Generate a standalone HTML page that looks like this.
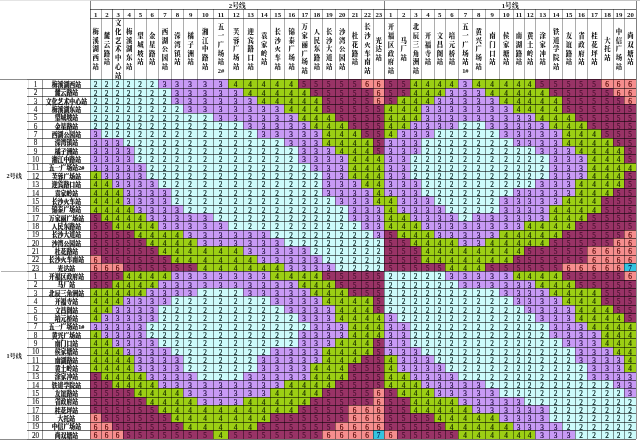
<!DOCTYPE html><html><head><meta charset="utf-8"><title>长沙地铁票价表</title><style>html,body{margin:0;padding:0;background:#fff;}#p{position:relative;width:640px;height:443px;overflow:hidden;background:#fff;font-family:"Liberation Serif","Noto Serif CJK SC",serif;}.c{position:absolute;box-sizing:border-box;padding-top:0.8px;text-align:center;font-size:7.3px;line-height:9px;font-family:"Liberation Serif",serif;-webkit-text-stroke:0.15px currentColor;}.h{position:absolute;}.v{position:absolute;width:1px;background:rgba(0,0,0,0.42);}.hl{position:absolute;height:1px;background:rgba(0,0,0,0.56);}.n{position:absolute;text-align:center;font-size:6.3px;line-height:8.4px;color:#222;}.s{position:absolute;text-align:center;font-size:5.9px;line-height:8.4px;font-weight:900;color:#111;-webkit-text-stroke:0.15px #111;transform:scaleY(1.12);white-space:nowrap;font-family:"Liberation Serif","Noto Serif CJK SC",serif;}.t{position:absolute;text-align:center;font-size:6.4px;line-height:8.75px;font-weight:900;color:#111;font-family:"Liberation Serif","Noto Serif CJK SC",serif;display:flex;flex-direction:column;justify-content:center;align-items:center;}.t span{display:block;height:8.75px;line-height:8.75px;white-space:nowrap;}</style></head><body><div id="p"><div class="c" style="left:90px;top:79px;width:11px;height:9px;background:#cdfbfb;color:#082020">2</div><div class="c" style="left:101px;top:79px;width:11px;height:9px;background:#cdfbfb;color:#082020">2</div><div class="c" style="left:112px;top:79px;width:11px;height:9px;background:#cdfbfb;color:#082020">2</div><div class="c" style="left:123px;top:79px;width:11px;height:9px;background:#cdfbfb;color:#082020">2</div><div class="c" style="left:134px;top:79px;width:12px;height:9px;background:#cdfbfb;color:#082020">2</div><div class="c" style="left:146px;top:79px;width:12px;height:9px;background:#cdfbfb;color:#082020">2</div><div class="c" style="left:158px;top:79px;width:13px;height:9px;background:#c89af5;color:#180634">3</div><div class="c" style="left:171px;top:79px;width:12px;height:9px;background:#c89af5;color:#180634">3</div><div class="c" style="left:183px;top:79px;width:14px;height:9px;background:#c89af5;color:#180634">3</div><div class="c" style="left:197px;top:79px;width:16px;height:9px;background:#c89af5;color:#180634">3</div><div class="c" style="left:213px;top:79px;width:15px;height:9px;background:#c89af5;color:#180634">3</div><div class="c" style="left:228px;top:79px;width:15px;height:9px;background:#9ccf14;color:#102000">4</div><div class="c" style="left:243px;top:79px;width:14px;height:9px;background:#9ccf14;color:#102000">4</div><div class="c" style="left:257px;top:79px;width:13px;height:9px;background:#9ccf14;color:#102000">4</div><div class="c" style="left:270px;top:79px;width:14px;height:9px;background:#9ccf14;color:#102000">4</div><div class="c" style="left:284px;top:79px;width:14px;height:9px;background:#9ccf14;color:#102000">4</div><div class="c" style="left:298px;top:79px;width:12px;height:9px;background:#993366;color:#4a1030">5</div><div class="c" style="left:310px;top:79px;width:12px;height:9px;background:#993366;color:#4a1030">5</div><div class="c" style="left:322px;top:79px;width:13px;height:9px;background:#993366;color:#4a1030">5</div><div class="c" style="left:335px;top:79px;width:13px;height:9px;background:#993366;color:#4a1030">5</div><div class="c" style="left:348px;top:79px;width:13px;height:9px;background:#993366;color:#4a1030">5</div><div class="c" style="left:361px;top:79px;width:12px;height:9px;background:#f68e8e;color:#500404">6</div><div class="c" style="left:373px;top:79px;width:11px;height:9px;background:#f68e8e;color:#500404">6</div><div class="c" style="left:384px;top:79px;width:13px;height:9px;background:#993366;color:#4a1030">5</div><div class="c" style="left:397px;top:79px;width:13px;height:9px;background:#993366;color:#4a1030">5</div><div class="c" style="left:410px;top:79px;width:11px;height:9px;background:#9ccf14;color:#102000">4</div><div class="c" style="left:421px;top:79px;width:13px;height:9px;background:#9ccf14;color:#102000">4</div><div class="c" style="left:434px;top:79px;width:11px;height:9px;background:#9ccf14;color:#102000">4</div><div class="c" style="left:445px;top:79px;width:13px;height:9px;background:#9ccf14;color:#102000">4</div><div class="c" style="left:458px;top:79px;width:14px;height:9px;background:#c89af5;color:#180634">3</div><div class="c" style="left:472px;top:79px;width:13px;height:9px;background:#9ccf14;color:#102000">4</div><div class="c" style="left:485px;top:79px;width:14px;height:9px;background:#9ccf14;color:#102000">4</div><div class="c" style="left:499px;top:79px;width:14px;height:9px;background:#9ccf14;color:#102000">4</div><div class="c" style="left:513px;top:79px;width:11px;height:9px;background:#9ccf14;color:#102000">4</div><div class="c" style="left:524px;top:79px;width:11px;height:9px;background:#9ccf14;color:#102000">4</div><div class="c" style="left:535px;top:79px;width:14px;height:9px;background:#993366;color:#4a1030">5</div><div class="c" style="left:549px;top:79px;width:13px;height:9px;background:#993366;color:#4a1030">5</div><div class="c" style="left:562px;top:79px;width:13px;height:9px;background:#993366;color:#4a1030">5</div><div class="c" style="left:575px;top:79px;width:12px;height:9px;background:#993366;color:#4a1030">5</div><div class="c" style="left:587px;top:79px;width:14px;height:9px;background:#993366;color:#4a1030">5</div><div class="c" style="left:601px;top:79px;width:12px;height:9px;background:#f68e8e;color:#500404">6</div><div class="c" style="left:613px;top:79px;width:11px;height:9px;background:#f68e8e;color:#500404">6</div><div class="c" style="left:624px;top:79px;width:12px;height:9px;background:#f68e8e;color:#500404">6</div><div class="c" style="left:90px;top:88px;width:11px;height:8px;background:#cdfbfb;color:#082020">2</div><div class="c" style="left:101px;top:88px;width:11px;height:8px;background:#cdfbfb;color:#082020">2</div><div class="c" style="left:112px;top:88px;width:11px;height:8px;background:#cdfbfb;color:#082020">2</div><div class="c" style="left:123px;top:88px;width:11px;height:8px;background:#cdfbfb;color:#082020">2</div><div class="c" style="left:134px;top:88px;width:12px;height:8px;background:#cdfbfb;color:#082020">2</div><div class="c" style="left:146px;top:88px;width:12px;height:8px;background:#cdfbfb;color:#082020">2</div><div class="c" style="left:158px;top:88px;width:13px;height:8px;background:#cdfbfb;color:#082020">2</div><div class="c" style="left:171px;top:88px;width:12px;height:8px;background:#c89af5;color:#180634">3</div><div class="c" style="left:183px;top:88px;width:14px;height:8px;background:#c89af5;color:#180634">3</div><div class="c" style="left:197px;top:88px;width:16px;height:8px;background:#c89af5;color:#180634">3</div><div class="c" style="left:213px;top:88px;width:15px;height:8px;background:#c89af5;color:#180634">3</div><div class="c" style="left:228px;top:88px;width:15px;height:8px;background:#c89af5;color:#180634">3</div><div class="c" style="left:243px;top:88px;width:14px;height:8px;background:#9ccf14;color:#102000">4</div><div class="c" style="left:257px;top:88px;width:13px;height:8px;background:#9ccf14;color:#102000">4</div><div class="c" style="left:270px;top:88px;width:14px;height:8px;background:#9ccf14;color:#102000">4</div><div class="c" style="left:284px;top:88px;width:14px;height:8px;background:#9ccf14;color:#102000">4</div><div class="c" style="left:298px;top:88px;width:12px;height:8px;background:#9ccf14;color:#102000">4</div><div class="c" style="left:310px;top:88px;width:12px;height:8px;background:#993366;color:#4a1030">5</div><div class="c" style="left:322px;top:88px;width:13px;height:8px;background:#993366;color:#4a1030">5</div><div class="c" style="left:335px;top:88px;width:13px;height:8px;background:#993366;color:#4a1030">5</div><div class="c" style="left:348px;top:88px;width:13px;height:8px;background:#993366;color:#4a1030">5</div><div class="c" style="left:361px;top:88px;width:12px;height:8px;background:#993366;color:#4a1030">5</div><div class="c" style="left:373px;top:88px;width:11px;height:8px;background:#f68e8e;color:#500404">6</div><div class="c" style="left:384px;top:88px;width:13px;height:8px;background:#993366;color:#4a1030">5</div><div class="c" style="left:397px;top:88px;width:13px;height:8px;background:#993366;color:#4a1030">5</div><div class="c" style="left:410px;top:88px;width:11px;height:8px;background:#9ccf14;color:#102000">4</div><div class="c" style="left:421px;top:88px;width:13px;height:8px;background:#9ccf14;color:#102000">4</div><div class="c" style="left:434px;top:88px;width:11px;height:8px;background:#9ccf14;color:#102000">4</div><div class="c" style="left:445px;top:88px;width:13px;height:8px;background:#c89af5;color:#180634">3</div><div class="c" style="left:458px;top:88px;width:14px;height:8px;background:#c89af5;color:#180634">3</div><div class="c" style="left:472px;top:88px;width:13px;height:8px;background:#c89af5;color:#180634">3</div><div class="c" style="left:485px;top:88px;width:14px;height:8px;background:#9ccf14;color:#102000">4</div><div class="c" style="left:499px;top:88px;width:14px;height:8px;background:#9ccf14;color:#102000">4</div><div class="c" style="left:513px;top:88px;width:11px;height:8px;background:#9ccf14;color:#102000">4</div><div class="c" style="left:524px;top:88px;width:11px;height:8px;background:#9ccf14;color:#102000">4</div><div class="c" style="left:535px;top:88px;width:14px;height:8px;background:#9ccf14;color:#102000">4</div><div class="c" style="left:549px;top:88px;width:13px;height:8px;background:#993366;color:#4a1030">5</div><div class="c" style="left:562px;top:88px;width:13px;height:8px;background:#993366;color:#4a1030">5</div><div class="c" style="left:575px;top:88px;width:12px;height:8px;background:#993366;color:#4a1030">5</div><div class="c" style="left:587px;top:88px;width:14px;height:8px;background:#993366;color:#4a1030">5</div><div class="c" style="left:601px;top:88px;width:12px;height:8px;background:#993366;color:#4a1030">5</div><div class="c" style="left:613px;top:88px;width:11px;height:8px;background:#f68e8e;color:#500404">6</div><div class="c" style="left:624px;top:88px;width:12px;height:8px;background:#f68e8e;color:#500404">6</div><div class="c" style="left:90px;top:96px;width:11px;height:8px;background:#cdfbfb;color:#082020">2</div><div class="c" style="left:101px;top:96px;width:11px;height:8px;background:#cdfbfb;color:#082020">2</div><div class="c" style="left:112px;top:96px;width:11px;height:8px;background:#cdfbfb;color:#082020">2</div><div class="c" style="left:123px;top:96px;width:11px;height:8px;background:#cdfbfb;color:#082020">2</div><div class="c" style="left:134px;top:96px;width:12px;height:8px;background:#cdfbfb;color:#082020">2</div><div class="c" style="left:146px;top:96px;width:12px;height:8px;background:#cdfbfb;color:#082020">2</div><div class="c" style="left:158px;top:96px;width:13px;height:8px;background:#cdfbfb;color:#082020">2</div><div class="c" style="left:171px;top:96px;width:12px;height:8px;background:#c89af5;color:#180634">3</div><div class="c" style="left:183px;top:96px;width:14px;height:8px;background:#c89af5;color:#180634">3</div><div class="c" style="left:197px;top:96px;width:16px;height:8px;background:#c89af5;color:#180634">3</div><div class="c" style="left:213px;top:96px;width:15px;height:8px;background:#c89af5;color:#180634">3</div><div class="c" style="left:228px;top:96px;width:15px;height:8px;background:#c89af5;color:#180634">3</div><div class="c" style="left:243px;top:96px;width:14px;height:8px;background:#c89af5;color:#180634">3</div><div class="c" style="left:257px;top:96px;width:13px;height:8px;background:#9ccf14;color:#102000">4</div><div class="c" style="left:270px;top:96px;width:14px;height:8px;background:#9ccf14;color:#102000">4</div><div class="c" style="left:284px;top:96px;width:14px;height:8px;background:#9ccf14;color:#102000">4</div><div class="c" style="left:298px;top:96px;width:12px;height:8px;background:#9ccf14;color:#102000">4</div><div class="c" style="left:310px;top:96px;width:12px;height:8px;background:#9ccf14;color:#102000">4</div><div class="c" style="left:322px;top:96px;width:13px;height:8px;background:#993366;color:#4a1030">5</div><div class="c" style="left:335px;top:96px;width:13px;height:8px;background:#993366;color:#4a1030">5</div><div class="c" style="left:348px;top:96px;width:13px;height:8px;background:#993366;color:#4a1030">5</div><div class="c" style="left:361px;top:96px;width:12px;height:8px;background:#993366;color:#4a1030">5</div><div class="c" style="left:373px;top:96px;width:11px;height:8px;background:#f68e8e;color:#500404">6</div><div class="c" style="left:384px;top:96px;width:13px;height:8px;background:#993366;color:#4a1030">5</div><div class="c" style="left:397px;top:96px;width:13px;height:8px;background:#9ccf14;color:#102000">4</div><div class="c" style="left:410px;top:96px;width:11px;height:8px;background:#9ccf14;color:#102000">4</div><div class="c" style="left:421px;top:96px;width:13px;height:8px;background:#9ccf14;color:#102000">4</div><div class="c" style="left:434px;top:96px;width:11px;height:8px;background:#c89af5;color:#180634">3</div><div class="c" style="left:445px;top:96px;width:13px;height:8px;background:#c89af5;color:#180634">3</div><div class="c" style="left:458px;top:96px;width:14px;height:8px;background:#c89af5;color:#180634">3</div><div class="c" style="left:472px;top:96px;width:13px;height:8px;background:#c89af5;color:#180634">3</div><div class="c" style="left:485px;top:96px;width:14px;height:8px;background:#c89af5;color:#180634">3</div><div class="c" style="left:499px;top:96px;width:14px;height:8px;background:#9ccf14;color:#102000">4</div><div class="c" style="left:513px;top:96px;width:11px;height:8px;background:#9ccf14;color:#102000">4</div><div class="c" style="left:524px;top:96px;width:11px;height:8px;background:#9ccf14;color:#102000">4</div><div class="c" style="left:535px;top:96px;width:14px;height:8px;background:#9ccf14;color:#102000">4</div><div class="c" style="left:549px;top:96px;width:13px;height:8px;background:#9ccf14;color:#102000">4</div><div class="c" style="left:562px;top:96px;width:13px;height:8px;background:#993366;color:#4a1030">5</div><div class="c" style="left:575px;top:96px;width:12px;height:8px;background:#993366;color:#4a1030">5</div><div class="c" style="left:587px;top:96px;width:14px;height:8px;background:#993366;color:#4a1030">5</div><div class="c" style="left:601px;top:96px;width:12px;height:8px;background:#993366;color:#4a1030">5</div><div class="c" style="left:613px;top:96px;width:11px;height:8px;background:#993366;color:#4a1030">5</div><div class="c" style="left:624px;top:96px;width:12px;height:8px;background:#f68e8e;color:#500404">6</div><div class="c" style="left:90px;top:104px;width:11px;height:9px;background:#cdfbfb;color:#082020">2</div><div class="c" style="left:101px;top:104px;width:11px;height:9px;background:#cdfbfb;color:#082020">2</div><div class="c" style="left:112px;top:104px;width:11px;height:9px;background:#cdfbfb;color:#082020">2</div><div class="c" style="left:123px;top:104px;width:11px;height:9px;background:#cdfbfb;color:#082020">2</div><div class="c" style="left:134px;top:104px;width:12px;height:9px;background:#cdfbfb;color:#082020">2</div><div class="c" style="left:146px;top:104px;width:12px;height:9px;background:#cdfbfb;color:#082020">2</div><div class="c" style="left:158px;top:104px;width:13px;height:9px;background:#cdfbfb;color:#082020">2</div><div class="c" style="left:171px;top:104px;width:12px;height:9px;background:#cdfbfb;color:#082020">2</div><div class="c" style="left:183px;top:104px;width:14px;height:9px;background:#c89af5;color:#180634">3</div><div class="c" style="left:197px;top:104px;width:16px;height:9px;background:#c89af5;color:#180634">3</div><div class="c" style="left:213px;top:104px;width:15px;height:9px;background:#c89af5;color:#180634">3</div><div class="c" style="left:228px;top:104px;width:15px;height:9px;background:#c89af5;color:#180634">3</div><div class="c" style="left:243px;top:104px;width:14px;height:9px;background:#c89af5;color:#180634">3</div><div class="c" style="left:257px;top:104px;width:13px;height:9px;background:#c89af5;color:#180634">3</div><div class="c" style="left:270px;top:104px;width:14px;height:9px;background:#c89af5;color:#180634">3</div><div class="c" style="left:284px;top:104px;width:14px;height:9px;background:#9ccf14;color:#102000">4</div><div class="c" style="left:298px;top:104px;width:12px;height:9px;background:#9ccf14;color:#102000">4</div><div class="c" style="left:310px;top:104px;width:12px;height:9px;background:#9ccf14;color:#102000">4</div><div class="c" style="left:322px;top:104px;width:13px;height:9px;background:#993366;color:#4a1030">5</div><div class="c" style="left:335px;top:104px;width:13px;height:9px;background:#993366;color:#4a1030">5</div><div class="c" style="left:348px;top:104px;width:13px;height:9px;background:#993366;color:#4a1030">5</div><div class="c" style="left:361px;top:104px;width:12px;height:9px;background:#993366;color:#4a1030">5</div><div class="c" style="left:373px;top:104px;width:11px;height:9px;background:#993366;color:#4a1030">5</div><div class="c" style="left:384px;top:104px;width:13px;height:9px;background:#9ccf14;color:#102000">4</div><div class="c" style="left:397px;top:104px;width:13px;height:9px;background:#9ccf14;color:#102000">4</div><div class="c" style="left:410px;top:104px;width:11px;height:9px;background:#9ccf14;color:#102000">4</div><div class="c" style="left:421px;top:104px;width:13px;height:9px;background:#c89af5;color:#180634">3</div><div class="c" style="left:434px;top:104px;width:11px;height:9px;background:#c89af5;color:#180634">3</div><div class="c" style="left:445px;top:104px;width:13px;height:9px;background:#c89af5;color:#180634">3</div><div class="c" style="left:458px;top:104px;width:14px;height:9px;background:#c89af5;color:#180634">3</div><div class="c" style="left:472px;top:104px;width:13px;height:9px;background:#c89af5;color:#180634">3</div><div class="c" style="left:485px;top:104px;width:14px;height:9px;background:#c89af5;color:#180634">3</div><div class="c" style="left:499px;top:104px;width:14px;height:9px;background:#c89af5;color:#180634">3</div><div class="c" style="left:513px;top:104px;width:11px;height:9px;background:#9ccf14;color:#102000">4</div><div class="c" style="left:524px;top:104px;width:11px;height:9px;background:#9ccf14;color:#102000">4</div><div class="c" style="left:535px;top:104px;width:14px;height:9px;background:#9ccf14;color:#102000">4</div><div class="c" style="left:549px;top:104px;width:13px;height:9px;background:#9ccf14;color:#102000">4</div><div class="c" style="left:562px;top:104px;width:13px;height:9px;background:#993366;color:#4a1030">5</div><div class="c" style="left:575px;top:104px;width:12px;height:9px;background:#993366;color:#4a1030">5</div><div class="c" style="left:587px;top:104px;width:14px;height:9px;background:#993366;color:#4a1030">5</div><div class="c" style="left:601px;top:104px;width:12px;height:9px;background:#993366;color:#4a1030">5</div><div class="c" style="left:613px;top:104px;width:11px;height:9px;background:#993366;color:#4a1030">5</div><div class="c" style="left:624px;top:104px;width:12px;height:9px;background:#993366;color:#4a1030">5</div><div class="c" style="left:90px;top:113px;width:11px;height:8px;background:#cdfbfb;color:#082020">2</div><div class="c" style="left:101px;top:113px;width:11px;height:8px;background:#cdfbfb;color:#082020">2</div><div class="c" style="left:112px;top:113px;width:11px;height:8px;background:#cdfbfb;color:#082020">2</div><div class="c" style="left:123px;top:113px;width:11px;height:8px;background:#cdfbfb;color:#082020">2</div><div class="c" style="left:134px;top:113px;width:12px;height:8px;background:#cdfbfb;color:#082020">2</div><div class="c" style="left:146px;top:113px;width:12px;height:8px;background:#cdfbfb;color:#082020">2</div><div class="c" style="left:158px;top:113px;width:13px;height:8px;background:#cdfbfb;color:#082020">2</div><div class="c" style="left:171px;top:113px;width:12px;height:8px;background:#cdfbfb;color:#082020">2</div><div class="c" style="left:183px;top:113px;width:14px;height:8px;background:#cdfbfb;color:#082020">2</div><div class="c" style="left:197px;top:113px;width:16px;height:8px;background:#cdfbfb;color:#082020">2</div><div class="c" style="left:213px;top:113px;width:15px;height:8px;background:#c89af5;color:#180634">3</div><div class="c" style="left:228px;top:113px;width:15px;height:8px;background:#c89af5;color:#180634">3</div><div class="c" style="left:243px;top:113px;width:14px;height:8px;background:#c89af5;color:#180634">3</div><div class="c" style="left:257px;top:113px;width:13px;height:8px;background:#c89af5;color:#180634">3</div><div class="c" style="left:270px;top:113px;width:14px;height:8px;background:#c89af5;color:#180634">3</div><div class="c" style="left:284px;top:113px;width:14px;height:8px;background:#c89af5;color:#180634">3</div><div class="c" style="left:298px;top:113px;width:12px;height:8px;background:#9ccf14;color:#102000">4</div><div class="c" style="left:310px;top:113px;width:12px;height:8px;background:#9ccf14;color:#102000">4</div><div class="c" style="left:322px;top:113px;width:13px;height:8px;background:#9ccf14;color:#102000">4</div><div class="c" style="left:335px;top:113px;width:13px;height:8px;background:#993366;color:#4a1030">5</div><div class="c" style="left:348px;top:113px;width:13px;height:8px;background:#993366;color:#4a1030">5</div><div class="c" style="left:361px;top:113px;width:12px;height:8px;background:#993366;color:#4a1030">5</div><div class="c" style="left:373px;top:113px;width:11px;height:8px;background:#993366;color:#4a1030">5</div><div class="c" style="left:384px;top:113px;width:13px;height:8px;background:#9ccf14;color:#102000">4</div><div class="c" style="left:397px;top:113px;width:13px;height:8px;background:#9ccf14;color:#102000">4</div><div class="c" style="left:410px;top:113px;width:11px;height:8px;background:#9ccf14;color:#102000">4</div><div class="c" style="left:421px;top:113px;width:13px;height:8px;background:#c89af5;color:#180634">3</div><div class="c" style="left:434px;top:113px;width:11px;height:8px;background:#c89af5;color:#180634">3</div><div class="c" style="left:445px;top:113px;width:13px;height:8px;background:#c89af5;color:#180634">3</div><div class="c" style="left:458px;top:113px;width:14px;height:8px;background:#c89af5;color:#180634">3</div><div class="c" style="left:472px;top:113px;width:13px;height:8px;background:#c89af5;color:#180634">3</div><div class="c" style="left:485px;top:113px;width:14px;height:8px;background:#c89af5;color:#180634">3</div><div class="c" style="left:499px;top:113px;width:14px;height:8px;background:#c89af5;color:#180634">3</div><div class="c" style="left:513px;top:113px;width:11px;height:8px;background:#c89af5;color:#180634">3</div><div class="c" style="left:524px;top:113px;width:11px;height:8px;background:#c89af5;color:#180634">3</div><div class="c" style="left:535px;top:113px;width:14px;height:8px;background:#9ccf14;color:#102000">4</div><div class="c" style="left:549px;top:113px;width:13px;height:8px;background:#9ccf14;color:#102000">4</div><div class="c" style="left:562px;top:113px;width:13px;height:8px;background:#9ccf14;color:#102000">4</div><div class="c" style="left:575px;top:113px;width:12px;height:8px;background:#993366;color:#4a1030">5</div><div class="c" style="left:587px;top:113px;width:14px;height:8px;background:#993366;color:#4a1030">5</div><div class="c" style="left:601px;top:113px;width:12px;height:8px;background:#993366;color:#4a1030">5</div><div class="c" style="left:613px;top:113px;width:11px;height:8px;background:#993366;color:#4a1030">5</div><div class="c" style="left:624px;top:113px;width:12px;height:8px;background:#993366;color:#4a1030">5</div><div class="c" style="left:90px;top:121px;width:11px;height:8px;background:#cdfbfb;color:#082020">2</div><div class="c" style="left:101px;top:121px;width:11px;height:8px;background:#cdfbfb;color:#082020">2</div><div class="c" style="left:112px;top:121px;width:11px;height:8px;background:#cdfbfb;color:#082020">2</div><div class="c" style="left:123px;top:121px;width:11px;height:8px;background:#cdfbfb;color:#082020">2</div><div class="c" style="left:134px;top:121px;width:12px;height:8px;background:#cdfbfb;color:#082020">2</div><div class="c" style="left:146px;top:121px;width:12px;height:8px;background:#cdfbfb;color:#082020">2</div><div class="c" style="left:158px;top:121px;width:13px;height:8px;background:#cdfbfb;color:#082020">2</div><div class="c" style="left:171px;top:121px;width:12px;height:8px;background:#cdfbfb;color:#082020">2</div><div class="c" style="left:183px;top:121px;width:14px;height:8px;background:#cdfbfb;color:#082020">2</div><div class="c" style="left:197px;top:121px;width:16px;height:8px;background:#cdfbfb;color:#082020">2</div><div class="c" style="left:213px;top:121px;width:15px;height:8px;background:#cdfbfb;color:#082020">2</div><div class="c" style="left:228px;top:121px;width:15px;height:8px;background:#cdfbfb;color:#082020">2</div><div class="c" style="left:243px;top:121px;width:14px;height:8px;background:#c89af5;color:#180634">3</div><div class="c" style="left:257px;top:121px;width:13px;height:8px;background:#c89af5;color:#180634">3</div><div class="c" style="left:270px;top:121px;width:14px;height:8px;background:#c89af5;color:#180634">3</div><div class="c" style="left:284px;top:121px;width:14px;height:8px;background:#c89af5;color:#180634">3</div><div class="c" style="left:298px;top:121px;width:12px;height:8px;background:#c89af5;color:#180634">3</div><div class="c" style="left:310px;top:121px;width:12px;height:8px;background:#9ccf14;color:#102000">4</div><div class="c" style="left:322px;top:121px;width:13px;height:8px;background:#9ccf14;color:#102000">4</div><div class="c" style="left:335px;top:121px;width:13px;height:8px;background:#9ccf14;color:#102000">4</div><div class="c" style="left:348px;top:121px;width:13px;height:8px;background:#993366;color:#4a1030">5</div><div class="c" style="left:361px;top:121px;width:12px;height:8px;background:#993366;color:#4a1030">5</div><div class="c" style="left:373px;top:121px;width:11px;height:8px;background:#993366;color:#4a1030">5</div><div class="c" style="left:384px;top:121px;width:13px;height:8px;background:#9ccf14;color:#102000">4</div><div class="c" style="left:397px;top:121px;width:13px;height:8px;background:#9ccf14;color:#102000">4</div><div class="c" style="left:410px;top:121px;width:11px;height:8px;background:#c89af5;color:#180634">3</div><div class="c" style="left:421px;top:121px;width:13px;height:8px;background:#c89af5;color:#180634">3</div><div class="c" style="left:434px;top:121px;width:11px;height:8px;background:#c89af5;color:#180634">3</div><div class="c" style="left:445px;top:121px;width:13px;height:8px;background:#c89af5;color:#180634">3</div><div class="c" style="left:458px;top:121px;width:14px;height:8px;background:#cdfbfb;color:#082020">2</div><div class="c" style="left:472px;top:121px;width:13px;height:8px;background:#cdfbfb;color:#082020">2</div><div class="c" style="left:485px;top:121px;width:14px;height:8px;background:#c89af5;color:#180634">3</div><div class="c" style="left:499px;top:121px;width:14px;height:8px;background:#c89af5;color:#180634">3</div><div class="c" style="left:513px;top:121px;width:11px;height:8px;background:#c89af5;color:#180634">3</div><div class="c" style="left:524px;top:121px;width:11px;height:8px;background:#c89af5;color:#180634">3</div><div class="c" style="left:535px;top:121px;width:14px;height:8px;background:#c89af5;color:#180634">3</div><div class="c" style="left:549px;top:121px;width:13px;height:8px;background:#9ccf14;color:#102000">4</div><div class="c" style="left:562px;top:121px;width:13px;height:8px;background:#9ccf14;color:#102000">4</div><div class="c" style="left:575px;top:121px;width:12px;height:8px;background:#9ccf14;color:#102000">4</div><div class="c" style="left:587px;top:121px;width:14px;height:8px;background:#993366;color:#4a1030">5</div><div class="c" style="left:601px;top:121px;width:12px;height:8px;background:#993366;color:#4a1030">5</div><div class="c" style="left:613px;top:121px;width:11px;height:8px;background:#993366;color:#4a1030">5</div><div class="c" style="left:624px;top:121px;width:12px;height:8px;background:#993366;color:#4a1030">5</div><div class="c" style="left:90px;top:129px;width:11px;height:9px;background:#c89af5;color:#180634">3</div><div class="c" style="left:101px;top:129px;width:11px;height:9px;background:#cdfbfb;color:#082020">2</div><div class="c" style="left:112px;top:129px;width:11px;height:9px;background:#cdfbfb;color:#082020">2</div><div class="c" style="left:123px;top:129px;width:11px;height:9px;background:#cdfbfb;color:#082020">2</div><div class="c" style="left:134px;top:129px;width:12px;height:9px;background:#cdfbfb;color:#082020">2</div><div class="c" style="left:146px;top:129px;width:12px;height:9px;background:#cdfbfb;color:#082020">2</div><div class="c" style="left:158px;top:129px;width:13px;height:9px;background:#cdfbfb;color:#082020">2</div><div class="c" style="left:171px;top:129px;width:12px;height:9px;background:#cdfbfb;color:#082020">2</div><div class="c" style="left:183px;top:129px;width:14px;height:9px;background:#cdfbfb;color:#082020">2</div><div class="c" style="left:197px;top:129px;width:16px;height:9px;background:#cdfbfb;color:#082020">2</div><div class="c" style="left:213px;top:129px;width:15px;height:9px;background:#cdfbfb;color:#082020">2</div><div class="c" style="left:228px;top:129px;width:15px;height:9px;background:#cdfbfb;color:#082020">2</div><div class="c" style="left:243px;top:129px;width:14px;height:9px;background:#cdfbfb;color:#082020">2</div><div class="c" style="left:257px;top:129px;width:13px;height:9px;background:#c89af5;color:#180634">3</div><div class="c" style="left:270px;top:129px;width:14px;height:9px;background:#c89af5;color:#180634">3</div><div class="c" style="left:284px;top:129px;width:14px;height:9px;background:#c89af5;color:#180634">3</div><div class="c" style="left:298px;top:129px;width:12px;height:9px;background:#c89af5;color:#180634">3</div><div class="c" style="left:310px;top:129px;width:12px;height:9px;background:#c89af5;color:#180634">3</div><div class="c" style="left:322px;top:129px;width:13px;height:9px;background:#9ccf14;color:#102000">4</div><div class="c" style="left:335px;top:129px;width:13px;height:9px;background:#9ccf14;color:#102000">4</div><div class="c" style="left:348px;top:129px;width:13px;height:9px;background:#9ccf14;color:#102000">4</div><div class="c" style="left:361px;top:129px;width:12px;height:9px;background:#993366;color:#4a1030">5</div><div class="c" style="left:373px;top:129px;width:11px;height:9px;background:#993366;color:#4a1030">5</div><div class="c" style="left:384px;top:129px;width:13px;height:9px;background:#9ccf14;color:#102000">4</div><div class="c" style="left:397px;top:129px;width:13px;height:9px;background:#c89af5;color:#180634">3</div><div class="c" style="left:410px;top:129px;width:11px;height:9px;background:#c89af5;color:#180634">3</div><div class="c" style="left:421px;top:129px;width:13px;height:9px;background:#c89af5;color:#180634">3</div><div class="c" style="left:434px;top:129px;width:11px;height:9px;background:#cdfbfb;color:#082020">2</div><div class="c" style="left:445px;top:129px;width:13px;height:9px;background:#cdfbfb;color:#082020">2</div><div class="c" style="left:458px;top:129px;width:14px;height:9px;background:#cdfbfb;color:#082020">2</div><div class="c" style="left:472px;top:129px;width:13px;height:9px;background:#cdfbfb;color:#082020">2</div><div class="c" style="left:485px;top:129px;width:14px;height:9px;background:#cdfbfb;color:#082020">2</div><div class="c" style="left:499px;top:129px;width:14px;height:9px;background:#c89af5;color:#180634">3</div><div class="c" style="left:513px;top:129px;width:11px;height:9px;background:#c89af5;color:#180634">3</div><div class="c" style="left:524px;top:129px;width:11px;height:9px;background:#c89af5;color:#180634">3</div><div class="c" style="left:535px;top:129px;width:14px;height:9px;background:#c89af5;color:#180634">3</div><div class="c" style="left:549px;top:129px;width:13px;height:9px;background:#c89af5;color:#180634">3</div><div class="c" style="left:562px;top:129px;width:13px;height:9px;background:#9ccf14;color:#102000">4</div><div class="c" style="left:575px;top:129px;width:12px;height:9px;background:#9ccf14;color:#102000">4</div><div class="c" style="left:587px;top:129px;width:14px;height:9px;background:#9ccf14;color:#102000">4</div><div class="c" style="left:601px;top:129px;width:12px;height:9px;background:#993366;color:#4a1030">5</div><div class="c" style="left:613px;top:129px;width:11px;height:9px;background:#993366;color:#4a1030">5</div><div class="c" style="left:624px;top:129px;width:12px;height:9px;background:#993366;color:#4a1030">5</div><div class="c" style="left:90px;top:138px;width:11px;height:8px;background:#c89af5;color:#180634">3</div><div class="c" style="left:101px;top:138px;width:11px;height:8px;background:#c89af5;color:#180634">3</div><div class="c" style="left:112px;top:138px;width:11px;height:8px;background:#c89af5;color:#180634">3</div><div class="c" style="left:123px;top:138px;width:11px;height:8px;background:#cdfbfb;color:#082020">2</div><div class="c" style="left:134px;top:138px;width:12px;height:8px;background:#cdfbfb;color:#082020">2</div><div class="c" style="left:146px;top:138px;width:12px;height:8px;background:#cdfbfb;color:#082020">2</div><div class="c" style="left:158px;top:138px;width:13px;height:8px;background:#cdfbfb;color:#082020">2</div><div class="c" style="left:171px;top:138px;width:12px;height:8px;background:#cdfbfb;color:#082020">2</div><div class="c" style="left:183px;top:138px;width:14px;height:8px;background:#cdfbfb;color:#082020">2</div><div class="c" style="left:197px;top:138px;width:16px;height:8px;background:#cdfbfb;color:#082020">2</div><div class="c" style="left:213px;top:138px;width:15px;height:8px;background:#cdfbfb;color:#082020">2</div><div class="c" style="left:228px;top:138px;width:15px;height:8px;background:#cdfbfb;color:#082020">2</div><div class="c" style="left:243px;top:138px;width:14px;height:8px;background:#cdfbfb;color:#082020">2</div><div class="c" style="left:257px;top:138px;width:13px;height:8px;background:#cdfbfb;color:#082020">2</div><div class="c" style="left:270px;top:138px;width:14px;height:8px;background:#cdfbfb;color:#082020">2</div><div class="c" style="left:284px;top:138px;width:14px;height:8px;background:#c89af5;color:#180634">3</div><div class="c" style="left:298px;top:138px;width:12px;height:8px;background:#c89af5;color:#180634">3</div><div class="c" style="left:310px;top:138px;width:12px;height:8px;background:#c89af5;color:#180634">3</div><div class="c" style="left:322px;top:138px;width:13px;height:8px;background:#9ccf14;color:#102000">4</div><div class="c" style="left:335px;top:138px;width:13px;height:8px;background:#9ccf14;color:#102000">4</div><div class="c" style="left:348px;top:138px;width:13px;height:8px;background:#9ccf14;color:#102000">4</div><div class="c" style="left:361px;top:138px;width:12px;height:8px;background:#9ccf14;color:#102000">4</div><div class="c" style="left:373px;top:138px;width:11px;height:8px;background:#993366;color:#4a1030">5</div><div class="c" style="left:384px;top:138px;width:13px;height:8px;background:#c89af5;color:#180634">3</div><div class="c" style="left:397px;top:138px;width:13px;height:8px;background:#c89af5;color:#180634">3</div><div class="c" style="left:410px;top:138px;width:11px;height:8px;background:#c89af5;color:#180634">3</div><div class="c" style="left:421px;top:138px;width:13px;height:8px;background:#cdfbfb;color:#082020">2</div><div class="c" style="left:434px;top:138px;width:11px;height:8px;background:#cdfbfb;color:#082020">2</div><div class="c" style="left:445px;top:138px;width:13px;height:8px;background:#cdfbfb;color:#082020">2</div><div class="c" style="left:458px;top:138px;width:14px;height:8px;background:#cdfbfb;color:#082020">2</div><div class="c" style="left:472px;top:138px;width:13px;height:8px;background:#cdfbfb;color:#082020">2</div><div class="c" style="left:485px;top:138px;width:14px;height:8px;background:#cdfbfb;color:#082020">2</div><div class="c" style="left:499px;top:138px;width:14px;height:8px;background:#cdfbfb;color:#082020">2</div><div class="c" style="left:513px;top:138px;width:11px;height:8px;background:#c89af5;color:#180634">3</div><div class="c" style="left:524px;top:138px;width:11px;height:8px;background:#c89af5;color:#180634">3</div><div class="c" style="left:535px;top:138px;width:14px;height:8px;background:#c89af5;color:#180634">3</div><div class="c" style="left:549px;top:138px;width:13px;height:8px;background:#c89af5;color:#180634">3</div><div class="c" style="left:562px;top:138px;width:13px;height:8px;background:#9ccf14;color:#102000">4</div><div class="c" style="left:575px;top:138px;width:12px;height:8px;background:#9ccf14;color:#102000">4</div><div class="c" style="left:587px;top:138px;width:14px;height:8px;background:#9ccf14;color:#102000">4</div><div class="c" style="left:601px;top:138px;width:12px;height:8px;background:#9ccf14;color:#102000">4</div><div class="c" style="left:613px;top:138px;width:11px;height:8px;background:#993366;color:#4a1030">5</div><div class="c" style="left:624px;top:138px;width:12px;height:8px;background:#993366;color:#4a1030">5</div><div class="c" style="left:90px;top:146px;width:11px;height:8px;background:#c89af5;color:#180634">3</div><div class="c" style="left:101px;top:146px;width:11px;height:8px;background:#c89af5;color:#180634">3</div><div class="c" style="left:112px;top:146px;width:11px;height:8px;background:#c89af5;color:#180634">3</div><div class="c" style="left:123px;top:146px;width:11px;height:8px;background:#c89af5;color:#180634">3</div><div class="c" style="left:134px;top:146px;width:12px;height:8px;background:#cdfbfb;color:#082020">2</div><div class="c" style="left:146px;top:146px;width:12px;height:8px;background:#cdfbfb;color:#082020">2</div><div class="c" style="left:158px;top:146px;width:13px;height:8px;background:#cdfbfb;color:#082020">2</div><div class="c" style="left:171px;top:146px;width:12px;height:8px;background:#cdfbfb;color:#082020">2</div><div class="c" style="left:183px;top:146px;width:14px;height:8px;background:#cdfbfb;color:#082020">2</div><div class="c" style="left:197px;top:146px;width:16px;height:8px;background:#cdfbfb;color:#082020">2</div><div class="c" style="left:213px;top:146px;width:15px;height:8px;background:#cdfbfb;color:#082020">2</div><div class="c" style="left:228px;top:146px;width:15px;height:8px;background:#cdfbfb;color:#082020">2</div><div class="c" style="left:243px;top:146px;width:14px;height:8px;background:#cdfbfb;color:#082020">2</div><div class="c" style="left:257px;top:146px;width:13px;height:8px;background:#cdfbfb;color:#082020">2</div><div class="c" style="left:270px;top:146px;width:14px;height:8px;background:#cdfbfb;color:#082020">2</div><div class="c" style="left:284px;top:146px;width:14px;height:8px;background:#cdfbfb;color:#082020">2</div><div class="c" style="left:298px;top:146px;width:12px;height:8px;background:#c89af5;color:#180634">3</div><div class="c" style="left:310px;top:146px;width:12px;height:8px;background:#c89af5;color:#180634">3</div><div class="c" style="left:322px;top:146px;width:13px;height:8px;background:#c89af5;color:#180634">3</div><div class="c" style="left:335px;top:146px;width:13px;height:8px;background:#9ccf14;color:#102000">4</div><div class="c" style="left:348px;top:146px;width:13px;height:8px;background:#9ccf14;color:#102000">4</div><div class="c" style="left:361px;top:146px;width:12px;height:8px;background:#9ccf14;color:#102000">4</div><div class="c" style="left:373px;top:146px;width:11px;height:8px;background:#993366;color:#4a1030">5</div><div class="c" style="left:384px;top:146px;width:13px;height:8px;background:#c89af5;color:#180634">3</div><div class="c" style="left:397px;top:146px;width:13px;height:8px;background:#c89af5;color:#180634">3</div><div class="c" style="left:410px;top:146px;width:11px;height:8px;background:#c89af5;color:#180634">3</div><div class="c" style="left:421px;top:146px;width:13px;height:8px;background:#cdfbfb;color:#082020">2</div><div class="c" style="left:434px;top:146px;width:11px;height:8px;background:#cdfbfb;color:#082020">2</div><div class="c" style="left:445px;top:146px;width:13px;height:8px;background:#cdfbfb;color:#082020">2</div><div class="c" style="left:458px;top:146px;width:14px;height:8px;background:#cdfbfb;color:#082020">2</div><div class="c" style="left:472px;top:146px;width:13px;height:8px;background:#cdfbfb;color:#082020">2</div><div class="c" style="left:485px;top:146px;width:14px;height:8px;background:#cdfbfb;color:#082020">2</div><div class="c" style="left:499px;top:146px;width:14px;height:8px;background:#cdfbfb;color:#082020">2</div><div class="c" style="left:513px;top:146px;width:11px;height:8px;background:#cdfbfb;color:#082020">2</div><div class="c" style="left:524px;top:146px;width:11px;height:8px;background:#cdfbfb;color:#082020">2</div><div class="c" style="left:535px;top:146px;width:14px;height:8px;background:#c89af5;color:#180634">3</div><div class="c" style="left:549px;top:146px;width:13px;height:8px;background:#c89af5;color:#180634">3</div><div class="c" style="left:562px;top:146px;width:13px;height:8px;background:#c89af5;color:#180634">3</div><div class="c" style="left:575px;top:146px;width:12px;height:8px;background:#9ccf14;color:#102000">4</div><div class="c" style="left:587px;top:146px;width:14px;height:8px;background:#9ccf14;color:#102000">4</div><div class="c" style="left:601px;top:146px;width:12px;height:8px;background:#9ccf14;color:#102000">4</div><div class="c" style="left:613px;top:146px;width:11px;height:8px;background:#9ccf14;color:#102000">4</div><div class="c" style="left:624px;top:146px;width:12px;height:8px;background:#993366;color:#4a1030">5</div><div class="c" style="left:90px;top:154px;width:11px;height:9px;background:#c89af5;color:#180634">3</div><div class="c" style="left:101px;top:154px;width:11px;height:9px;background:#c89af5;color:#180634">3</div><div class="c" style="left:112px;top:154px;width:11px;height:9px;background:#c89af5;color:#180634">3</div><div class="c" style="left:123px;top:154px;width:11px;height:9px;background:#c89af5;color:#180634">3</div><div class="c" style="left:134px;top:154px;width:12px;height:9px;background:#cdfbfb;color:#082020">2</div><div class="c" style="left:146px;top:154px;width:12px;height:9px;background:#cdfbfb;color:#082020">2</div><div class="c" style="left:158px;top:154px;width:13px;height:9px;background:#cdfbfb;color:#082020">2</div><div class="c" style="left:171px;top:154px;width:12px;height:9px;background:#cdfbfb;color:#082020">2</div><div class="c" style="left:183px;top:154px;width:14px;height:9px;background:#cdfbfb;color:#082020">2</div><div class="c" style="left:197px;top:154px;width:16px;height:9px;background:#cdfbfb;color:#082020">2</div><div class="c" style="left:213px;top:154px;width:15px;height:9px;background:#cdfbfb;color:#082020">2</div><div class="c" style="left:228px;top:154px;width:15px;height:9px;background:#cdfbfb;color:#082020">2</div><div class="c" style="left:243px;top:154px;width:14px;height:9px;background:#cdfbfb;color:#082020">2</div><div class="c" style="left:257px;top:154px;width:13px;height:9px;background:#cdfbfb;color:#082020">2</div><div class="c" style="left:270px;top:154px;width:14px;height:9px;background:#cdfbfb;color:#082020">2</div><div class="c" style="left:284px;top:154px;width:14px;height:9px;background:#cdfbfb;color:#082020">2</div><div class="c" style="left:298px;top:154px;width:12px;height:9px;background:#c89af5;color:#180634">3</div><div class="c" style="left:310px;top:154px;width:12px;height:9px;background:#c89af5;color:#180634">3</div><div class="c" style="left:322px;top:154px;width:13px;height:9px;background:#c89af5;color:#180634">3</div><div class="c" style="left:335px;top:154px;width:13px;height:9px;background:#c89af5;color:#180634">3</div><div class="c" style="left:348px;top:154px;width:13px;height:9px;background:#9ccf14;color:#102000">4</div><div class="c" style="left:361px;top:154px;width:12px;height:9px;background:#9ccf14;color:#102000">4</div><div class="c" style="left:373px;top:154px;width:11px;height:9px;background:#9ccf14;color:#102000">4</div><div class="c" style="left:384px;top:154px;width:13px;height:9px;background:#c89af5;color:#180634">3</div><div class="c" style="left:397px;top:154px;width:13px;height:9px;background:#c89af5;color:#180634">3</div><div class="c" style="left:410px;top:154px;width:11px;height:9px;background:#cdfbfb;color:#082020">2</div><div class="c" style="left:421px;top:154px;width:13px;height:9px;background:#cdfbfb;color:#082020">2</div><div class="c" style="left:434px;top:154px;width:11px;height:9px;background:#cdfbfb;color:#082020">2</div><div class="c" style="left:445px;top:154px;width:13px;height:9px;background:#cdfbfb;color:#082020">2</div><div class="c" style="left:458px;top:154px;width:14px;height:9px;background:#cdfbfb;color:#082020">2</div><div class="c" style="left:472px;top:154px;width:13px;height:9px;background:#cdfbfb;color:#082020">2</div><div class="c" style="left:485px;top:154px;width:14px;height:9px;background:#cdfbfb;color:#082020">2</div><div class="c" style="left:499px;top:154px;width:14px;height:9px;background:#cdfbfb;color:#082020">2</div><div class="c" style="left:513px;top:154px;width:11px;height:9px;background:#cdfbfb;color:#082020">2</div><div class="c" style="left:524px;top:154px;width:11px;height:9px;background:#cdfbfb;color:#082020">2</div><div class="c" style="left:535px;top:154px;width:14px;height:9px;background:#cdfbfb;color:#082020">2</div><div class="c" style="left:549px;top:154px;width:13px;height:9px;background:#c89af5;color:#180634">3</div><div class="c" style="left:562px;top:154px;width:13px;height:9px;background:#c89af5;color:#180634">3</div><div class="c" style="left:575px;top:154px;width:12px;height:9px;background:#c89af5;color:#180634">3</div><div class="c" style="left:587px;top:154px;width:14px;height:9px;background:#9ccf14;color:#102000">4</div><div class="c" style="left:601px;top:154px;width:12px;height:9px;background:#9ccf14;color:#102000">4</div><div class="c" style="left:613px;top:154px;width:11px;height:9px;background:#9ccf14;color:#102000">4</div><div class="c" style="left:624px;top:154px;width:12px;height:9px;background:#993366;color:#4a1030">5</div><div class="c" style="left:90px;top:163px;width:11px;height:8px;background:#c89af5;color:#180634">3</div><div class="c" style="left:101px;top:163px;width:11px;height:8px;background:#c89af5;color:#180634">3</div><div class="c" style="left:112px;top:163px;width:11px;height:8px;background:#c89af5;color:#180634">3</div><div class="c" style="left:123px;top:163px;width:11px;height:8px;background:#c89af5;color:#180634">3</div><div class="c" style="left:134px;top:163px;width:12px;height:8px;background:#c89af5;color:#180634">3</div><div class="c" style="left:146px;top:163px;width:12px;height:8px;background:#cdfbfb;color:#082020">2</div><div class="c" style="left:158px;top:163px;width:13px;height:8px;background:#cdfbfb;color:#082020">2</div><div class="c" style="left:171px;top:163px;width:12px;height:8px;background:#cdfbfb;color:#082020">2</div><div class="c" style="left:183px;top:163px;width:14px;height:8px;background:#cdfbfb;color:#082020">2</div><div class="c" style="left:197px;top:163px;width:16px;height:8px;background:#cdfbfb;color:#082020">2</div><div class="c" style="left:213px;top:163px;width:15px;height:8px;background:#cdfbfb;color:#082020">2</div><div class="c" style="left:228px;top:163px;width:15px;height:8px;background:#cdfbfb;color:#082020">2</div><div class="c" style="left:243px;top:163px;width:14px;height:8px;background:#cdfbfb;color:#082020">2</div><div class="c" style="left:257px;top:163px;width:13px;height:8px;background:#cdfbfb;color:#082020">2</div><div class="c" style="left:270px;top:163px;width:14px;height:8px;background:#cdfbfb;color:#082020">2</div><div class="c" style="left:284px;top:163px;width:14px;height:8px;background:#cdfbfb;color:#082020">2</div><div class="c" style="left:298px;top:163px;width:12px;height:8px;background:#cdfbfb;color:#082020">2</div><div class="c" style="left:310px;top:163px;width:12px;height:8px;background:#c89af5;color:#180634">3</div><div class="c" style="left:322px;top:163px;width:13px;height:8px;background:#c89af5;color:#180634">3</div><div class="c" style="left:335px;top:163px;width:13px;height:8px;background:#c89af5;color:#180634">3</div><div class="c" style="left:348px;top:163px;width:13px;height:8px;background:#9ccf14;color:#102000">4</div><div class="c" style="left:361px;top:163px;width:12px;height:8px;background:#9ccf14;color:#102000">4</div><div class="c" style="left:373px;top:163px;width:11px;height:8px;background:#9ccf14;color:#102000">4</div><div class="c" style="left:384px;top:163px;width:13px;height:8px;background:#c89af5;color:#180634">3</div><div class="c" style="left:397px;top:163px;width:13px;height:8px;background:#c89af5;color:#180634">3</div><div class="c" style="left:410px;top:163px;width:11px;height:8px;background:#cdfbfb;color:#082020">2</div><div class="c" style="left:421px;top:163px;width:13px;height:8px;background:#cdfbfb;color:#082020">2</div><div class="c" style="left:434px;top:163px;width:11px;height:8px;background:#cdfbfb;color:#082020">2</div><div class="c" style="left:445px;top:163px;width:13px;height:8px;background:#cdfbfb;color:#082020">2</div><div class="c" style="left:458px;top:163px;width:14px;height:8px;background:#cdfbfb;color:#082020">2</div><div class="c" style="left:472px;top:163px;width:13px;height:8px;background:#cdfbfb;color:#082020">2</div><div class="c" style="left:485px;top:163px;width:14px;height:8px;background:#cdfbfb;color:#082020">2</div><div class="c" style="left:499px;top:163px;width:14px;height:8px;background:#cdfbfb;color:#082020">2</div><div class="c" style="left:513px;top:163px;width:11px;height:8px;background:#cdfbfb;color:#082020">2</div><div class="c" style="left:524px;top:163px;width:11px;height:8px;background:#cdfbfb;color:#082020">2</div><div class="c" style="left:535px;top:163px;width:14px;height:8px;background:#cdfbfb;color:#082020">2</div><div class="c" style="left:549px;top:163px;width:13px;height:8px;background:#c89af5;color:#180634">3</div><div class="c" style="left:562px;top:163px;width:13px;height:8px;background:#c89af5;color:#180634">3</div><div class="c" style="left:575px;top:163px;width:12px;height:8px;background:#c89af5;color:#180634">3</div><div class="c" style="left:587px;top:163px;width:14px;height:8px;background:#9ccf14;color:#102000">4</div><div class="c" style="left:601px;top:163px;width:12px;height:8px;background:#9ccf14;color:#102000">4</div><div class="c" style="left:613px;top:163px;width:11px;height:8px;background:#9ccf14;color:#102000">4</div><div class="c" style="left:624px;top:163px;width:12px;height:8px;background:#9ccf14;color:#102000">4</div><div class="c" style="left:90px;top:171px;width:11px;height:8px;background:#9ccf14;color:#102000">4</div><div class="c" style="left:101px;top:171px;width:11px;height:8px;background:#c89af5;color:#180634">3</div><div class="c" style="left:112px;top:171px;width:11px;height:8px;background:#c89af5;color:#180634">3</div><div class="c" style="left:123px;top:171px;width:11px;height:8px;background:#c89af5;color:#180634">3</div><div class="c" style="left:134px;top:171px;width:12px;height:8px;background:#c89af5;color:#180634">3</div><div class="c" style="left:146px;top:171px;width:12px;height:8px;background:#cdfbfb;color:#082020">2</div><div class="c" style="left:158px;top:171px;width:13px;height:8px;background:#cdfbfb;color:#082020">2</div><div class="c" style="left:171px;top:171px;width:12px;height:8px;background:#cdfbfb;color:#082020">2</div><div class="c" style="left:183px;top:171px;width:14px;height:8px;background:#cdfbfb;color:#082020">2</div><div class="c" style="left:197px;top:171px;width:16px;height:8px;background:#cdfbfb;color:#082020">2</div><div class="c" style="left:213px;top:171px;width:15px;height:8px;background:#cdfbfb;color:#082020">2</div><div class="c" style="left:228px;top:171px;width:15px;height:8px;background:#cdfbfb;color:#082020">2</div><div class="c" style="left:243px;top:171px;width:14px;height:8px;background:#cdfbfb;color:#082020">2</div><div class="c" style="left:257px;top:171px;width:13px;height:8px;background:#cdfbfb;color:#082020">2</div><div class="c" style="left:270px;top:171px;width:14px;height:8px;background:#cdfbfb;color:#082020">2</div><div class="c" style="left:284px;top:171px;width:14px;height:8px;background:#cdfbfb;color:#082020">2</div><div class="c" style="left:298px;top:171px;width:12px;height:8px;background:#cdfbfb;color:#082020">2</div><div class="c" style="left:310px;top:171px;width:12px;height:8px;background:#cdfbfb;color:#082020">2</div><div class="c" style="left:322px;top:171px;width:13px;height:8px;background:#c89af5;color:#180634">3</div><div class="c" style="left:335px;top:171px;width:13px;height:8px;background:#c89af5;color:#180634">3</div><div class="c" style="left:348px;top:171px;width:13px;height:8px;background:#9ccf14;color:#102000">4</div><div class="c" style="left:361px;top:171px;width:12px;height:8px;background:#9ccf14;color:#102000">4</div><div class="c" style="left:373px;top:171px;width:11px;height:8px;background:#9ccf14;color:#102000">4</div><div class="c" style="left:384px;top:171px;width:13px;height:8px;background:#c89af5;color:#180634">3</div><div class="c" style="left:397px;top:171px;width:13px;height:8px;background:#c89af5;color:#180634">3</div><div class="c" style="left:410px;top:171px;width:11px;height:8px;background:#cdfbfb;color:#082020">2</div><div class="c" style="left:421px;top:171px;width:13px;height:8px;background:#cdfbfb;color:#082020">2</div><div class="c" style="left:434px;top:171px;width:11px;height:8px;background:#cdfbfb;color:#082020">2</div><div class="c" style="left:445px;top:171px;width:13px;height:8px;background:#cdfbfb;color:#082020">2</div><div class="c" style="left:458px;top:171px;width:14px;height:8px;background:#cdfbfb;color:#082020">2</div><div class="c" style="left:472px;top:171px;width:13px;height:8px;background:#cdfbfb;color:#082020">2</div><div class="c" style="left:485px;top:171px;width:14px;height:8px;background:#cdfbfb;color:#082020">2</div><div class="c" style="left:499px;top:171px;width:14px;height:8px;background:#cdfbfb;color:#082020">2</div><div class="c" style="left:513px;top:171px;width:11px;height:8px;background:#cdfbfb;color:#082020">2</div><div class="c" style="left:524px;top:171px;width:11px;height:8px;background:#cdfbfb;color:#082020">2</div><div class="c" style="left:535px;top:171px;width:14px;height:8px;background:#cdfbfb;color:#082020">2</div><div class="c" style="left:549px;top:171px;width:13px;height:8px;background:#c89af5;color:#180634">3</div><div class="c" style="left:562px;top:171px;width:13px;height:8px;background:#c89af5;color:#180634">3</div><div class="c" style="left:575px;top:171px;width:12px;height:8px;background:#c89af5;color:#180634">3</div><div class="c" style="left:587px;top:171px;width:14px;height:8px;background:#9ccf14;color:#102000">4</div><div class="c" style="left:601px;top:171px;width:12px;height:8px;background:#9ccf14;color:#102000">4</div><div class="c" style="left:613px;top:171px;width:11px;height:8px;background:#9ccf14;color:#102000">4</div><div class="c" style="left:624px;top:171px;width:12px;height:8px;background:#993366;color:#4a1030">5</div><div class="c" style="left:90px;top:179px;width:11px;height:9px;background:#9ccf14;color:#102000">4</div><div class="c" style="left:101px;top:179px;width:11px;height:9px;background:#9ccf14;color:#102000">4</div><div class="c" style="left:112px;top:179px;width:11px;height:9px;background:#c89af5;color:#180634">3</div><div class="c" style="left:123px;top:179px;width:11px;height:9px;background:#c89af5;color:#180634">3</div><div class="c" style="left:134px;top:179px;width:12px;height:9px;background:#c89af5;color:#180634">3</div><div class="c" style="left:146px;top:179px;width:12px;height:9px;background:#c89af5;color:#180634">3</div><div class="c" style="left:158px;top:179px;width:13px;height:9px;background:#cdfbfb;color:#082020">2</div><div class="c" style="left:171px;top:179px;width:12px;height:9px;background:#cdfbfb;color:#082020">2</div><div class="c" style="left:183px;top:179px;width:14px;height:9px;background:#cdfbfb;color:#082020">2</div><div class="c" style="left:197px;top:179px;width:16px;height:9px;background:#cdfbfb;color:#082020">2</div><div class="c" style="left:213px;top:179px;width:15px;height:9px;background:#cdfbfb;color:#082020">2</div><div class="c" style="left:228px;top:179px;width:15px;height:9px;background:#cdfbfb;color:#082020">2</div><div class="c" style="left:243px;top:179px;width:14px;height:9px;background:#cdfbfb;color:#082020">2</div><div class="c" style="left:257px;top:179px;width:13px;height:9px;background:#cdfbfb;color:#082020">2</div><div class="c" style="left:270px;top:179px;width:14px;height:9px;background:#cdfbfb;color:#082020">2</div><div class="c" style="left:284px;top:179px;width:14px;height:9px;background:#cdfbfb;color:#082020">2</div><div class="c" style="left:298px;top:179px;width:12px;height:9px;background:#cdfbfb;color:#082020">2</div><div class="c" style="left:310px;top:179px;width:12px;height:9px;background:#cdfbfb;color:#082020">2</div><div class="c" style="left:322px;top:179px;width:13px;height:9px;background:#c89af5;color:#180634">3</div><div class="c" style="left:335px;top:179px;width:13px;height:9px;background:#c89af5;color:#180634">3</div><div class="c" style="left:348px;top:179px;width:13px;height:9px;background:#c89af5;color:#180634">3</div><div class="c" style="left:361px;top:179px;width:12px;height:9px;background:#9ccf14;color:#102000">4</div><div class="c" style="left:373px;top:179px;width:11px;height:9px;background:#9ccf14;color:#102000">4</div><div class="c" style="left:384px;top:179px;width:13px;height:9px;background:#c89af5;color:#180634">3</div><div class="c" style="left:397px;top:179px;width:13px;height:9px;background:#c89af5;color:#180634">3</div><div class="c" style="left:410px;top:179px;width:11px;height:9px;background:#c89af5;color:#180634">3</div><div class="c" style="left:421px;top:179px;width:13px;height:9px;background:#cdfbfb;color:#082020">2</div><div class="c" style="left:434px;top:179px;width:11px;height:9px;background:#cdfbfb;color:#082020">2</div><div class="c" style="left:445px;top:179px;width:13px;height:9px;background:#cdfbfb;color:#082020">2</div><div class="c" style="left:458px;top:179px;width:14px;height:9px;background:#cdfbfb;color:#082020">2</div><div class="c" style="left:472px;top:179px;width:13px;height:9px;background:#cdfbfb;color:#082020">2</div><div class="c" style="left:485px;top:179px;width:14px;height:9px;background:#cdfbfb;color:#082020">2</div><div class="c" style="left:499px;top:179px;width:14px;height:9px;background:#cdfbfb;color:#082020">2</div><div class="c" style="left:513px;top:179px;width:11px;height:9px;background:#cdfbfb;color:#082020">2</div><div class="c" style="left:524px;top:179px;width:11px;height:9px;background:#cdfbfb;color:#082020">2</div><div class="c" style="left:535px;top:179px;width:14px;height:9px;background:#c89af5;color:#180634">3</div><div class="c" style="left:549px;top:179px;width:13px;height:9px;background:#c89af5;color:#180634">3</div><div class="c" style="left:562px;top:179px;width:13px;height:9px;background:#c89af5;color:#180634">3</div><div class="c" style="left:575px;top:179px;width:12px;height:9px;background:#9ccf14;color:#102000">4</div><div class="c" style="left:587px;top:179px;width:14px;height:9px;background:#9ccf14;color:#102000">4</div><div class="c" style="left:601px;top:179px;width:12px;height:9px;background:#9ccf14;color:#102000">4</div><div class="c" style="left:613px;top:179px;width:11px;height:9px;background:#9ccf14;color:#102000">4</div><div class="c" style="left:624px;top:179px;width:12px;height:9px;background:#993366;color:#4a1030">5</div><div class="c" style="left:90px;top:188px;width:11px;height:8px;background:#9ccf14;color:#102000">4</div><div class="c" style="left:101px;top:188px;width:11px;height:8px;background:#9ccf14;color:#102000">4</div><div class="c" style="left:112px;top:188px;width:11px;height:8px;background:#9ccf14;color:#102000">4</div><div class="c" style="left:123px;top:188px;width:11px;height:8px;background:#c89af5;color:#180634">3</div><div class="c" style="left:134px;top:188px;width:12px;height:8px;background:#c89af5;color:#180634">3</div><div class="c" style="left:146px;top:188px;width:12px;height:8px;background:#c89af5;color:#180634">3</div><div class="c" style="left:158px;top:188px;width:13px;height:8px;background:#c89af5;color:#180634">3</div><div class="c" style="left:171px;top:188px;width:12px;height:8px;background:#cdfbfb;color:#082020">2</div><div class="c" style="left:183px;top:188px;width:14px;height:8px;background:#cdfbfb;color:#082020">2</div><div class="c" style="left:197px;top:188px;width:16px;height:8px;background:#cdfbfb;color:#082020">2</div><div class="c" style="left:213px;top:188px;width:15px;height:8px;background:#cdfbfb;color:#082020">2</div><div class="c" style="left:228px;top:188px;width:15px;height:8px;background:#cdfbfb;color:#082020">2</div><div class="c" style="left:243px;top:188px;width:14px;height:8px;background:#cdfbfb;color:#082020">2</div><div class="c" style="left:257px;top:188px;width:13px;height:8px;background:#cdfbfb;color:#082020">2</div><div class="c" style="left:270px;top:188px;width:14px;height:8px;background:#cdfbfb;color:#082020">2</div><div class="c" style="left:284px;top:188px;width:14px;height:8px;background:#cdfbfb;color:#082020">2</div><div class="c" style="left:298px;top:188px;width:12px;height:8px;background:#cdfbfb;color:#082020">2</div><div class="c" style="left:310px;top:188px;width:12px;height:8px;background:#cdfbfb;color:#082020">2</div><div class="c" style="left:322px;top:188px;width:13px;height:8px;background:#c89af5;color:#180634">3</div><div class="c" style="left:335px;top:188px;width:13px;height:8px;background:#c89af5;color:#180634">3</div><div class="c" style="left:348px;top:188px;width:13px;height:8px;background:#c89af5;color:#180634">3</div><div class="c" style="left:361px;top:188px;width:12px;height:8px;background:#c89af5;color:#180634">3</div><div class="c" style="left:373px;top:188px;width:11px;height:8px;background:#9ccf14;color:#102000">4</div><div class="c" style="left:384px;top:188px;width:13px;height:8px;background:#c89af5;color:#180634">3</div><div class="c" style="left:397px;top:188px;width:13px;height:8px;background:#c89af5;color:#180634">3</div><div class="c" style="left:410px;top:188px;width:11px;height:8px;background:#c89af5;color:#180634">3</div><div class="c" style="left:421px;top:188px;width:13px;height:8px;background:#cdfbfb;color:#082020">2</div><div class="c" style="left:434px;top:188px;width:11px;height:8px;background:#cdfbfb;color:#082020">2</div><div class="c" style="left:445px;top:188px;width:13px;height:8px;background:#cdfbfb;color:#082020">2</div><div class="c" style="left:458px;top:188px;width:14px;height:8px;background:#cdfbfb;color:#082020">2</div><div class="c" style="left:472px;top:188px;width:13px;height:8px;background:#cdfbfb;color:#082020">2</div><div class="c" style="left:485px;top:188px;width:14px;height:8px;background:#cdfbfb;color:#082020">2</div><div class="c" style="left:499px;top:188px;width:14px;height:8px;background:#cdfbfb;color:#082020">2</div><div class="c" style="left:513px;top:188px;width:11px;height:8px;background:#c89af5;color:#180634">3</div><div class="c" style="left:524px;top:188px;width:11px;height:8px;background:#c89af5;color:#180634">3</div><div class="c" style="left:535px;top:188px;width:14px;height:8px;background:#c89af5;color:#180634">3</div><div class="c" style="left:549px;top:188px;width:13px;height:8px;background:#c89af5;color:#180634">3</div><div class="c" style="left:562px;top:188px;width:13px;height:8px;background:#c89af5;color:#180634">3</div><div class="c" style="left:575px;top:188px;width:12px;height:8px;background:#9ccf14;color:#102000">4</div><div class="c" style="left:587px;top:188px;width:14px;height:8px;background:#9ccf14;color:#102000">4</div><div class="c" style="left:601px;top:188px;width:12px;height:8px;background:#9ccf14;color:#102000">4</div><div class="c" style="left:613px;top:188px;width:11px;height:8px;background:#993366;color:#4a1030">5</div><div class="c" style="left:624px;top:188px;width:12px;height:8px;background:#993366;color:#4a1030">5</div><div class="c" style="left:90px;top:196px;width:11px;height:9px;background:#9ccf14;color:#102000">4</div><div class="c" style="left:101px;top:196px;width:11px;height:9px;background:#9ccf14;color:#102000">4</div><div class="c" style="left:112px;top:196px;width:11px;height:9px;background:#9ccf14;color:#102000">4</div><div class="c" style="left:123px;top:196px;width:11px;height:9px;background:#c89af5;color:#180634">3</div><div class="c" style="left:134px;top:196px;width:12px;height:9px;background:#c89af5;color:#180634">3</div><div class="c" style="left:146px;top:196px;width:12px;height:9px;background:#c89af5;color:#180634">3</div><div class="c" style="left:158px;top:196px;width:13px;height:9px;background:#c89af5;color:#180634">3</div><div class="c" style="left:171px;top:196px;width:12px;height:9px;background:#cdfbfb;color:#082020">2</div><div class="c" style="left:183px;top:196px;width:14px;height:9px;background:#cdfbfb;color:#082020">2</div><div class="c" style="left:197px;top:196px;width:16px;height:9px;background:#cdfbfb;color:#082020">2</div><div class="c" style="left:213px;top:196px;width:15px;height:9px;background:#cdfbfb;color:#082020">2</div><div class="c" style="left:228px;top:196px;width:15px;height:9px;background:#cdfbfb;color:#082020">2</div><div class="c" style="left:243px;top:196px;width:14px;height:9px;background:#cdfbfb;color:#082020">2</div><div class="c" style="left:257px;top:196px;width:13px;height:9px;background:#cdfbfb;color:#082020">2</div><div class="c" style="left:270px;top:196px;width:14px;height:9px;background:#cdfbfb;color:#082020">2</div><div class="c" style="left:284px;top:196px;width:14px;height:9px;background:#cdfbfb;color:#082020">2</div><div class="c" style="left:298px;top:196px;width:12px;height:9px;background:#cdfbfb;color:#082020">2</div><div class="c" style="left:310px;top:196px;width:12px;height:9px;background:#cdfbfb;color:#082020">2</div><div class="c" style="left:322px;top:196px;width:13px;height:9px;background:#cdfbfb;color:#082020">2</div><div class="c" style="left:335px;top:196px;width:13px;height:9px;background:#c89af5;color:#180634">3</div><div class="c" style="left:348px;top:196px;width:13px;height:9px;background:#c89af5;color:#180634">3</div><div class="c" style="left:361px;top:196px;width:12px;height:9px;background:#c89af5;color:#180634">3</div><div class="c" style="left:373px;top:196px;width:11px;height:9px;background:#9ccf14;color:#102000">4</div><div class="c" style="left:384px;top:196px;width:13px;height:9px;background:#9ccf14;color:#102000">4</div><div class="c" style="left:397px;top:196px;width:13px;height:9px;background:#c89af5;color:#180634">3</div><div class="c" style="left:410px;top:196px;width:11px;height:9px;background:#c89af5;color:#180634">3</div><div class="c" style="left:421px;top:196px;width:13px;height:9px;background:#c89af5;color:#180634">3</div><div class="c" style="left:434px;top:196px;width:11px;height:9px;background:#cdfbfb;color:#082020">2</div><div class="c" style="left:445px;top:196px;width:13px;height:9px;background:#cdfbfb;color:#082020">2</div><div class="c" style="left:458px;top:196px;width:14px;height:9px;background:#cdfbfb;color:#082020">2</div><div class="c" style="left:472px;top:196px;width:13px;height:9px;background:#cdfbfb;color:#082020">2</div><div class="c" style="left:485px;top:196px;width:14px;height:9px;background:#cdfbfb;color:#082020">2</div><div class="c" style="left:499px;top:196px;width:14px;height:9px;background:#c89af5;color:#180634">3</div><div class="c" style="left:513px;top:196px;width:11px;height:9px;background:#c89af5;color:#180634">3</div><div class="c" style="left:524px;top:196px;width:11px;height:9px;background:#c89af5;color:#180634">3</div><div class="c" style="left:535px;top:196px;width:14px;height:9px;background:#c89af5;color:#180634">3</div><div class="c" style="left:549px;top:196px;width:13px;height:9px;background:#c89af5;color:#180634">3</div><div class="c" style="left:562px;top:196px;width:13px;height:9px;background:#9ccf14;color:#102000">4</div><div class="c" style="left:575px;top:196px;width:12px;height:9px;background:#9ccf14;color:#102000">4</div><div class="c" style="left:587px;top:196px;width:14px;height:9px;background:#9ccf14;color:#102000">4</div><div class="c" style="left:601px;top:196px;width:12px;height:9px;background:#993366;color:#4a1030">5</div><div class="c" style="left:613px;top:196px;width:11px;height:9px;background:#993366;color:#4a1030">5</div><div class="c" style="left:624px;top:196px;width:12px;height:9px;background:#993366;color:#4a1030">5</div><div class="c" style="left:90px;top:205px;width:11px;height:8px;background:#9ccf14;color:#102000">4</div><div class="c" style="left:101px;top:205px;width:11px;height:8px;background:#9ccf14;color:#102000">4</div><div class="c" style="left:112px;top:205px;width:11px;height:8px;background:#9ccf14;color:#102000">4</div><div class="c" style="left:123px;top:205px;width:11px;height:8px;background:#9ccf14;color:#102000">4</div><div class="c" style="left:134px;top:205px;width:12px;height:8px;background:#c89af5;color:#180634">3</div><div class="c" style="left:146px;top:205px;width:12px;height:8px;background:#c89af5;color:#180634">3</div><div class="c" style="left:158px;top:205px;width:13px;height:8px;background:#c89af5;color:#180634">3</div><div class="c" style="left:171px;top:205px;width:12px;height:8px;background:#c89af5;color:#180634">3</div><div class="c" style="left:183px;top:205px;width:14px;height:8px;background:#cdfbfb;color:#082020">2</div><div class="c" style="left:197px;top:205px;width:16px;height:8px;background:#cdfbfb;color:#082020">2</div><div class="c" style="left:213px;top:205px;width:15px;height:8px;background:#cdfbfb;color:#082020">2</div><div class="c" style="left:228px;top:205px;width:15px;height:8px;background:#cdfbfb;color:#082020">2</div><div class="c" style="left:243px;top:205px;width:14px;height:8px;background:#cdfbfb;color:#082020">2</div><div class="c" style="left:257px;top:205px;width:13px;height:8px;background:#cdfbfb;color:#082020">2</div><div class="c" style="left:270px;top:205px;width:14px;height:8px;background:#cdfbfb;color:#082020">2</div><div class="c" style="left:284px;top:205px;width:14px;height:8px;background:#cdfbfb;color:#082020">2</div><div class="c" style="left:298px;top:205px;width:12px;height:8px;background:#cdfbfb;color:#082020">2</div><div class="c" style="left:310px;top:205px;width:12px;height:8px;background:#cdfbfb;color:#082020">2</div><div class="c" style="left:322px;top:205px;width:13px;height:8px;background:#cdfbfb;color:#082020">2</div><div class="c" style="left:335px;top:205px;width:13px;height:8px;background:#cdfbfb;color:#082020">2</div><div class="c" style="left:348px;top:205px;width:13px;height:8px;background:#c89af5;color:#180634">3</div><div class="c" style="left:361px;top:205px;width:12px;height:8px;background:#c89af5;color:#180634">3</div><div class="c" style="left:373px;top:205px;width:11px;height:8px;background:#c89af5;color:#180634">3</div><div class="c" style="left:384px;top:205px;width:13px;height:8px;background:#9ccf14;color:#102000">4</div><div class="c" style="left:397px;top:205px;width:13px;height:8px;background:#c89af5;color:#180634">3</div><div class="c" style="left:410px;top:205px;width:11px;height:8px;background:#c89af5;color:#180634">3</div><div class="c" style="left:421px;top:205px;width:13px;height:8px;background:#c89af5;color:#180634">3</div><div class="c" style="left:434px;top:205px;width:11px;height:8px;background:#c89af5;color:#180634">3</div><div class="c" style="left:445px;top:205px;width:13px;height:8px;background:#cdfbfb;color:#082020">2</div><div class="c" style="left:458px;top:205px;width:14px;height:8px;background:#cdfbfb;color:#082020">2</div><div class="c" style="left:472px;top:205px;width:13px;height:8px;background:#cdfbfb;color:#082020">2</div><div class="c" style="left:485px;top:205px;width:14px;height:8px;background:#cdfbfb;color:#082020">2</div><div class="c" style="left:499px;top:205px;width:14px;height:8px;background:#c89af5;color:#180634">3</div><div class="c" style="left:513px;top:205px;width:11px;height:8px;background:#c89af5;color:#180634">3</div><div class="c" style="left:524px;top:205px;width:11px;height:8px;background:#c89af5;color:#180634">3</div><div class="c" style="left:535px;top:205px;width:14px;height:8px;background:#c89af5;color:#180634">3</div><div class="c" style="left:549px;top:205px;width:13px;height:8px;background:#9ccf14;color:#102000">4</div><div class="c" style="left:562px;top:205px;width:13px;height:8px;background:#9ccf14;color:#102000">4</div><div class="c" style="left:575px;top:205px;width:12px;height:8px;background:#9ccf14;color:#102000">4</div><div class="c" style="left:587px;top:205px;width:14px;height:8px;background:#9ccf14;color:#102000">4</div><div class="c" style="left:601px;top:205px;width:12px;height:8px;background:#993366;color:#4a1030">5</div><div class="c" style="left:613px;top:205px;width:11px;height:8px;background:#993366;color:#4a1030">5</div><div class="c" style="left:624px;top:205px;width:12px;height:8px;background:#993366;color:#4a1030">5</div><div class="c" style="left:90px;top:213px;width:11px;height:8px;background:#993366;color:#4a1030">5</div><div class="c" style="left:101px;top:213px;width:11px;height:8px;background:#9ccf14;color:#102000">4</div><div class="c" style="left:112px;top:213px;width:11px;height:8px;background:#9ccf14;color:#102000">4</div><div class="c" style="left:123px;top:213px;width:11px;height:8px;background:#9ccf14;color:#102000">4</div><div class="c" style="left:134px;top:213px;width:12px;height:8px;background:#9ccf14;color:#102000">4</div><div class="c" style="left:146px;top:213px;width:12px;height:8px;background:#c89af5;color:#180634">3</div><div class="c" style="left:158px;top:213px;width:13px;height:8px;background:#c89af5;color:#180634">3</div><div class="c" style="left:171px;top:213px;width:12px;height:8px;background:#c89af5;color:#180634">3</div><div class="c" style="left:183px;top:213px;width:14px;height:8px;background:#c89af5;color:#180634">3</div><div class="c" style="left:197px;top:213px;width:16px;height:8px;background:#c89af5;color:#180634">3</div><div class="c" style="left:213px;top:213px;width:15px;height:8px;background:#cdfbfb;color:#082020">2</div><div class="c" style="left:228px;top:213px;width:15px;height:8px;background:#cdfbfb;color:#082020">2</div><div class="c" style="left:243px;top:213px;width:14px;height:8px;background:#cdfbfb;color:#082020">2</div><div class="c" style="left:257px;top:213px;width:13px;height:8px;background:#cdfbfb;color:#082020">2</div><div class="c" style="left:270px;top:213px;width:14px;height:8px;background:#cdfbfb;color:#082020">2</div><div class="c" style="left:284px;top:213px;width:14px;height:8px;background:#cdfbfb;color:#082020">2</div><div class="c" style="left:298px;top:213px;width:12px;height:8px;background:#cdfbfb;color:#082020">2</div><div class="c" style="left:310px;top:213px;width:12px;height:8px;background:#cdfbfb;color:#082020">2</div><div class="c" style="left:322px;top:213px;width:13px;height:8px;background:#cdfbfb;color:#082020">2</div><div class="c" style="left:335px;top:213px;width:13px;height:8px;background:#cdfbfb;color:#082020">2</div><div class="c" style="left:348px;top:213px;width:13px;height:8px;background:#c89af5;color:#180634">3</div><div class="c" style="left:361px;top:213px;width:12px;height:8px;background:#c89af5;color:#180634">3</div><div class="c" style="left:373px;top:213px;width:11px;height:8px;background:#c89af5;color:#180634">3</div><div class="c" style="left:384px;top:213px;width:13px;height:8px;background:#9ccf14;color:#102000">4</div><div class="c" style="left:397px;top:213px;width:13px;height:8px;background:#9ccf14;color:#102000">4</div><div class="c" style="left:410px;top:213px;width:11px;height:8px;background:#c89af5;color:#180634">3</div><div class="c" style="left:421px;top:213px;width:13px;height:8px;background:#c89af5;color:#180634">3</div><div class="c" style="left:434px;top:213px;width:11px;height:8px;background:#c89af5;color:#180634">3</div><div class="c" style="left:445px;top:213px;width:13px;height:8px;background:#c89af5;color:#180634">3</div><div class="c" style="left:458px;top:213px;width:14px;height:8px;background:#cdfbfb;color:#082020">2</div><div class="c" style="left:472px;top:213px;width:13px;height:8px;background:#c89af5;color:#180634">3</div><div class="c" style="left:485px;top:213px;width:14px;height:8px;background:#c89af5;color:#180634">3</div><div class="c" style="left:499px;top:213px;width:14px;height:8px;background:#c89af5;color:#180634">3</div><div class="c" style="left:513px;top:213px;width:11px;height:8px;background:#c89af5;color:#180634">3</div><div class="c" style="left:524px;top:213px;width:11px;height:8px;background:#c89af5;color:#180634">3</div><div class="c" style="left:535px;top:213px;width:14px;height:8px;background:#c89af5;color:#180634">3</div><div class="c" style="left:549px;top:213px;width:13px;height:8px;background:#9ccf14;color:#102000">4</div><div class="c" style="left:562px;top:213px;width:13px;height:8px;background:#9ccf14;color:#102000">4</div><div class="c" style="left:575px;top:213px;width:12px;height:8px;background:#9ccf14;color:#102000">4</div><div class="c" style="left:587px;top:213px;width:14px;height:8px;background:#993366;color:#4a1030">5</div><div class="c" style="left:601px;top:213px;width:12px;height:8px;background:#993366;color:#4a1030">5</div><div class="c" style="left:613px;top:213px;width:11px;height:8px;background:#993366;color:#4a1030">5</div><div class="c" style="left:624px;top:213px;width:12px;height:8px;background:#993366;color:#4a1030">5</div><div class="c" style="left:90px;top:221px;width:11px;height:9px;background:#993366;color:#4a1030">5</div><div class="c" style="left:101px;top:221px;width:11px;height:9px;background:#993366;color:#4a1030">5</div><div class="c" style="left:112px;top:221px;width:11px;height:9px;background:#9ccf14;color:#102000">4</div><div class="c" style="left:123px;top:221px;width:11px;height:9px;background:#9ccf14;color:#102000">4</div><div class="c" style="left:134px;top:221px;width:12px;height:9px;background:#9ccf14;color:#102000">4</div><div class="c" style="left:146px;top:221px;width:12px;height:9px;background:#9ccf14;color:#102000">4</div><div class="c" style="left:158px;top:221px;width:13px;height:9px;background:#c89af5;color:#180634">3</div><div class="c" style="left:171px;top:221px;width:12px;height:9px;background:#c89af5;color:#180634">3</div><div class="c" style="left:183px;top:221px;width:14px;height:9px;background:#c89af5;color:#180634">3</div><div class="c" style="left:197px;top:221px;width:16px;height:9px;background:#c89af5;color:#180634">3</div><div class="c" style="left:213px;top:221px;width:15px;height:9px;background:#c89af5;color:#180634">3</div><div class="c" style="left:228px;top:221px;width:15px;height:9px;background:#cdfbfb;color:#082020">2</div><div class="c" style="left:243px;top:221px;width:14px;height:9px;background:#cdfbfb;color:#082020">2</div><div class="c" style="left:257px;top:221px;width:13px;height:9px;background:#cdfbfb;color:#082020">2</div><div class="c" style="left:270px;top:221px;width:14px;height:9px;background:#cdfbfb;color:#082020">2</div><div class="c" style="left:284px;top:221px;width:14px;height:9px;background:#cdfbfb;color:#082020">2</div><div class="c" style="left:298px;top:221px;width:12px;height:9px;background:#cdfbfb;color:#082020">2</div><div class="c" style="left:310px;top:221px;width:12px;height:9px;background:#cdfbfb;color:#082020">2</div><div class="c" style="left:322px;top:221px;width:13px;height:9px;background:#cdfbfb;color:#082020">2</div><div class="c" style="left:335px;top:221px;width:13px;height:9px;background:#cdfbfb;color:#082020">2</div><div class="c" style="left:348px;top:221px;width:13px;height:9px;background:#cdfbfb;color:#082020">2</div><div class="c" style="left:361px;top:221px;width:12px;height:9px;background:#c89af5;color:#180634">3</div><div class="c" style="left:373px;top:221px;width:11px;height:9px;background:#c89af5;color:#180634">3</div><div class="c" style="left:384px;top:221px;width:13px;height:9px;background:#9ccf14;color:#102000">4</div><div class="c" style="left:397px;top:221px;width:13px;height:9px;background:#9ccf14;color:#102000">4</div><div class="c" style="left:410px;top:221px;width:11px;height:9px;background:#9ccf14;color:#102000">4</div><div class="c" style="left:421px;top:221px;width:13px;height:9px;background:#c89af5;color:#180634">3</div><div class="c" style="left:434px;top:221px;width:11px;height:9px;background:#c89af5;color:#180634">3</div><div class="c" style="left:445px;top:221px;width:13px;height:9px;background:#c89af5;color:#180634">3</div><div class="c" style="left:458px;top:221px;width:14px;height:9px;background:#c89af5;color:#180634">3</div><div class="c" style="left:472px;top:221px;width:13px;height:9px;background:#c89af5;color:#180634">3</div><div class="c" style="left:485px;top:221px;width:14px;height:9px;background:#c89af5;color:#180634">3</div><div class="c" style="left:499px;top:221px;width:14px;height:9px;background:#c89af5;color:#180634">3</div><div class="c" style="left:513px;top:221px;width:11px;height:9px;background:#c89af5;color:#180634">3</div><div class="c" style="left:524px;top:221px;width:11px;height:9px;background:#9ccf14;color:#102000">4</div><div class="c" style="left:535px;top:221px;width:14px;height:9px;background:#9ccf14;color:#102000">4</div><div class="c" style="left:549px;top:221px;width:13px;height:9px;background:#9ccf14;color:#102000">4</div><div class="c" style="left:562px;top:221px;width:13px;height:9px;background:#9ccf14;color:#102000">4</div><div class="c" style="left:575px;top:221px;width:12px;height:9px;background:#993366;color:#4a1030">5</div><div class="c" style="left:587px;top:221px;width:14px;height:9px;background:#993366;color:#4a1030">5</div><div class="c" style="left:601px;top:221px;width:12px;height:9px;background:#993366;color:#4a1030">5</div><div class="c" style="left:613px;top:221px;width:11px;height:9px;background:#993366;color:#4a1030">5</div><div class="c" style="left:624px;top:221px;width:12px;height:9px;background:#993366;color:#4a1030">5</div><div class="c" style="left:90px;top:230px;width:11px;height:8px;background:#993366;color:#4a1030">5</div><div class="c" style="left:101px;top:230px;width:11px;height:8px;background:#993366;color:#4a1030">5</div><div class="c" style="left:112px;top:230px;width:11px;height:8px;background:#993366;color:#4a1030">5</div><div class="c" style="left:123px;top:230px;width:11px;height:8px;background:#993366;color:#4a1030">5</div><div class="c" style="left:134px;top:230px;width:12px;height:8px;background:#9ccf14;color:#102000">4</div><div class="c" style="left:146px;top:230px;width:12px;height:8px;background:#9ccf14;color:#102000">4</div><div class="c" style="left:158px;top:230px;width:13px;height:8px;background:#9ccf14;color:#102000">4</div><div class="c" style="left:171px;top:230px;width:12px;height:8px;background:#9ccf14;color:#102000">4</div><div class="c" style="left:183px;top:230px;width:14px;height:8px;background:#c89af5;color:#180634">3</div><div class="c" style="left:197px;top:230px;width:16px;height:8px;background:#c89af5;color:#180634">3</div><div class="c" style="left:213px;top:230px;width:15px;height:8px;background:#c89af5;color:#180634">3</div><div class="c" style="left:228px;top:230px;width:15px;height:8px;background:#c89af5;color:#180634">3</div><div class="c" style="left:243px;top:230px;width:14px;height:8px;background:#c89af5;color:#180634">3</div><div class="c" style="left:257px;top:230px;width:13px;height:8px;background:#c89af5;color:#180634">3</div><div class="c" style="left:270px;top:230px;width:14px;height:8px;background:#cdfbfb;color:#082020">2</div><div class="c" style="left:284px;top:230px;width:14px;height:8px;background:#cdfbfb;color:#082020">2</div><div class="c" style="left:298px;top:230px;width:12px;height:8px;background:#cdfbfb;color:#082020">2</div><div class="c" style="left:310px;top:230px;width:12px;height:8px;background:#cdfbfb;color:#082020">2</div><div class="c" style="left:322px;top:230px;width:13px;height:8px;background:#cdfbfb;color:#082020">2</div><div class="c" style="left:335px;top:230px;width:13px;height:8px;background:#cdfbfb;color:#082020">2</div><div class="c" style="left:348px;top:230px;width:13px;height:8px;background:#cdfbfb;color:#082020">2</div><div class="c" style="left:361px;top:230px;width:12px;height:8px;background:#cdfbfb;color:#082020">2</div><div class="c" style="left:373px;top:230px;width:11px;height:8px;background:#c89af5;color:#180634">3</div><div class="c" style="left:384px;top:230px;width:13px;height:8px;background:#993366;color:#4a1030">5</div><div class="c" style="left:397px;top:230px;width:13px;height:8px;background:#9ccf14;color:#102000">4</div><div class="c" style="left:410px;top:230px;width:11px;height:8px;background:#9ccf14;color:#102000">4</div><div class="c" style="left:421px;top:230px;width:13px;height:8px;background:#9ccf14;color:#102000">4</div><div class="c" style="left:434px;top:230px;width:11px;height:8px;background:#c89af5;color:#180634">3</div><div class="c" style="left:445px;top:230px;width:13px;height:8px;background:#c89af5;color:#180634">3</div><div class="c" style="left:458px;top:230px;width:14px;height:8px;background:#c89af5;color:#180634">3</div><div class="c" style="left:472px;top:230px;width:13px;height:8px;background:#c89af5;color:#180634">3</div><div class="c" style="left:485px;top:230px;width:14px;height:8px;background:#c89af5;color:#180634">3</div><div class="c" style="left:499px;top:230px;width:14px;height:8px;background:#9ccf14;color:#102000">4</div><div class="c" style="left:513px;top:230px;width:11px;height:8px;background:#9ccf14;color:#102000">4</div><div class="c" style="left:524px;top:230px;width:11px;height:8px;background:#9ccf14;color:#102000">4</div><div class="c" style="left:535px;top:230px;width:14px;height:8px;background:#9ccf14;color:#102000">4</div><div class="c" style="left:549px;top:230px;width:13px;height:8px;background:#9ccf14;color:#102000">4</div><div class="c" style="left:562px;top:230px;width:13px;height:8px;background:#993366;color:#4a1030">5</div><div class="c" style="left:575px;top:230px;width:12px;height:8px;background:#993366;color:#4a1030">5</div><div class="c" style="left:587px;top:230px;width:14px;height:8px;background:#993366;color:#4a1030">5</div><div class="c" style="left:601px;top:230px;width:12px;height:8px;background:#993366;color:#4a1030">5</div><div class="c" style="left:613px;top:230px;width:11px;height:8px;background:#993366;color:#4a1030">5</div><div class="c" style="left:624px;top:230px;width:12px;height:8px;background:#f68e8e;color:#500404">6</div><div class="c" style="left:90px;top:238px;width:11px;height:8px;background:#993366;color:#4a1030">5</div><div class="c" style="left:101px;top:238px;width:11px;height:8px;background:#993366;color:#4a1030">5</div><div class="c" style="left:112px;top:238px;width:11px;height:8px;background:#993366;color:#4a1030">5</div><div class="c" style="left:123px;top:238px;width:11px;height:8px;background:#993366;color:#4a1030">5</div><div class="c" style="left:134px;top:238px;width:12px;height:8px;background:#993366;color:#4a1030">5</div><div class="c" style="left:146px;top:238px;width:12px;height:8px;background:#9ccf14;color:#102000">4</div><div class="c" style="left:158px;top:238px;width:13px;height:8px;background:#9ccf14;color:#102000">4</div><div class="c" style="left:171px;top:238px;width:12px;height:8px;background:#9ccf14;color:#102000">4</div><div class="c" style="left:183px;top:238px;width:14px;height:8px;background:#9ccf14;color:#102000">4</div><div class="c" style="left:197px;top:238px;width:16px;height:8px;background:#c89af5;color:#180634">3</div><div class="c" style="left:213px;top:238px;width:15px;height:8px;background:#c89af5;color:#180634">3</div><div class="c" style="left:228px;top:238px;width:15px;height:8px;background:#c89af5;color:#180634">3</div><div class="c" style="left:243px;top:238px;width:14px;height:8px;background:#c89af5;color:#180634">3</div><div class="c" style="left:257px;top:238px;width:13px;height:8px;background:#c89af5;color:#180634">3</div><div class="c" style="left:270px;top:238px;width:14px;height:8px;background:#c89af5;color:#180634">3</div><div class="c" style="left:284px;top:238px;width:14px;height:8px;background:#cdfbfb;color:#082020">2</div><div class="c" style="left:298px;top:238px;width:12px;height:8px;background:#cdfbfb;color:#082020">2</div><div class="c" style="left:310px;top:238px;width:12px;height:8px;background:#cdfbfb;color:#082020">2</div><div class="c" style="left:322px;top:238px;width:13px;height:8px;background:#cdfbfb;color:#082020">2</div><div class="c" style="left:335px;top:238px;width:13px;height:8px;background:#cdfbfb;color:#082020">2</div><div class="c" style="left:348px;top:238px;width:13px;height:8px;background:#cdfbfb;color:#082020">2</div><div class="c" style="left:361px;top:238px;width:12px;height:8px;background:#cdfbfb;color:#082020">2</div><div class="c" style="left:373px;top:238px;width:11px;height:8px;background:#cdfbfb;color:#082020">2</div><div class="c" style="left:384px;top:238px;width:13px;height:8px;background:#993366;color:#4a1030">5</div><div class="c" style="left:397px;top:238px;width:13px;height:8px;background:#993366;color:#4a1030">5</div><div class="c" style="left:410px;top:238px;width:11px;height:8px;background:#9ccf14;color:#102000">4</div><div class="c" style="left:421px;top:238px;width:13px;height:8px;background:#9ccf14;color:#102000">4</div><div class="c" style="left:434px;top:238px;width:11px;height:8px;background:#9ccf14;color:#102000">4</div><div class="c" style="left:445px;top:238px;width:13px;height:8px;background:#9ccf14;color:#102000">4</div><div class="c" style="left:458px;top:238px;width:14px;height:8px;background:#c89af5;color:#180634">3</div><div class="c" style="left:472px;top:238px;width:13px;height:8px;background:#c89af5;color:#180634">3</div><div class="c" style="left:485px;top:238px;width:14px;height:8px;background:#9ccf14;color:#102000">4</div><div class="c" style="left:499px;top:238px;width:14px;height:8px;background:#9ccf14;color:#102000">4</div><div class="c" style="left:513px;top:238px;width:11px;height:8px;background:#9ccf14;color:#102000">4</div><div class="c" style="left:524px;top:238px;width:11px;height:8px;background:#9ccf14;color:#102000">4</div><div class="c" style="left:535px;top:238px;width:14px;height:8px;background:#9ccf14;color:#102000">4</div><div class="c" style="left:549px;top:238px;width:13px;height:8px;background:#993366;color:#4a1030">5</div><div class="c" style="left:562px;top:238px;width:13px;height:8px;background:#993366;color:#4a1030">5</div><div class="c" style="left:575px;top:238px;width:12px;height:8px;background:#993366;color:#4a1030">5</div><div class="c" style="left:587px;top:238px;width:14px;height:8px;background:#993366;color:#4a1030">5</div><div class="c" style="left:601px;top:238px;width:12px;height:8px;background:#993366;color:#4a1030">5</div><div class="c" style="left:613px;top:238px;width:11px;height:8px;background:#f68e8e;color:#500404">6</div><div class="c" style="left:624px;top:238px;width:12px;height:8px;background:#f68e8e;color:#500404">6</div><div class="c" style="left:90px;top:246px;width:11px;height:9px;background:#993366;color:#4a1030">5</div><div class="c" style="left:101px;top:246px;width:11px;height:9px;background:#993366;color:#4a1030">5</div><div class="c" style="left:112px;top:246px;width:11px;height:9px;background:#993366;color:#4a1030">5</div><div class="c" style="left:123px;top:246px;width:11px;height:9px;background:#993366;color:#4a1030">5</div><div class="c" style="left:134px;top:246px;width:12px;height:9px;background:#993366;color:#4a1030">5</div><div class="c" style="left:146px;top:246px;width:12px;height:9px;background:#993366;color:#4a1030">5</div><div class="c" style="left:158px;top:246px;width:13px;height:9px;background:#9ccf14;color:#102000">4</div><div class="c" style="left:171px;top:246px;width:12px;height:9px;background:#9ccf14;color:#102000">4</div><div class="c" style="left:183px;top:246px;width:14px;height:9px;background:#9ccf14;color:#102000">4</div><div class="c" style="left:197px;top:246px;width:16px;height:9px;background:#9ccf14;color:#102000">4</div><div class="c" style="left:213px;top:246px;width:15px;height:9px;background:#9ccf14;color:#102000">4</div><div class="c" style="left:228px;top:246px;width:15px;height:9px;background:#9ccf14;color:#102000">4</div><div class="c" style="left:243px;top:246px;width:14px;height:9px;background:#c89af5;color:#180634">3</div><div class="c" style="left:257px;top:246px;width:13px;height:9px;background:#c89af5;color:#180634">3</div><div class="c" style="left:270px;top:246px;width:14px;height:9px;background:#c89af5;color:#180634">3</div><div class="c" style="left:284px;top:246px;width:14px;height:9px;background:#c89af5;color:#180634">3</div><div class="c" style="left:298px;top:246px;width:12px;height:9px;background:#c89af5;color:#180634">3</div><div class="c" style="left:310px;top:246px;width:12px;height:9px;background:#cdfbfb;color:#082020">2</div><div class="c" style="left:322px;top:246px;width:13px;height:9px;background:#cdfbfb;color:#082020">2</div><div class="c" style="left:335px;top:246px;width:13px;height:9px;background:#cdfbfb;color:#082020">2</div><div class="c" style="left:348px;top:246px;width:13px;height:9px;background:#cdfbfb;color:#082020">2</div><div class="c" style="left:361px;top:246px;width:12px;height:9px;background:#cdfbfb;color:#082020">2</div><div class="c" style="left:373px;top:246px;width:11px;height:9px;background:#cdfbfb;color:#082020">2</div><div class="c" style="left:384px;top:246px;width:13px;height:9px;background:#993366;color:#4a1030">5</div><div class="c" style="left:397px;top:246px;width:13px;height:9px;background:#993366;color:#4a1030">5</div><div class="c" style="left:410px;top:246px;width:11px;height:9px;background:#993366;color:#4a1030">5</div><div class="c" style="left:421px;top:246px;width:13px;height:9px;background:#9ccf14;color:#102000">4</div><div class="c" style="left:434px;top:246px;width:11px;height:9px;background:#9ccf14;color:#102000">4</div><div class="c" style="left:445px;top:246px;width:13px;height:9px;background:#9ccf14;color:#102000">4</div><div class="c" style="left:458px;top:246px;width:14px;height:9px;background:#9ccf14;color:#102000">4</div><div class="c" style="left:472px;top:246px;width:13px;height:9px;background:#9ccf14;color:#102000">4</div><div class="c" style="left:485px;top:246px;width:14px;height:9px;background:#9ccf14;color:#102000">4</div><div class="c" style="left:499px;top:246px;width:14px;height:9px;background:#9ccf14;color:#102000">4</div><div class="c" style="left:513px;top:246px;width:11px;height:9px;background:#9ccf14;color:#102000">4</div><div class="c" style="left:524px;top:246px;width:11px;height:9px;background:#993366;color:#4a1030">5</div><div class="c" style="left:535px;top:246px;width:14px;height:9px;background:#993366;color:#4a1030">5</div><div class="c" style="left:549px;top:246px;width:13px;height:9px;background:#993366;color:#4a1030">5</div><div class="c" style="left:562px;top:246px;width:13px;height:9px;background:#993366;color:#4a1030">5</div><div class="c" style="left:575px;top:246px;width:12px;height:9px;background:#993366;color:#4a1030">5</div><div class="c" style="left:587px;top:246px;width:14px;height:9px;background:#f68e8e;color:#500404">6</div><div class="c" style="left:601px;top:246px;width:12px;height:9px;background:#f68e8e;color:#500404">6</div><div class="c" style="left:613px;top:246px;width:11px;height:9px;background:#f68e8e;color:#500404">6</div><div class="c" style="left:624px;top:246px;width:12px;height:9px;background:#f68e8e;color:#500404">6</div><div class="c" style="left:90px;top:255px;width:11px;height:8px;background:#f68e8e;color:#500404">6</div><div class="c" style="left:101px;top:255px;width:11px;height:8px;background:#993366;color:#4a1030">5</div><div class="c" style="left:112px;top:255px;width:11px;height:8px;background:#993366;color:#4a1030">5</div><div class="c" style="left:123px;top:255px;width:11px;height:8px;background:#993366;color:#4a1030">5</div><div class="c" style="left:134px;top:255px;width:12px;height:8px;background:#993366;color:#4a1030">5</div><div class="c" style="left:146px;top:255px;width:12px;height:8px;background:#993366;color:#4a1030">5</div><div class="c" style="left:158px;top:255px;width:13px;height:8px;background:#993366;color:#4a1030">5</div><div class="c" style="left:171px;top:255px;width:12px;height:8px;background:#9ccf14;color:#102000">4</div><div class="c" style="left:183px;top:255px;width:14px;height:8px;background:#9ccf14;color:#102000">4</div><div class="c" style="left:197px;top:255px;width:16px;height:8px;background:#9ccf14;color:#102000">4</div><div class="c" style="left:213px;top:255px;width:15px;height:8px;background:#9ccf14;color:#102000">4</div><div class="c" style="left:228px;top:255px;width:15px;height:8px;background:#9ccf14;color:#102000">4</div><div class="c" style="left:243px;top:255px;width:14px;height:8px;background:#9ccf14;color:#102000">4</div><div class="c" style="left:257px;top:255px;width:13px;height:8px;background:#c89af5;color:#180634">3</div><div class="c" style="left:270px;top:255px;width:14px;height:8px;background:#c89af5;color:#180634">3</div><div class="c" style="left:284px;top:255px;width:14px;height:8px;background:#c89af5;color:#180634">3</div><div class="c" style="left:298px;top:255px;width:12px;height:8px;background:#c89af5;color:#180634">3</div><div class="c" style="left:310px;top:255px;width:12px;height:8px;background:#c89af5;color:#180634">3</div><div class="c" style="left:322px;top:255px;width:13px;height:8px;background:#cdfbfb;color:#082020">2</div><div class="c" style="left:335px;top:255px;width:13px;height:8px;background:#cdfbfb;color:#082020">2</div><div class="c" style="left:348px;top:255px;width:13px;height:8px;background:#cdfbfb;color:#082020">2</div><div class="c" style="left:361px;top:255px;width:12px;height:8px;background:#cdfbfb;color:#082020">2</div><div class="c" style="left:373px;top:255px;width:11px;height:8px;background:#cdfbfb;color:#082020">2</div><div class="c" style="left:384px;top:255px;width:13px;height:8px;background:#993366;color:#4a1030">5</div><div class="c" style="left:397px;top:255px;width:13px;height:8px;background:#993366;color:#4a1030">5</div><div class="c" style="left:410px;top:255px;width:11px;height:8px;background:#993366;color:#4a1030">5</div><div class="c" style="left:421px;top:255px;width:13px;height:8px;background:#9ccf14;color:#102000">4</div><div class="c" style="left:434px;top:255px;width:11px;height:8px;background:#9ccf14;color:#102000">4</div><div class="c" style="left:445px;top:255px;width:13px;height:8px;background:#9ccf14;color:#102000">4</div><div class="c" style="left:458px;top:255px;width:14px;height:8px;background:#9ccf14;color:#102000">4</div><div class="c" style="left:472px;top:255px;width:13px;height:8px;background:#9ccf14;color:#102000">4</div><div class="c" style="left:485px;top:255px;width:14px;height:8px;background:#9ccf14;color:#102000">4</div><div class="c" style="left:499px;top:255px;width:14px;height:8px;background:#9ccf14;color:#102000">4</div><div class="c" style="left:513px;top:255px;width:11px;height:8px;background:#993366;color:#4a1030">5</div><div class="c" style="left:524px;top:255px;width:11px;height:8px;background:#993366;color:#4a1030">5</div><div class="c" style="left:535px;top:255px;width:14px;height:8px;background:#993366;color:#4a1030">5</div><div class="c" style="left:549px;top:255px;width:13px;height:8px;background:#993366;color:#4a1030">5</div><div class="c" style="left:562px;top:255px;width:13px;height:8px;background:#993366;color:#4a1030">5</div><div class="c" style="left:575px;top:255px;width:12px;height:8px;background:#993366;color:#4a1030">5</div><div class="c" style="left:587px;top:255px;width:14px;height:8px;background:#f68e8e;color:#500404">6</div><div class="c" style="left:601px;top:255px;width:12px;height:8px;background:#f68e8e;color:#500404">6</div><div class="c" style="left:613px;top:255px;width:11px;height:8px;background:#f68e8e;color:#500404">6</div><div class="c" style="left:624px;top:255px;width:12px;height:8px;background:#f68e8e;color:#500404">6</div><div class="c" style="left:90px;top:263px;width:11px;height:8px;background:#f68e8e;color:#500404">6</div><div class="c" style="left:101px;top:263px;width:11px;height:8px;background:#f68e8e;color:#500404">6</div><div class="c" style="left:112px;top:263px;width:11px;height:8px;background:#f68e8e;color:#500404">6</div><div class="c" style="left:123px;top:263px;width:11px;height:8px;background:#993366;color:#4a1030">5</div><div class="c" style="left:134px;top:263px;width:12px;height:8px;background:#993366;color:#4a1030">5</div><div class="c" style="left:146px;top:263px;width:12px;height:8px;background:#993366;color:#4a1030">5</div><div class="c" style="left:158px;top:263px;width:13px;height:8px;background:#993366;color:#4a1030">5</div><div class="c" style="left:171px;top:263px;width:12px;height:8px;background:#993366;color:#4a1030">5</div><div class="c" style="left:183px;top:263px;width:14px;height:8px;background:#993366;color:#4a1030">5</div><div class="c" style="left:197px;top:263px;width:16px;height:8px;background:#9ccf14;color:#102000">4</div><div class="c" style="left:213px;top:263px;width:15px;height:8px;background:#9ccf14;color:#102000">4</div><div class="c" style="left:228px;top:263px;width:15px;height:8px;background:#9ccf14;color:#102000">4</div><div class="c" style="left:243px;top:263px;width:14px;height:8px;background:#9ccf14;color:#102000">4</div><div class="c" style="left:257px;top:263px;width:13px;height:8px;background:#9ccf14;color:#102000">4</div><div class="c" style="left:270px;top:263px;width:14px;height:8px;background:#9ccf14;color:#102000">4</div><div class="c" style="left:284px;top:263px;width:14px;height:8px;background:#c89af5;color:#180634">3</div><div class="c" style="left:298px;top:263px;width:12px;height:8px;background:#c89af5;color:#180634">3</div><div class="c" style="left:310px;top:263px;width:12px;height:8px;background:#c89af5;color:#180634">3</div><div class="c" style="left:322px;top:263px;width:13px;height:8px;background:#c89af5;color:#180634">3</div><div class="c" style="left:335px;top:263px;width:13px;height:8px;background:#cdfbfb;color:#082020">2</div><div class="c" style="left:348px;top:263px;width:13px;height:8px;background:#cdfbfb;color:#082020">2</div><div class="c" style="left:361px;top:263px;width:12px;height:8px;background:#cdfbfb;color:#082020">2</div><div class="c" style="left:373px;top:263px;width:11px;height:8px;background:#cdfbfb;color:#082020">2</div><div class="c" style="left:384px;top:263px;width:13px;height:8px;background:#993366;color:#4a1030">5</div><div class="c" style="left:397px;top:263px;width:13px;height:8px;background:#993366;color:#4a1030">5</div><div class="c" style="left:410px;top:263px;width:11px;height:8px;background:#993366;color:#4a1030">5</div><div class="c" style="left:421px;top:263px;width:13px;height:8px;background:#993366;color:#4a1030">5</div><div class="c" style="left:434px;top:263px;width:11px;height:8px;background:#993366;color:#4a1030">5</div><div class="c" style="left:445px;top:263px;width:13px;height:8px;background:#9ccf14;color:#102000">4</div><div class="c" style="left:458px;top:263px;width:14px;height:8px;background:#9ccf14;color:#102000">4</div><div class="c" style="left:472px;top:263px;width:13px;height:8px;background:#9ccf14;color:#102000">4</div><div class="c" style="left:485px;top:263px;width:14px;height:8px;background:#993366;color:#4a1030">5</div><div class="c" style="left:499px;top:263px;width:14px;height:8px;background:#993366;color:#4a1030">5</div><div class="c" style="left:513px;top:263px;width:11px;height:8px;background:#993366;color:#4a1030">5</div><div class="c" style="left:524px;top:263px;width:11px;height:8px;background:#993366;color:#4a1030">5</div><div class="c" style="left:535px;top:263px;width:14px;height:8px;background:#993366;color:#4a1030">5</div><div class="c" style="left:549px;top:263px;width:13px;height:8px;background:#993366;color:#4a1030">5</div><div class="c" style="left:562px;top:263px;width:13px;height:8px;background:#f68e8e;color:#500404">6</div><div class="c" style="left:575px;top:263px;width:12px;height:8px;background:#f68e8e;color:#500404">6</div><div class="c" style="left:587px;top:263px;width:14px;height:8px;background:#f68e8e;color:#500404">6</div><div class="c" style="left:601px;top:263px;width:12px;height:8px;background:#f68e8e;color:#500404">6</div><div class="c" style="left:613px;top:263px;width:11px;height:8px;background:#f68e8e;color:#500404">6</div><div class="c" style="left:624px;top:263px;width:12px;height:8px;background:#33c4e0;color:#001850">7</div><div class="c" style="left:90px;top:271px;width:11px;height:9px;background:#993366;color:#4a1030">5</div><div class="c" style="left:101px;top:271px;width:11px;height:9px;background:#993366;color:#4a1030">5</div><div class="c" style="left:112px;top:271px;width:11px;height:9px;background:#993366;color:#4a1030">5</div><div class="c" style="left:123px;top:271px;width:11px;height:9px;background:#9ccf14;color:#102000">4</div><div class="c" style="left:134px;top:271px;width:12px;height:9px;background:#9ccf14;color:#102000">4</div><div class="c" style="left:146px;top:271px;width:12px;height:9px;background:#9ccf14;color:#102000">4</div><div class="c" style="left:158px;top:271px;width:13px;height:9px;background:#9ccf14;color:#102000">4</div><div class="c" style="left:171px;top:271px;width:12px;height:9px;background:#c89af5;color:#180634">3</div><div class="c" style="left:183px;top:271px;width:14px;height:9px;background:#c89af5;color:#180634">3</div><div class="c" style="left:197px;top:271px;width:16px;height:9px;background:#c89af5;color:#180634">3</div><div class="c" style="left:213px;top:271px;width:15px;height:9px;background:#c89af5;color:#180634">3</div><div class="c" style="left:228px;top:271px;width:15px;height:9px;background:#c89af5;color:#180634">3</div><div class="c" style="left:243px;top:271px;width:14px;height:9px;background:#c89af5;color:#180634">3</div><div class="c" style="left:257px;top:271px;width:13px;height:9px;background:#c89af5;color:#180634">3</div><div class="c" style="left:270px;top:271px;width:14px;height:9px;background:#9ccf14;color:#102000">4</div><div class="c" style="left:284px;top:271px;width:14px;height:9px;background:#9ccf14;color:#102000">4</div><div class="c" style="left:298px;top:271px;width:12px;height:9px;background:#9ccf14;color:#102000">4</div><div class="c" style="left:310px;top:271px;width:12px;height:9px;background:#9ccf14;color:#102000">4</div><div class="c" style="left:322px;top:271px;width:13px;height:9px;background:#993366;color:#4a1030">5</div><div class="c" style="left:335px;top:271px;width:13px;height:9px;background:#993366;color:#4a1030">5</div><div class="c" style="left:348px;top:271px;width:13px;height:9px;background:#993366;color:#4a1030">5</div><div class="c" style="left:361px;top:271px;width:12px;height:9px;background:#993366;color:#4a1030">5</div><div class="c" style="left:373px;top:271px;width:11px;height:9px;background:#993366;color:#4a1030">5</div><div class="c" style="left:384px;top:271px;width:13px;height:9px;background:#cdfbfb;color:#082020">2</div><div class="c" style="left:397px;top:271px;width:13px;height:9px;background:#cdfbfb;color:#082020">2</div><div class="c" style="left:410px;top:271px;width:11px;height:9px;background:#cdfbfb;color:#082020">2</div><div class="c" style="left:421px;top:271px;width:13px;height:9px;background:#cdfbfb;color:#082020">2</div><div class="c" style="left:434px;top:271px;width:11px;height:9px;background:#cdfbfb;color:#082020">2</div><div class="c" style="left:445px;top:271px;width:13px;height:9px;background:#c89af5;color:#180634">3</div><div class="c" style="left:458px;top:271px;width:14px;height:9px;background:#c89af5;color:#180634">3</div><div class="c" style="left:472px;top:271px;width:13px;height:9px;background:#c89af5;color:#180634">3</div><div class="c" style="left:485px;top:271px;width:14px;height:9px;background:#c89af5;color:#180634">3</div><div class="c" style="left:499px;top:271px;width:14px;height:9px;background:#c89af5;color:#180634">3</div><div class="c" style="left:513px;top:271px;width:11px;height:9px;background:#9ccf14;color:#102000">4</div><div class="c" style="left:524px;top:271px;width:11px;height:9px;background:#9ccf14;color:#102000">4</div><div class="c" style="left:535px;top:271px;width:14px;height:9px;background:#9ccf14;color:#102000">4</div><div class="c" style="left:549px;top:271px;width:13px;height:9px;background:#9ccf14;color:#102000">4</div><div class="c" style="left:562px;top:271px;width:13px;height:9px;background:#993366;color:#4a1030">5</div><div class="c" style="left:575px;top:271px;width:12px;height:9px;background:#993366;color:#4a1030">5</div><div class="c" style="left:587px;top:271px;width:14px;height:9px;background:#993366;color:#4a1030">5</div><div class="c" style="left:601px;top:271px;width:12px;height:9px;background:#993366;color:#4a1030">5</div><div class="c" style="left:613px;top:271px;width:11px;height:9px;background:#993366;color:#4a1030">5</div><div class="c" style="left:624px;top:271px;width:12px;height:9px;background:#f68e8e;color:#500404">6</div><div class="c" style="left:90px;top:280px;width:11px;height:8px;background:#993366;color:#4a1030">5</div><div class="c" style="left:101px;top:280px;width:11px;height:8px;background:#993366;color:#4a1030">5</div><div class="c" style="left:112px;top:280px;width:11px;height:8px;background:#9ccf14;color:#102000">4</div><div class="c" style="left:123px;top:280px;width:11px;height:8px;background:#9ccf14;color:#102000">4</div><div class="c" style="left:134px;top:280px;width:12px;height:8px;background:#9ccf14;color:#102000">4</div><div class="c" style="left:146px;top:280px;width:12px;height:8px;background:#9ccf14;color:#102000">4</div><div class="c" style="left:158px;top:280px;width:13px;height:8px;background:#c89af5;color:#180634">3</div><div class="c" style="left:171px;top:280px;width:12px;height:8px;background:#c89af5;color:#180634">3</div><div class="c" style="left:183px;top:280px;width:14px;height:8px;background:#c89af5;color:#180634">3</div><div class="c" style="left:197px;top:280px;width:16px;height:8px;background:#c89af5;color:#180634">3</div><div class="c" style="left:213px;top:280px;width:15px;height:8px;background:#c89af5;color:#180634">3</div><div class="c" style="left:228px;top:280px;width:15px;height:8px;background:#c89af5;color:#180634">3</div><div class="c" style="left:243px;top:280px;width:14px;height:8px;background:#c89af5;color:#180634">3</div><div class="c" style="left:257px;top:280px;width:13px;height:8px;background:#c89af5;color:#180634">3</div><div class="c" style="left:270px;top:280px;width:14px;height:8px;background:#c89af5;color:#180634">3</div><div class="c" style="left:284px;top:280px;width:14px;height:8px;background:#c89af5;color:#180634">3</div><div class="c" style="left:298px;top:280px;width:12px;height:8px;background:#9ccf14;color:#102000">4</div><div class="c" style="left:310px;top:280px;width:12px;height:8px;background:#9ccf14;color:#102000">4</div><div class="c" style="left:322px;top:280px;width:13px;height:8px;background:#9ccf14;color:#102000">4</div><div class="c" style="left:335px;top:280px;width:13px;height:8px;background:#993366;color:#4a1030">5</div><div class="c" style="left:348px;top:280px;width:13px;height:8px;background:#993366;color:#4a1030">5</div><div class="c" style="left:361px;top:280px;width:12px;height:8px;background:#993366;color:#4a1030">5</div><div class="c" style="left:373px;top:280px;width:11px;height:8px;background:#993366;color:#4a1030">5</div><div class="c" style="left:384px;top:280px;width:13px;height:8px;background:#cdfbfb;color:#082020">2</div><div class="c" style="left:397px;top:280px;width:13px;height:8px;background:#cdfbfb;color:#082020">2</div><div class="c" style="left:410px;top:280px;width:11px;height:8px;background:#cdfbfb;color:#082020">2</div><div class="c" style="left:421px;top:280px;width:13px;height:8px;background:#cdfbfb;color:#082020">2</div><div class="c" style="left:434px;top:280px;width:11px;height:8px;background:#cdfbfb;color:#082020">2</div><div class="c" style="left:445px;top:280px;width:13px;height:8px;background:#cdfbfb;color:#082020">2</div><div class="c" style="left:458px;top:280px;width:14px;height:8px;background:#c89af5;color:#180634">3</div><div class="c" style="left:472px;top:280px;width:13px;height:8px;background:#c89af5;color:#180634">3</div><div class="c" style="left:485px;top:280px;width:14px;height:8px;background:#c89af5;color:#180634">3</div><div class="c" style="left:499px;top:280px;width:14px;height:8px;background:#c89af5;color:#180634">3</div><div class="c" style="left:513px;top:280px;width:11px;height:8px;background:#c89af5;color:#180634">3</div><div class="c" style="left:524px;top:280px;width:11px;height:8px;background:#c89af5;color:#180634">3</div><div class="c" style="left:535px;top:280px;width:14px;height:8px;background:#9ccf14;color:#102000">4</div><div class="c" style="left:549px;top:280px;width:13px;height:8px;background:#9ccf14;color:#102000">4</div><div class="c" style="left:562px;top:280px;width:13px;height:8px;background:#9ccf14;color:#102000">4</div><div class="c" style="left:575px;top:280px;width:12px;height:8px;background:#993366;color:#4a1030">5</div><div class="c" style="left:587px;top:280px;width:14px;height:8px;background:#993366;color:#4a1030">5</div><div class="c" style="left:601px;top:280px;width:12px;height:8px;background:#993366;color:#4a1030">5</div><div class="c" style="left:613px;top:280px;width:11px;height:8px;background:#993366;color:#4a1030">5</div><div class="c" style="left:624px;top:280px;width:12px;height:8px;background:#993366;color:#4a1030">5</div><div class="c" style="left:90px;top:288px;width:11px;height:8px;background:#9ccf14;color:#102000">4</div><div class="c" style="left:101px;top:288px;width:11px;height:8px;background:#9ccf14;color:#102000">4</div><div class="c" style="left:112px;top:288px;width:11px;height:8px;background:#9ccf14;color:#102000">4</div><div class="c" style="left:123px;top:288px;width:11px;height:8px;background:#9ccf14;color:#102000">4</div><div class="c" style="left:134px;top:288px;width:12px;height:8px;background:#9ccf14;color:#102000">4</div><div class="c" style="left:146px;top:288px;width:12px;height:8px;background:#c89af5;color:#180634">3</div><div class="c" style="left:158px;top:288px;width:13px;height:8px;background:#c89af5;color:#180634">3</div><div class="c" style="left:171px;top:288px;width:12px;height:8px;background:#c89af5;color:#180634">3</div><div class="c" style="left:183px;top:288px;width:14px;height:8px;background:#c89af5;color:#180634">3</div><div class="c" style="left:197px;top:288px;width:16px;height:8px;background:#cdfbfb;color:#082020">2</div><div class="c" style="left:213px;top:288px;width:15px;height:8px;background:#cdfbfb;color:#082020">2</div><div class="c" style="left:228px;top:288px;width:15px;height:8px;background:#cdfbfb;color:#082020">2</div><div class="c" style="left:243px;top:288px;width:14px;height:8px;background:#c89af5;color:#180634">3</div><div class="c" style="left:257px;top:288px;width:13px;height:8px;background:#c89af5;color:#180634">3</div><div class="c" style="left:270px;top:288px;width:14px;height:8px;background:#c89af5;color:#180634">3</div><div class="c" style="left:284px;top:288px;width:14px;height:8px;background:#c89af5;color:#180634">3</div><div class="c" style="left:298px;top:288px;width:12px;height:8px;background:#c89af5;color:#180634">3</div><div class="c" style="left:310px;top:288px;width:12px;height:8px;background:#9ccf14;color:#102000">4</div><div class="c" style="left:322px;top:288px;width:13px;height:8px;background:#9ccf14;color:#102000">4</div><div class="c" style="left:335px;top:288px;width:13px;height:8px;background:#9ccf14;color:#102000">4</div><div class="c" style="left:348px;top:288px;width:13px;height:8px;background:#993366;color:#4a1030">5</div><div class="c" style="left:361px;top:288px;width:12px;height:8px;background:#993366;color:#4a1030">5</div><div class="c" style="left:373px;top:288px;width:11px;height:8px;background:#993366;color:#4a1030">5</div><div class="c" style="left:384px;top:288px;width:13px;height:8px;background:#cdfbfb;color:#082020">2</div><div class="c" style="left:397px;top:288px;width:13px;height:8px;background:#cdfbfb;color:#082020">2</div><div class="c" style="left:410px;top:288px;width:11px;height:8px;background:#cdfbfb;color:#082020">2</div><div class="c" style="left:421px;top:288px;width:13px;height:8px;background:#cdfbfb;color:#082020">2</div><div class="c" style="left:434px;top:288px;width:11px;height:8px;background:#cdfbfb;color:#082020">2</div><div class="c" style="left:445px;top:288px;width:13px;height:8px;background:#cdfbfb;color:#082020">2</div><div class="c" style="left:458px;top:288px;width:14px;height:8px;background:#cdfbfb;color:#082020">2</div><div class="c" style="left:472px;top:288px;width:13px;height:8px;background:#cdfbfb;color:#082020">2</div><div class="c" style="left:485px;top:288px;width:14px;height:8px;background:#cdfbfb;color:#082020">2</div><div class="c" style="left:499px;top:288px;width:14px;height:8px;background:#c89af5;color:#180634">3</div><div class="c" style="left:513px;top:288px;width:11px;height:8px;background:#c89af5;color:#180634">3</div><div class="c" style="left:524px;top:288px;width:11px;height:8px;background:#c89af5;color:#180634">3</div><div class="c" style="left:535px;top:288px;width:14px;height:8px;background:#c89af5;color:#180634">3</div><div class="c" style="left:549px;top:288px;width:13px;height:8px;background:#9ccf14;color:#102000">4</div><div class="c" style="left:562px;top:288px;width:13px;height:8px;background:#9ccf14;color:#102000">4</div><div class="c" style="left:575px;top:288px;width:12px;height:8px;background:#9ccf14;color:#102000">4</div><div class="c" style="left:587px;top:288px;width:14px;height:8px;background:#9ccf14;color:#102000">4</div><div class="c" style="left:601px;top:288px;width:12px;height:8px;background:#993366;color:#4a1030">5</div><div class="c" style="left:613px;top:288px;width:11px;height:8px;background:#993366;color:#4a1030">5</div><div class="c" style="left:624px;top:288px;width:12px;height:8px;background:#993366;color:#4a1030">5</div><div class="c" style="left:90px;top:296px;width:11px;height:9px;background:#9ccf14;color:#102000">4</div><div class="c" style="left:101px;top:296px;width:11px;height:9px;background:#9ccf14;color:#102000">4</div><div class="c" style="left:112px;top:296px;width:11px;height:9px;background:#9ccf14;color:#102000">4</div><div class="c" style="left:123px;top:296px;width:11px;height:9px;background:#c89af5;color:#180634">3</div><div class="c" style="left:134px;top:296px;width:12px;height:9px;background:#c89af5;color:#180634">3</div><div class="c" style="left:146px;top:296px;width:12px;height:9px;background:#c89af5;color:#180634">3</div><div class="c" style="left:158px;top:296px;width:13px;height:9px;background:#c89af5;color:#180634">3</div><div class="c" style="left:171px;top:296px;width:12px;height:9px;background:#cdfbfb;color:#082020">2</div><div class="c" style="left:183px;top:296px;width:14px;height:9px;background:#cdfbfb;color:#082020">2</div><div class="c" style="left:197px;top:296px;width:16px;height:9px;background:#cdfbfb;color:#082020">2</div><div class="c" style="left:213px;top:296px;width:15px;height:9px;background:#cdfbfb;color:#082020">2</div><div class="c" style="left:228px;top:296px;width:15px;height:9px;background:#cdfbfb;color:#082020">2</div><div class="c" style="left:243px;top:296px;width:14px;height:9px;background:#cdfbfb;color:#082020">2</div><div class="c" style="left:257px;top:296px;width:13px;height:9px;background:#cdfbfb;color:#082020">2</div><div class="c" style="left:270px;top:296px;width:14px;height:9px;background:#c89af5;color:#180634">3</div><div class="c" style="left:284px;top:296px;width:14px;height:9px;background:#c89af5;color:#180634">3</div><div class="c" style="left:298px;top:296px;width:12px;height:9px;background:#c89af5;color:#180634">3</div><div class="c" style="left:310px;top:296px;width:12px;height:9px;background:#c89af5;color:#180634">3</div><div class="c" style="left:322px;top:296px;width:13px;height:9px;background:#9ccf14;color:#102000">4</div><div class="c" style="left:335px;top:296px;width:13px;height:9px;background:#9ccf14;color:#102000">4</div><div class="c" style="left:348px;top:296px;width:13px;height:9px;background:#9ccf14;color:#102000">4</div><div class="c" style="left:361px;top:296px;width:12px;height:9px;background:#9ccf14;color:#102000">4</div><div class="c" style="left:373px;top:296px;width:11px;height:9px;background:#993366;color:#4a1030">5</div><div class="c" style="left:384px;top:296px;width:13px;height:9px;background:#cdfbfb;color:#082020">2</div><div class="c" style="left:397px;top:296px;width:13px;height:9px;background:#cdfbfb;color:#082020">2</div><div class="c" style="left:410px;top:296px;width:11px;height:9px;background:#cdfbfb;color:#082020">2</div><div class="c" style="left:421px;top:296px;width:13px;height:9px;background:#cdfbfb;color:#082020">2</div><div class="c" style="left:434px;top:296px;width:11px;height:9px;background:#cdfbfb;color:#082020">2</div><div class="c" style="left:445px;top:296px;width:13px;height:9px;background:#cdfbfb;color:#082020">2</div><div class="c" style="left:458px;top:296px;width:14px;height:9px;background:#cdfbfb;color:#082020">2</div><div class="c" style="left:472px;top:296px;width:13px;height:9px;background:#cdfbfb;color:#082020">2</div><div class="c" style="left:485px;top:296px;width:14px;height:9px;background:#cdfbfb;color:#082020">2</div><div class="c" style="left:499px;top:296px;width:14px;height:9px;background:#cdfbfb;color:#082020">2</div><div class="c" style="left:513px;top:296px;width:11px;height:9px;background:#c89af5;color:#180634">3</div><div class="c" style="left:524px;top:296px;width:11px;height:9px;background:#c89af5;color:#180634">3</div><div class="c" style="left:535px;top:296px;width:14px;height:9px;background:#c89af5;color:#180634">3</div><div class="c" style="left:549px;top:296px;width:13px;height:9px;background:#c89af5;color:#180634">3</div><div class="c" style="left:562px;top:296px;width:13px;height:9px;background:#9ccf14;color:#102000">4</div><div class="c" style="left:575px;top:296px;width:12px;height:9px;background:#9ccf14;color:#102000">4</div><div class="c" style="left:587px;top:296px;width:14px;height:9px;background:#9ccf14;color:#102000">4</div><div class="c" style="left:601px;top:296px;width:12px;height:9px;background:#993366;color:#4a1030">5</div><div class="c" style="left:613px;top:296px;width:11px;height:9px;background:#993366;color:#4a1030">5</div><div class="c" style="left:624px;top:296px;width:12px;height:9px;background:#993366;color:#4a1030">5</div><div class="c" style="left:90px;top:305px;width:11px;height:8px;background:#9ccf14;color:#102000">4</div><div class="c" style="left:101px;top:305px;width:11px;height:8px;background:#9ccf14;color:#102000">4</div><div class="c" style="left:112px;top:305px;width:11px;height:8px;background:#c89af5;color:#180634">3</div><div class="c" style="left:123px;top:305px;width:11px;height:8px;background:#c89af5;color:#180634">3</div><div class="c" style="left:134px;top:305px;width:12px;height:8px;background:#c89af5;color:#180634">3</div><div class="c" style="left:146px;top:305px;width:12px;height:8px;background:#c89af5;color:#180634">3</div><div class="c" style="left:158px;top:305px;width:13px;height:8px;background:#cdfbfb;color:#082020">2</div><div class="c" style="left:171px;top:305px;width:12px;height:8px;background:#cdfbfb;color:#082020">2</div><div class="c" style="left:183px;top:305px;width:14px;height:8px;background:#cdfbfb;color:#082020">2</div><div class="c" style="left:197px;top:305px;width:16px;height:8px;background:#cdfbfb;color:#082020">2</div><div class="c" style="left:213px;top:305px;width:15px;height:8px;background:#cdfbfb;color:#082020">2</div><div class="c" style="left:228px;top:305px;width:15px;height:8px;background:#cdfbfb;color:#082020">2</div><div class="c" style="left:243px;top:305px;width:14px;height:8px;background:#cdfbfb;color:#082020">2</div><div class="c" style="left:257px;top:305px;width:13px;height:8px;background:#cdfbfb;color:#082020">2</div><div class="c" style="left:270px;top:305px;width:14px;height:8px;background:#cdfbfb;color:#082020">2</div><div class="c" style="left:284px;top:305px;width:14px;height:8px;background:#c89af5;color:#180634">3</div><div class="c" style="left:298px;top:305px;width:12px;height:8px;background:#c89af5;color:#180634">3</div><div class="c" style="left:310px;top:305px;width:12px;height:8px;background:#c89af5;color:#180634">3</div><div class="c" style="left:322px;top:305px;width:13px;height:8px;background:#c89af5;color:#180634">3</div><div class="c" style="left:335px;top:305px;width:13px;height:8px;background:#9ccf14;color:#102000">4</div><div class="c" style="left:348px;top:305px;width:13px;height:8px;background:#9ccf14;color:#102000">4</div><div class="c" style="left:361px;top:305px;width:12px;height:8px;background:#9ccf14;color:#102000">4</div><div class="c" style="left:373px;top:305px;width:11px;height:8px;background:#993366;color:#4a1030">5</div><div class="c" style="left:384px;top:305px;width:13px;height:8px;background:#cdfbfb;color:#082020">2</div><div class="c" style="left:397px;top:305px;width:13px;height:8px;background:#cdfbfb;color:#082020">2</div><div class="c" style="left:410px;top:305px;width:11px;height:8px;background:#cdfbfb;color:#082020">2</div><div class="c" style="left:421px;top:305px;width:13px;height:8px;background:#cdfbfb;color:#082020">2</div><div class="c" style="left:434px;top:305px;width:11px;height:8px;background:#cdfbfb;color:#082020">2</div><div class="c" style="left:445px;top:305px;width:13px;height:8px;background:#cdfbfb;color:#082020">2</div><div class="c" style="left:458px;top:305px;width:14px;height:8px;background:#cdfbfb;color:#082020">2</div><div class="c" style="left:472px;top:305px;width:13px;height:8px;background:#cdfbfb;color:#082020">2</div><div class="c" style="left:485px;top:305px;width:14px;height:8px;background:#cdfbfb;color:#082020">2</div><div class="c" style="left:499px;top:305px;width:14px;height:8px;background:#cdfbfb;color:#082020">2</div><div class="c" style="left:513px;top:305px;width:11px;height:8px;background:#cdfbfb;color:#082020">2</div><div class="c" style="left:524px;top:305px;width:11px;height:8px;background:#c89af5;color:#180634">3</div><div class="c" style="left:535px;top:305px;width:14px;height:8px;background:#c89af5;color:#180634">3</div><div class="c" style="left:549px;top:305px;width:13px;height:8px;background:#c89af5;color:#180634">3</div><div class="c" style="left:562px;top:305px;width:13px;height:8px;background:#c89af5;color:#180634">3</div><div class="c" style="left:575px;top:305px;width:12px;height:8px;background:#9ccf14;color:#102000">4</div><div class="c" style="left:587px;top:305px;width:14px;height:8px;background:#9ccf14;color:#102000">4</div><div class="c" style="left:601px;top:305px;width:12px;height:8px;background:#9ccf14;color:#102000">4</div><div class="c" style="left:613px;top:305px;width:11px;height:8px;background:#993366;color:#4a1030">5</div><div class="c" style="left:624px;top:305px;width:12px;height:8px;background:#993366;color:#4a1030">5</div><div class="c" style="left:90px;top:313px;width:11px;height:9px;background:#9ccf14;color:#102000">4</div><div class="c" style="left:101px;top:313px;width:11px;height:9px;background:#c89af5;color:#180634">3</div><div class="c" style="left:112px;top:313px;width:11px;height:9px;background:#c89af5;color:#180634">3</div><div class="c" style="left:123px;top:313px;width:11px;height:9px;background:#c89af5;color:#180634">3</div><div class="c" style="left:134px;top:313px;width:12px;height:9px;background:#c89af5;color:#180634">3</div><div class="c" style="left:146px;top:313px;width:12px;height:9px;background:#c89af5;color:#180634">3</div><div class="c" style="left:158px;top:313px;width:13px;height:9px;background:#cdfbfb;color:#082020">2</div><div class="c" style="left:171px;top:313px;width:12px;height:9px;background:#cdfbfb;color:#082020">2</div><div class="c" style="left:183px;top:313px;width:14px;height:9px;background:#cdfbfb;color:#082020">2</div><div class="c" style="left:197px;top:313px;width:16px;height:9px;background:#cdfbfb;color:#082020">2</div><div class="c" style="left:213px;top:313px;width:15px;height:9px;background:#cdfbfb;color:#082020">2</div><div class="c" style="left:228px;top:313px;width:15px;height:9px;background:#cdfbfb;color:#082020">2</div><div class="c" style="left:243px;top:313px;width:14px;height:9px;background:#cdfbfb;color:#082020">2</div><div class="c" style="left:257px;top:313px;width:13px;height:9px;background:#cdfbfb;color:#082020">2</div><div class="c" style="left:270px;top:313px;width:14px;height:9px;background:#cdfbfb;color:#082020">2</div><div class="c" style="left:284px;top:313px;width:14px;height:9px;background:#cdfbfb;color:#082020">2</div><div class="c" style="left:298px;top:313px;width:12px;height:9px;background:#c89af5;color:#180634">3</div><div class="c" style="left:310px;top:313px;width:12px;height:9px;background:#c89af5;color:#180634">3</div><div class="c" style="left:322px;top:313px;width:13px;height:9px;background:#c89af5;color:#180634">3</div><div class="c" style="left:335px;top:313px;width:13px;height:9px;background:#9ccf14;color:#102000">4</div><div class="c" style="left:348px;top:313px;width:13px;height:9px;background:#9ccf14;color:#102000">4</div><div class="c" style="left:361px;top:313px;width:12px;height:9px;background:#9ccf14;color:#102000">4</div><div class="c" style="left:373px;top:313px;width:11px;height:9px;background:#9ccf14;color:#102000">4</div><div class="c" style="left:384px;top:313px;width:13px;height:9px;background:#c89af5;color:#180634">3</div><div class="c" style="left:397px;top:313px;width:13px;height:9px;background:#cdfbfb;color:#082020">2</div><div class="c" style="left:410px;top:313px;width:11px;height:9px;background:#cdfbfb;color:#082020">2</div><div class="c" style="left:421px;top:313px;width:13px;height:9px;background:#cdfbfb;color:#082020">2</div><div class="c" style="left:434px;top:313px;width:11px;height:9px;background:#cdfbfb;color:#082020">2</div><div class="c" style="left:445px;top:313px;width:13px;height:9px;background:#cdfbfb;color:#082020">2</div><div class="c" style="left:458px;top:313px;width:14px;height:9px;background:#cdfbfb;color:#082020">2</div><div class="c" style="left:472px;top:313px;width:13px;height:9px;background:#cdfbfb;color:#082020">2</div><div class="c" style="left:485px;top:313px;width:14px;height:9px;background:#cdfbfb;color:#082020">2</div><div class="c" style="left:499px;top:313px;width:14px;height:9px;background:#cdfbfb;color:#082020">2</div><div class="c" style="left:513px;top:313px;width:11px;height:9px;background:#cdfbfb;color:#082020">2</div><div class="c" style="left:524px;top:313px;width:11px;height:9px;background:#cdfbfb;color:#082020">2</div><div class="c" style="left:535px;top:313px;width:14px;height:9px;background:#c89af5;color:#180634">3</div><div class="c" style="left:549px;top:313px;width:13px;height:9px;background:#c89af5;color:#180634">3</div><div class="c" style="left:562px;top:313px;width:13px;height:9px;background:#c89af5;color:#180634">3</div><div class="c" style="left:575px;top:313px;width:12px;height:9px;background:#9ccf14;color:#102000">4</div><div class="c" style="left:587px;top:313px;width:14px;height:9px;background:#9ccf14;color:#102000">4</div><div class="c" style="left:601px;top:313px;width:12px;height:9px;background:#9ccf14;color:#102000">4</div><div class="c" style="left:613px;top:313px;width:11px;height:9px;background:#9ccf14;color:#102000">4</div><div class="c" style="left:624px;top:313px;width:12px;height:9px;background:#993366;color:#4a1030">5</div><div class="c" style="left:90px;top:322px;width:11px;height:8px;background:#c89af5;color:#180634">3</div><div class="c" style="left:101px;top:322px;width:11px;height:8px;background:#c89af5;color:#180634">3</div><div class="c" style="left:112px;top:322px;width:11px;height:8px;background:#c89af5;color:#180634">3</div><div class="c" style="left:123px;top:322px;width:11px;height:8px;background:#c89af5;color:#180634">3</div><div class="c" style="left:134px;top:322px;width:12px;height:8px;background:#c89af5;color:#180634">3</div><div class="c" style="left:146px;top:322px;width:12px;height:8px;background:#cdfbfb;color:#082020">2</div><div class="c" style="left:158px;top:322px;width:13px;height:8px;background:#cdfbfb;color:#082020">2</div><div class="c" style="left:171px;top:322px;width:12px;height:8px;background:#cdfbfb;color:#082020">2</div><div class="c" style="left:183px;top:322px;width:14px;height:8px;background:#cdfbfb;color:#082020">2</div><div class="c" style="left:197px;top:322px;width:16px;height:8px;background:#cdfbfb;color:#082020">2</div><div class="c" style="left:213px;top:322px;width:15px;height:8px;background:#cdfbfb;color:#082020">2</div><div class="c" style="left:228px;top:322px;width:15px;height:8px;background:#cdfbfb;color:#082020">2</div><div class="c" style="left:243px;top:322px;width:14px;height:8px;background:#cdfbfb;color:#082020">2</div><div class="c" style="left:257px;top:322px;width:13px;height:8px;background:#cdfbfb;color:#082020">2</div><div class="c" style="left:270px;top:322px;width:14px;height:8px;background:#cdfbfb;color:#082020">2</div><div class="c" style="left:284px;top:322px;width:14px;height:8px;background:#cdfbfb;color:#082020">2</div><div class="c" style="left:298px;top:322px;width:12px;height:8px;background:#cdfbfb;color:#082020">2</div><div class="c" style="left:310px;top:322px;width:12px;height:8px;background:#c89af5;color:#180634">3</div><div class="c" style="left:322px;top:322px;width:13px;height:8px;background:#c89af5;color:#180634">3</div><div class="c" style="left:335px;top:322px;width:13px;height:8px;background:#c89af5;color:#180634">3</div><div class="c" style="left:348px;top:322px;width:13px;height:8px;background:#9ccf14;color:#102000">4</div><div class="c" style="left:361px;top:322px;width:12px;height:8px;background:#9ccf14;color:#102000">4</div><div class="c" style="left:373px;top:322px;width:11px;height:8px;background:#9ccf14;color:#102000">4</div><div class="c" style="left:384px;top:322px;width:13px;height:8px;background:#c89af5;color:#180634">3</div><div class="c" style="left:397px;top:322px;width:13px;height:8px;background:#c89af5;color:#180634">3</div><div class="c" style="left:410px;top:322px;width:11px;height:8px;background:#cdfbfb;color:#082020">2</div><div class="c" style="left:421px;top:322px;width:13px;height:8px;background:#cdfbfb;color:#082020">2</div><div class="c" style="left:434px;top:322px;width:11px;height:8px;background:#cdfbfb;color:#082020">2</div><div class="c" style="left:445px;top:322px;width:13px;height:8px;background:#cdfbfb;color:#082020">2</div><div class="c" style="left:458px;top:322px;width:14px;height:8px;background:#cdfbfb;color:#082020">2</div><div class="c" style="left:472px;top:322px;width:13px;height:8px;background:#cdfbfb;color:#082020">2</div><div class="c" style="left:485px;top:322px;width:14px;height:8px;background:#cdfbfb;color:#082020">2</div><div class="c" style="left:499px;top:322px;width:14px;height:8px;background:#cdfbfb;color:#082020">2</div><div class="c" style="left:513px;top:322px;width:11px;height:8px;background:#cdfbfb;color:#082020">2</div><div class="c" style="left:524px;top:322px;width:11px;height:8px;background:#cdfbfb;color:#082020">2</div><div class="c" style="left:535px;top:322px;width:14px;height:8px;background:#cdfbfb;color:#082020">2</div><div class="c" style="left:549px;top:322px;width:13px;height:8px;background:#c89af5;color:#180634">3</div><div class="c" style="left:562px;top:322px;width:13px;height:8px;background:#c89af5;color:#180634">3</div><div class="c" style="left:575px;top:322px;width:12px;height:8px;background:#c89af5;color:#180634">3</div><div class="c" style="left:587px;top:322px;width:14px;height:8px;background:#9ccf14;color:#102000">4</div><div class="c" style="left:601px;top:322px;width:12px;height:8px;background:#9ccf14;color:#102000">4</div><div class="c" style="left:613px;top:322px;width:11px;height:8px;background:#9ccf14;color:#102000">4</div><div class="c" style="left:624px;top:322px;width:12px;height:8px;background:#9ccf14;color:#102000">4</div><div class="c" style="left:90px;top:330px;width:11px;height:8px;background:#9ccf14;color:#102000">4</div><div class="c" style="left:101px;top:330px;width:11px;height:8px;background:#c89af5;color:#180634">3</div><div class="c" style="left:112px;top:330px;width:11px;height:8px;background:#c89af5;color:#180634">3</div><div class="c" style="left:123px;top:330px;width:11px;height:8px;background:#c89af5;color:#180634">3</div><div class="c" style="left:134px;top:330px;width:12px;height:8px;background:#c89af5;color:#180634">3</div><div class="c" style="left:146px;top:330px;width:12px;height:8px;background:#cdfbfb;color:#082020">2</div><div class="c" style="left:158px;top:330px;width:13px;height:8px;background:#cdfbfb;color:#082020">2</div><div class="c" style="left:171px;top:330px;width:12px;height:8px;background:#cdfbfb;color:#082020">2</div><div class="c" style="left:183px;top:330px;width:14px;height:8px;background:#cdfbfb;color:#082020">2</div><div class="c" style="left:197px;top:330px;width:16px;height:8px;background:#cdfbfb;color:#082020">2</div><div class="c" style="left:213px;top:330px;width:15px;height:8px;background:#cdfbfb;color:#082020">2</div><div class="c" style="left:228px;top:330px;width:15px;height:8px;background:#cdfbfb;color:#082020">2</div><div class="c" style="left:243px;top:330px;width:14px;height:8px;background:#cdfbfb;color:#082020">2</div><div class="c" style="left:257px;top:330px;width:13px;height:8px;background:#cdfbfb;color:#082020">2</div><div class="c" style="left:270px;top:330px;width:14px;height:8px;background:#cdfbfb;color:#082020">2</div><div class="c" style="left:284px;top:330px;width:14px;height:8px;background:#cdfbfb;color:#082020">2</div><div class="c" style="left:298px;top:330px;width:12px;height:8px;background:#c89af5;color:#180634">3</div><div class="c" style="left:310px;top:330px;width:12px;height:8px;background:#c89af5;color:#180634">3</div><div class="c" style="left:322px;top:330px;width:13px;height:8px;background:#c89af5;color:#180634">3</div><div class="c" style="left:335px;top:330px;width:13px;height:8px;background:#c89af5;color:#180634">3</div><div class="c" style="left:348px;top:330px;width:13px;height:8px;background:#9ccf14;color:#102000">4</div><div class="c" style="left:361px;top:330px;width:12px;height:8px;background:#9ccf14;color:#102000">4</div><div class="c" style="left:373px;top:330px;width:11px;height:8px;background:#9ccf14;color:#102000">4</div><div class="c" style="left:384px;top:330px;width:13px;height:8px;background:#c89af5;color:#180634">3</div><div class="c" style="left:397px;top:330px;width:13px;height:8px;background:#c89af5;color:#180634">3</div><div class="c" style="left:410px;top:330px;width:11px;height:8px;background:#cdfbfb;color:#082020">2</div><div class="c" style="left:421px;top:330px;width:13px;height:8px;background:#cdfbfb;color:#082020">2</div><div class="c" style="left:434px;top:330px;width:11px;height:8px;background:#cdfbfb;color:#082020">2</div><div class="c" style="left:445px;top:330px;width:13px;height:8px;background:#cdfbfb;color:#082020">2</div><div class="c" style="left:458px;top:330px;width:14px;height:8px;background:#cdfbfb;color:#082020">2</div><div class="c" style="left:472px;top:330px;width:13px;height:8px;background:#cdfbfb;color:#082020">2</div><div class="c" style="left:485px;top:330px;width:14px;height:8px;background:#cdfbfb;color:#082020">2</div><div class="c" style="left:499px;top:330px;width:14px;height:8px;background:#cdfbfb;color:#082020">2</div><div class="c" style="left:513px;top:330px;width:11px;height:8px;background:#cdfbfb;color:#082020">2</div><div class="c" style="left:524px;top:330px;width:11px;height:8px;background:#cdfbfb;color:#082020">2</div><div class="c" style="left:535px;top:330px;width:14px;height:8px;background:#cdfbfb;color:#082020">2</div><div class="c" style="left:549px;top:330px;width:13px;height:8px;background:#c89af5;color:#180634">3</div><div class="c" style="left:562px;top:330px;width:13px;height:8px;background:#c89af5;color:#180634">3</div><div class="c" style="left:575px;top:330px;width:12px;height:8px;background:#c89af5;color:#180634">3</div><div class="c" style="left:587px;top:330px;width:14px;height:8px;background:#c89af5;color:#180634">3</div><div class="c" style="left:601px;top:330px;width:12px;height:8px;background:#9ccf14;color:#102000">4</div><div class="c" style="left:613px;top:330px;width:11px;height:8px;background:#9ccf14;color:#102000">4</div><div class="c" style="left:624px;top:330px;width:12px;height:8px;background:#9ccf14;color:#102000">4</div><div class="c" style="left:90px;top:338px;width:11px;height:9px;background:#9ccf14;color:#102000">4</div><div class="c" style="left:101px;top:338px;width:11px;height:9px;background:#9ccf14;color:#102000">4</div><div class="c" style="left:112px;top:338px;width:11px;height:9px;background:#c89af5;color:#180634">3</div><div class="c" style="left:123px;top:338px;width:11px;height:9px;background:#c89af5;color:#180634">3</div><div class="c" style="left:134px;top:338px;width:12px;height:9px;background:#c89af5;color:#180634">3</div><div class="c" style="left:146px;top:338px;width:12px;height:9px;background:#c89af5;color:#180634">3</div><div class="c" style="left:158px;top:338px;width:13px;height:9px;background:#cdfbfb;color:#082020">2</div><div class="c" style="left:171px;top:338px;width:12px;height:9px;background:#cdfbfb;color:#082020">2</div><div class="c" style="left:183px;top:338px;width:14px;height:9px;background:#cdfbfb;color:#082020">2</div><div class="c" style="left:197px;top:338px;width:16px;height:9px;background:#cdfbfb;color:#082020">2</div><div class="c" style="left:213px;top:338px;width:15px;height:9px;background:#cdfbfb;color:#082020">2</div><div class="c" style="left:228px;top:338px;width:15px;height:9px;background:#cdfbfb;color:#082020">2</div><div class="c" style="left:243px;top:338px;width:14px;height:9px;background:#cdfbfb;color:#082020">2</div><div class="c" style="left:257px;top:338px;width:13px;height:9px;background:#cdfbfb;color:#082020">2</div><div class="c" style="left:270px;top:338px;width:14px;height:9px;background:#cdfbfb;color:#082020">2</div><div class="c" style="left:284px;top:338px;width:14px;height:9px;background:#cdfbfb;color:#082020">2</div><div class="c" style="left:298px;top:338px;width:12px;height:9px;background:#c89af5;color:#180634">3</div><div class="c" style="left:310px;top:338px;width:12px;height:9px;background:#c89af5;color:#180634">3</div><div class="c" style="left:322px;top:338px;width:13px;height:9px;background:#c89af5;color:#180634">3</div><div class="c" style="left:335px;top:338px;width:13px;height:9px;background:#9ccf14;color:#102000">4</div><div class="c" style="left:348px;top:338px;width:13px;height:9px;background:#9ccf14;color:#102000">4</div><div class="c" style="left:361px;top:338px;width:12px;height:9px;background:#9ccf14;color:#102000">4</div><div class="c" style="left:373px;top:338px;width:11px;height:9px;background:#993366;color:#4a1030">5</div><div class="c" style="left:384px;top:338px;width:13px;height:9px;background:#c89af5;color:#180634">3</div><div class="c" style="left:397px;top:338px;width:13px;height:9px;background:#c89af5;color:#180634">3</div><div class="c" style="left:410px;top:338px;width:11px;height:9px;background:#cdfbfb;color:#082020">2</div><div class="c" style="left:421px;top:338px;width:13px;height:9px;background:#cdfbfb;color:#082020">2</div><div class="c" style="left:434px;top:338px;width:11px;height:9px;background:#cdfbfb;color:#082020">2</div><div class="c" style="left:445px;top:338px;width:13px;height:9px;background:#cdfbfb;color:#082020">2</div><div class="c" style="left:458px;top:338px;width:14px;height:9px;background:#cdfbfb;color:#082020">2</div><div class="c" style="left:472px;top:338px;width:13px;height:9px;background:#cdfbfb;color:#082020">2</div><div class="c" style="left:485px;top:338px;width:14px;height:9px;background:#cdfbfb;color:#082020">2</div><div class="c" style="left:499px;top:338px;width:14px;height:9px;background:#cdfbfb;color:#082020">2</div><div class="c" style="left:513px;top:338px;width:11px;height:9px;background:#cdfbfb;color:#082020">2</div><div class="c" style="left:524px;top:338px;width:11px;height:9px;background:#cdfbfb;color:#082020">2</div><div class="c" style="left:535px;top:338px;width:14px;height:9px;background:#cdfbfb;color:#082020">2</div><div class="c" style="left:549px;top:338px;width:13px;height:9px;background:#cdfbfb;color:#082020">2</div><div class="c" style="left:562px;top:338px;width:13px;height:9px;background:#c89af5;color:#180634">3</div><div class="c" style="left:575px;top:338px;width:12px;height:9px;background:#c89af5;color:#180634">3</div><div class="c" style="left:587px;top:338px;width:14px;height:9px;background:#c89af5;color:#180634">3</div><div class="c" style="left:601px;top:338px;width:12px;height:9px;background:#9ccf14;color:#102000">4</div><div class="c" style="left:613px;top:338px;width:11px;height:9px;background:#9ccf14;color:#102000">4</div><div class="c" style="left:624px;top:338px;width:12px;height:9px;background:#9ccf14;color:#102000">4</div><div class="c" style="left:90px;top:347px;width:11px;height:8px;background:#9ccf14;color:#102000">4</div><div class="c" style="left:101px;top:347px;width:11px;height:8px;background:#9ccf14;color:#102000">4</div><div class="c" style="left:112px;top:347px;width:11px;height:8px;background:#9ccf14;color:#102000">4</div><div class="c" style="left:123px;top:347px;width:11px;height:8px;background:#c89af5;color:#180634">3</div><div class="c" style="left:134px;top:347px;width:12px;height:8px;background:#c89af5;color:#180634">3</div><div class="c" style="left:146px;top:347px;width:12px;height:8px;background:#c89af5;color:#180634">3</div><div class="c" style="left:158px;top:347px;width:13px;height:8px;background:#c89af5;color:#180634">3</div><div class="c" style="left:171px;top:347px;width:12px;height:8px;background:#cdfbfb;color:#082020">2</div><div class="c" style="left:183px;top:347px;width:14px;height:8px;background:#cdfbfb;color:#082020">2</div><div class="c" style="left:197px;top:347px;width:16px;height:8px;background:#cdfbfb;color:#082020">2</div><div class="c" style="left:213px;top:347px;width:15px;height:8px;background:#cdfbfb;color:#082020">2</div><div class="c" style="left:228px;top:347px;width:15px;height:8px;background:#cdfbfb;color:#082020">2</div><div class="c" style="left:243px;top:347px;width:14px;height:8px;background:#cdfbfb;color:#082020">2</div><div class="c" style="left:257px;top:347px;width:13px;height:8px;background:#cdfbfb;color:#082020">2</div><div class="c" style="left:270px;top:347px;width:14px;height:8px;background:#c89af5;color:#180634">3</div><div class="c" style="left:284px;top:347px;width:14px;height:8px;background:#c89af5;color:#180634">3</div><div class="c" style="left:298px;top:347px;width:12px;height:8px;background:#c89af5;color:#180634">3</div><div class="c" style="left:310px;top:347px;width:12px;height:8px;background:#c89af5;color:#180634">3</div><div class="c" style="left:322px;top:347px;width:13px;height:8px;background:#9ccf14;color:#102000">4</div><div class="c" style="left:335px;top:347px;width:13px;height:8px;background:#9ccf14;color:#102000">4</div><div class="c" style="left:348px;top:347px;width:13px;height:8px;background:#9ccf14;color:#102000">4</div><div class="c" style="left:361px;top:347px;width:12px;height:8px;background:#9ccf14;color:#102000">4</div><div class="c" style="left:373px;top:347px;width:11px;height:8px;background:#993366;color:#4a1030">5</div><div class="c" style="left:384px;top:347px;width:13px;height:8px;background:#c89af5;color:#180634">3</div><div class="c" style="left:397px;top:347px;width:13px;height:8px;background:#c89af5;color:#180634">3</div><div class="c" style="left:410px;top:347px;width:11px;height:8px;background:#c89af5;color:#180634">3</div><div class="c" style="left:421px;top:347px;width:13px;height:8px;background:#cdfbfb;color:#082020">2</div><div class="c" style="left:434px;top:347px;width:11px;height:8px;background:#cdfbfb;color:#082020">2</div><div class="c" style="left:445px;top:347px;width:13px;height:8px;background:#cdfbfb;color:#082020">2</div><div class="c" style="left:458px;top:347px;width:14px;height:8px;background:#cdfbfb;color:#082020">2</div><div class="c" style="left:472px;top:347px;width:13px;height:8px;background:#cdfbfb;color:#082020">2</div><div class="c" style="left:485px;top:347px;width:14px;height:8px;background:#cdfbfb;color:#082020">2</div><div class="c" style="left:499px;top:347px;width:14px;height:8px;background:#cdfbfb;color:#082020">2</div><div class="c" style="left:513px;top:347px;width:11px;height:8px;background:#cdfbfb;color:#082020">2</div><div class="c" style="left:524px;top:347px;width:11px;height:8px;background:#cdfbfb;color:#082020">2</div><div class="c" style="left:535px;top:347px;width:14px;height:8px;background:#cdfbfb;color:#082020">2</div><div class="c" style="left:549px;top:347px;width:13px;height:8px;background:#cdfbfb;color:#082020">2</div><div class="c" style="left:562px;top:347px;width:13px;height:8px;background:#cdfbfb;color:#082020">2</div><div class="c" style="left:575px;top:347px;width:12px;height:8px;background:#c89af5;color:#180634">3</div><div class="c" style="left:587px;top:347px;width:14px;height:8px;background:#c89af5;color:#180634">3</div><div class="c" style="left:601px;top:347px;width:12px;height:8px;background:#c89af5;color:#180634">3</div><div class="c" style="left:613px;top:347px;width:11px;height:8px;background:#9ccf14;color:#102000">4</div><div class="c" style="left:624px;top:347px;width:12px;height:8px;background:#9ccf14;color:#102000">4</div><div class="c" style="left:90px;top:355px;width:11px;height:8px;background:#9ccf14;color:#102000">4</div><div class="c" style="left:101px;top:355px;width:11px;height:8px;background:#9ccf14;color:#102000">4</div><div class="c" style="left:112px;top:355px;width:11px;height:8px;background:#9ccf14;color:#102000">4</div><div class="c" style="left:123px;top:355px;width:11px;height:8px;background:#9ccf14;color:#102000">4</div><div class="c" style="left:134px;top:355px;width:12px;height:8px;background:#c89af5;color:#180634">3</div><div class="c" style="left:146px;top:355px;width:12px;height:8px;background:#c89af5;color:#180634">3</div><div class="c" style="left:158px;top:355px;width:13px;height:8px;background:#c89af5;color:#180634">3</div><div class="c" style="left:171px;top:355px;width:12px;height:8px;background:#c89af5;color:#180634">3</div><div class="c" style="left:183px;top:355px;width:14px;height:8px;background:#cdfbfb;color:#082020">2</div><div class="c" style="left:197px;top:355px;width:16px;height:8px;background:#cdfbfb;color:#082020">2</div><div class="c" style="left:213px;top:355px;width:15px;height:8px;background:#cdfbfb;color:#082020">2</div><div class="c" style="left:228px;top:355px;width:15px;height:8px;background:#cdfbfb;color:#082020">2</div><div class="c" style="left:243px;top:355px;width:14px;height:8px;background:#cdfbfb;color:#082020">2</div><div class="c" style="left:257px;top:355px;width:13px;height:8px;background:#c89af5;color:#180634">3</div><div class="c" style="left:270px;top:355px;width:14px;height:8px;background:#c89af5;color:#180634">3</div><div class="c" style="left:284px;top:355px;width:14px;height:8px;background:#c89af5;color:#180634">3</div><div class="c" style="left:298px;top:355px;width:12px;height:8px;background:#c89af5;color:#180634">3</div><div class="c" style="left:310px;top:355px;width:12px;height:8px;background:#c89af5;color:#180634">3</div><div class="c" style="left:322px;top:355px;width:13px;height:8px;background:#9ccf14;color:#102000">4</div><div class="c" style="left:335px;top:355px;width:13px;height:8px;background:#9ccf14;color:#102000">4</div><div class="c" style="left:348px;top:355px;width:13px;height:8px;background:#9ccf14;color:#102000">4</div><div class="c" style="left:361px;top:355px;width:12px;height:8px;background:#993366;color:#4a1030">5</div><div class="c" style="left:373px;top:355px;width:11px;height:8px;background:#993366;color:#4a1030">5</div><div class="c" style="left:384px;top:355px;width:13px;height:8px;background:#9ccf14;color:#102000">4</div><div class="c" style="left:397px;top:355px;width:13px;height:8px;background:#c89af5;color:#180634">3</div><div class="c" style="left:410px;top:355px;width:11px;height:8px;background:#c89af5;color:#180634">3</div><div class="c" style="left:421px;top:355px;width:13px;height:8px;background:#c89af5;color:#180634">3</div><div class="c" style="left:434px;top:355px;width:11px;height:8px;background:#cdfbfb;color:#082020">2</div><div class="c" style="left:445px;top:355px;width:13px;height:8px;background:#cdfbfb;color:#082020">2</div><div class="c" style="left:458px;top:355px;width:14px;height:8px;background:#cdfbfb;color:#082020">2</div><div class="c" style="left:472px;top:355px;width:13px;height:8px;background:#cdfbfb;color:#082020">2</div><div class="c" style="left:485px;top:355px;width:14px;height:8px;background:#cdfbfb;color:#082020">2</div><div class="c" style="left:499px;top:355px;width:14px;height:8px;background:#cdfbfb;color:#082020">2</div><div class="c" style="left:513px;top:355px;width:11px;height:8px;background:#cdfbfb;color:#082020">2</div><div class="c" style="left:524px;top:355px;width:11px;height:8px;background:#cdfbfb;color:#082020">2</div><div class="c" style="left:535px;top:355px;width:14px;height:8px;background:#cdfbfb;color:#082020">2</div><div class="c" style="left:549px;top:355px;width:13px;height:8px;background:#cdfbfb;color:#082020">2</div><div class="c" style="left:562px;top:355px;width:13px;height:8px;background:#cdfbfb;color:#082020">2</div><div class="c" style="left:575px;top:355px;width:12px;height:8px;background:#c89af5;color:#180634">3</div><div class="c" style="left:587px;top:355px;width:14px;height:8px;background:#c89af5;color:#180634">3</div><div class="c" style="left:601px;top:355px;width:12px;height:8px;background:#c89af5;color:#180634">3</div><div class="c" style="left:613px;top:355px;width:11px;height:8px;background:#c89af5;color:#180634">3</div><div class="c" style="left:624px;top:355px;width:12px;height:8px;background:#9ccf14;color:#102000">4</div><div class="c" style="left:90px;top:363px;width:11px;height:9px;background:#9ccf14;color:#102000">4</div><div class="c" style="left:101px;top:363px;width:11px;height:9px;background:#9ccf14;color:#102000">4</div><div class="c" style="left:112px;top:363px;width:11px;height:9px;background:#9ccf14;color:#102000">4</div><div class="c" style="left:123px;top:363px;width:11px;height:9px;background:#9ccf14;color:#102000">4</div><div class="c" style="left:134px;top:363px;width:12px;height:9px;background:#c89af5;color:#180634">3</div><div class="c" style="left:146px;top:363px;width:12px;height:9px;background:#c89af5;color:#180634">3</div><div class="c" style="left:158px;top:363px;width:13px;height:9px;background:#c89af5;color:#180634">3</div><div class="c" style="left:171px;top:363px;width:12px;height:9px;background:#c89af5;color:#180634">3</div><div class="c" style="left:183px;top:363px;width:14px;height:9px;background:#cdfbfb;color:#082020">2</div><div class="c" style="left:197px;top:363px;width:16px;height:9px;background:#cdfbfb;color:#082020">2</div><div class="c" style="left:213px;top:363px;width:15px;height:9px;background:#cdfbfb;color:#082020">2</div><div class="c" style="left:228px;top:363px;width:15px;height:9px;background:#cdfbfb;color:#082020">2</div><div class="c" style="left:243px;top:363px;width:14px;height:9px;background:#cdfbfb;color:#082020">2</div><div class="c" style="left:257px;top:363px;width:13px;height:9px;background:#c89af5;color:#180634">3</div><div class="c" style="left:270px;top:363px;width:14px;height:9px;background:#c89af5;color:#180634">3</div><div class="c" style="left:284px;top:363px;width:14px;height:9px;background:#c89af5;color:#180634">3</div><div class="c" style="left:298px;top:363px;width:12px;height:9px;background:#c89af5;color:#180634">3</div><div class="c" style="left:310px;top:363px;width:12px;height:9px;background:#9ccf14;color:#102000">4</div><div class="c" style="left:322px;top:363px;width:13px;height:9px;background:#9ccf14;color:#102000">4</div><div class="c" style="left:335px;top:363px;width:13px;height:9px;background:#9ccf14;color:#102000">4</div><div class="c" style="left:348px;top:363px;width:13px;height:9px;background:#993366;color:#4a1030">5</div><div class="c" style="left:361px;top:363px;width:12px;height:9px;background:#993366;color:#4a1030">5</div><div class="c" style="left:373px;top:363px;width:11px;height:9px;background:#993366;color:#4a1030">5</div><div class="c" style="left:384px;top:363px;width:13px;height:9px;background:#9ccf14;color:#102000">4</div><div class="c" style="left:397px;top:363px;width:13px;height:9px;background:#c89af5;color:#180634">3</div><div class="c" style="left:410px;top:363px;width:11px;height:9px;background:#c89af5;color:#180634">3</div><div class="c" style="left:421px;top:363px;width:13px;height:9px;background:#c89af5;color:#180634">3</div><div class="c" style="left:434px;top:363px;width:11px;height:9px;background:#c89af5;color:#180634">3</div><div class="c" style="left:445px;top:363px;width:13px;height:9px;background:#cdfbfb;color:#082020">2</div><div class="c" style="left:458px;top:363px;width:14px;height:9px;background:#cdfbfb;color:#082020">2</div><div class="c" style="left:472px;top:363px;width:13px;height:9px;background:#cdfbfb;color:#082020">2</div><div class="c" style="left:485px;top:363px;width:14px;height:9px;background:#cdfbfb;color:#082020">2</div><div class="c" style="left:499px;top:363px;width:14px;height:9px;background:#cdfbfb;color:#082020">2</div><div class="c" style="left:513px;top:363px;width:11px;height:9px;background:#cdfbfb;color:#082020">2</div><div class="c" style="left:524px;top:363px;width:11px;height:9px;background:#cdfbfb;color:#082020">2</div><div class="c" style="left:535px;top:363px;width:14px;height:9px;background:#cdfbfb;color:#082020">2</div><div class="c" style="left:549px;top:363px;width:13px;height:9px;background:#cdfbfb;color:#082020">2</div><div class="c" style="left:562px;top:363px;width:13px;height:9px;background:#cdfbfb;color:#082020">2</div><div class="c" style="left:575px;top:363px;width:12px;height:9px;background:#cdfbfb;color:#082020">2</div><div class="c" style="left:587px;top:363px;width:14px;height:9px;background:#c89af5;color:#180634">3</div><div class="c" style="left:601px;top:363px;width:12px;height:9px;background:#c89af5;color:#180634">3</div><div class="c" style="left:613px;top:363px;width:11px;height:9px;background:#c89af5;color:#180634">3</div><div class="c" style="left:624px;top:363px;width:12px;height:9px;background:#9ccf14;color:#102000">4</div><div class="c" style="left:90px;top:372px;width:11px;height:8px;background:#993366;color:#4a1030">5</div><div class="c" style="left:101px;top:372px;width:11px;height:8px;background:#9ccf14;color:#102000">4</div><div class="c" style="left:112px;top:372px;width:11px;height:8px;background:#9ccf14;color:#102000">4</div><div class="c" style="left:123px;top:372px;width:11px;height:8px;background:#9ccf14;color:#102000">4</div><div class="c" style="left:134px;top:372px;width:12px;height:8px;background:#9ccf14;color:#102000">4</div><div class="c" style="left:146px;top:372px;width:12px;height:8px;background:#c89af5;color:#180634">3</div><div class="c" style="left:158px;top:372px;width:13px;height:8px;background:#c89af5;color:#180634">3</div><div class="c" style="left:171px;top:372px;width:12px;height:8px;background:#c89af5;color:#180634">3</div><div class="c" style="left:183px;top:372px;width:14px;height:8px;background:#c89af5;color:#180634">3</div><div class="c" style="left:197px;top:372px;width:16px;height:8px;background:#cdfbfb;color:#082020">2</div><div class="c" style="left:213px;top:372px;width:15px;height:8px;background:#cdfbfb;color:#082020">2</div><div class="c" style="left:228px;top:372px;width:15px;height:8px;background:#cdfbfb;color:#082020">2</div><div class="c" style="left:243px;top:372px;width:14px;height:8px;background:#c89af5;color:#180634">3</div><div class="c" style="left:257px;top:372px;width:13px;height:8px;background:#c89af5;color:#180634">3</div><div class="c" style="left:270px;top:372px;width:14px;height:8px;background:#c89af5;color:#180634">3</div><div class="c" style="left:284px;top:372px;width:14px;height:8px;background:#c89af5;color:#180634">3</div><div class="c" style="left:298px;top:372px;width:12px;height:8px;background:#c89af5;color:#180634">3</div><div class="c" style="left:310px;top:372px;width:12px;height:8px;background:#9ccf14;color:#102000">4</div><div class="c" style="left:322px;top:372px;width:13px;height:8px;background:#9ccf14;color:#102000">4</div><div class="c" style="left:335px;top:372px;width:13px;height:8px;background:#9ccf14;color:#102000">4</div><div class="c" style="left:348px;top:372px;width:13px;height:8px;background:#993366;color:#4a1030">5</div><div class="c" style="left:361px;top:372px;width:12px;height:8px;background:#993366;color:#4a1030">5</div><div class="c" style="left:373px;top:372px;width:11px;height:8px;background:#993366;color:#4a1030">5</div><div class="c" style="left:384px;top:372px;width:13px;height:8px;background:#9ccf14;color:#102000">4</div><div class="c" style="left:397px;top:372px;width:13px;height:8px;background:#9ccf14;color:#102000">4</div><div class="c" style="left:410px;top:372px;width:11px;height:8px;background:#c89af5;color:#180634">3</div><div class="c" style="left:421px;top:372px;width:13px;height:8px;background:#c89af5;color:#180634">3</div><div class="c" style="left:434px;top:372px;width:11px;height:8px;background:#c89af5;color:#180634">3</div><div class="c" style="left:445px;top:372px;width:13px;height:8px;background:#c89af5;color:#180634">3</div><div class="c" style="left:458px;top:372px;width:14px;height:8px;background:#cdfbfb;color:#082020">2</div><div class="c" style="left:472px;top:372px;width:13px;height:8px;background:#cdfbfb;color:#082020">2</div><div class="c" style="left:485px;top:372px;width:14px;height:8px;background:#cdfbfb;color:#082020">2</div><div class="c" style="left:499px;top:372px;width:14px;height:8px;background:#cdfbfb;color:#082020">2</div><div class="c" style="left:513px;top:372px;width:11px;height:8px;background:#cdfbfb;color:#082020">2</div><div class="c" style="left:524px;top:372px;width:11px;height:8px;background:#cdfbfb;color:#082020">2</div><div class="c" style="left:535px;top:372px;width:14px;height:8px;background:#cdfbfb;color:#082020">2</div><div class="c" style="left:549px;top:372px;width:13px;height:8px;background:#cdfbfb;color:#082020">2</div><div class="c" style="left:562px;top:372px;width:13px;height:8px;background:#cdfbfb;color:#082020">2</div><div class="c" style="left:575px;top:372px;width:12px;height:8px;background:#cdfbfb;color:#082020">2</div><div class="c" style="left:587px;top:372px;width:14px;height:8px;background:#c89af5;color:#180634">3</div><div class="c" style="left:601px;top:372px;width:12px;height:8px;background:#c89af5;color:#180634">3</div><div class="c" style="left:613px;top:372px;width:11px;height:8px;background:#c89af5;color:#180634">3</div><div class="c" style="left:624px;top:372px;width:12px;height:8px;background:#c89af5;color:#180634">3</div><div class="c" style="left:90px;top:380px;width:11px;height:8px;background:#993366;color:#4a1030">5</div><div class="c" style="left:101px;top:380px;width:11px;height:8px;background:#993366;color:#4a1030">5</div><div class="c" style="left:112px;top:380px;width:11px;height:8px;background:#9ccf14;color:#102000">4</div><div class="c" style="left:123px;top:380px;width:11px;height:8px;background:#9ccf14;color:#102000">4</div><div class="c" style="left:134px;top:380px;width:12px;height:8px;background:#9ccf14;color:#102000">4</div><div class="c" style="left:146px;top:380px;width:12px;height:8px;background:#9ccf14;color:#102000">4</div><div class="c" style="left:158px;top:380px;width:13px;height:8px;background:#c89af5;color:#180634">3</div><div class="c" style="left:171px;top:380px;width:12px;height:8px;background:#c89af5;color:#180634">3</div><div class="c" style="left:183px;top:380px;width:14px;height:8px;background:#c89af5;color:#180634">3</div><div class="c" style="left:197px;top:380px;width:16px;height:8px;background:#c89af5;color:#180634">3</div><div class="c" style="left:213px;top:380px;width:15px;height:8px;background:#c89af5;color:#180634">3</div><div class="c" style="left:228px;top:380px;width:15px;height:8px;background:#c89af5;color:#180634">3</div><div class="c" style="left:243px;top:380px;width:14px;height:8px;background:#c89af5;color:#180634">3</div><div class="c" style="left:257px;top:380px;width:13px;height:8px;background:#c89af5;color:#180634">3</div><div class="c" style="left:270px;top:380px;width:14px;height:8px;background:#c89af5;color:#180634">3</div><div class="c" style="left:284px;top:380px;width:14px;height:8px;background:#9ccf14;color:#102000">4</div><div class="c" style="left:298px;top:380px;width:12px;height:8px;background:#9ccf14;color:#102000">4</div><div class="c" style="left:310px;top:380px;width:12px;height:8px;background:#9ccf14;color:#102000">4</div><div class="c" style="left:322px;top:380px;width:13px;height:8px;background:#9ccf14;color:#102000">4</div><div class="c" style="left:335px;top:380px;width:13px;height:8px;background:#993366;color:#4a1030">5</div><div class="c" style="left:348px;top:380px;width:13px;height:8px;background:#993366;color:#4a1030">5</div><div class="c" style="left:361px;top:380px;width:12px;height:8px;background:#993366;color:#4a1030">5</div><div class="c" style="left:373px;top:380px;width:11px;height:8px;background:#993366;color:#4a1030">5</div><div class="c" style="left:384px;top:380px;width:13px;height:8px;background:#9ccf14;color:#102000">4</div><div class="c" style="left:397px;top:380px;width:13px;height:8px;background:#9ccf14;color:#102000">4</div><div class="c" style="left:410px;top:380px;width:11px;height:8px;background:#9ccf14;color:#102000">4</div><div class="c" style="left:421px;top:380px;width:13px;height:8px;background:#c89af5;color:#180634">3</div><div class="c" style="left:434px;top:380px;width:11px;height:8px;background:#c89af5;color:#180634">3</div><div class="c" style="left:445px;top:380px;width:13px;height:8px;background:#c89af5;color:#180634">3</div><div class="c" style="left:458px;top:380px;width:14px;height:8px;background:#c89af5;color:#180634">3</div><div class="c" style="left:472px;top:380px;width:13px;height:8px;background:#c89af5;color:#180634">3</div><div class="c" style="left:485px;top:380px;width:14px;height:8px;background:#cdfbfb;color:#082020">2</div><div class="c" style="left:499px;top:380px;width:14px;height:8px;background:#cdfbfb;color:#082020">2</div><div class="c" style="left:513px;top:380px;width:11px;height:8px;background:#cdfbfb;color:#082020">2</div><div class="c" style="left:524px;top:380px;width:11px;height:8px;background:#cdfbfb;color:#082020">2</div><div class="c" style="left:535px;top:380px;width:14px;height:8px;background:#cdfbfb;color:#082020">2</div><div class="c" style="left:549px;top:380px;width:13px;height:8px;background:#cdfbfb;color:#082020">2</div><div class="c" style="left:562px;top:380px;width:13px;height:8px;background:#cdfbfb;color:#082020">2</div><div class="c" style="left:575px;top:380px;width:12px;height:8px;background:#cdfbfb;color:#082020">2</div><div class="c" style="left:587px;top:380px;width:14px;height:8px;background:#cdfbfb;color:#082020">2</div><div class="c" style="left:601px;top:380px;width:12px;height:8px;background:#cdfbfb;color:#082020">2</div><div class="c" style="left:613px;top:380px;width:11px;height:8px;background:#c89af5;color:#180634">3</div><div class="c" style="left:624px;top:380px;width:12px;height:8px;background:#c89af5;color:#180634">3</div><div class="c" style="left:90px;top:388px;width:11px;height:9px;background:#993366;color:#4a1030">5</div><div class="c" style="left:101px;top:388px;width:11px;height:9px;background:#993366;color:#4a1030">5</div><div class="c" style="left:112px;top:388px;width:11px;height:9px;background:#993366;color:#4a1030">5</div><div class="c" style="left:123px;top:388px;width:11px;height:9px;background:#993366;color:#4a1030">5</div><div class="c" style="left:134px;top:388px;width:12px;height:9px;background:#9ccf14;color:#102000">4</div><div class="c" style="left:146px;top:388px;width:12px;height:9px;background:#9ccf14;color:#102000">4</div><div class="c" style="left:158px;top:388px;width:13px;height:9px;background:#9ccf14;color:#102000">4</div><div class="c" style="left:171px;top:388px;width:12px;height:9px;background:#9ccf14;color:#102000">4</div><div class="c" style="left:183px;top:388px;width:14px;height:9px;background:#c89af5;color:#180634">3</div><div class="c" style="left:197px;top:388px;width:16px;height:9px;background:#c89af5;color:#180634">3</div><div class="c" style="left:213px;top:388px;width:15px;height:9px;background:#c89af5;color:#180634">3</div><div class="c" style="left:228px;top:388px;width:15px;height:9px;background:#c89af5;color:#180634">3</div><div class="c" style="left:243px;top:388px;width:14px;height:9px;background:#c89af5;color:#180634">3</div><div class="c" style="left:257px;top:388px;width:13px;height:9px;background:#c89af5;color:#180634">3</div><div class="c" style="left:270px;top:388px;width:14px;height:9px;background:#9ccf14;color:#102000">4</div><div class="c" style="left:284px;top:388px;width:14px;height:9px;background:#9ccf14;color:#102000">4</div><div class="c" style="left:298px;top:388px;width:12px;height:9px;background:#9ccf14;color:#102000">4</div><div class="c" style="left:310px;top:388px;width:12px;height:9px;background:#9ccf14;color:#102000">4</div><div class="c" style="left:322px;top:388px;width:13px;height:9px;background:#993366;color:#4a1030">5</div><div class="c" style="left:335px;top:388px;width:13px;height:9px;background:#993366;color:#4a1030">5</div><div class="c" style="left:348px;top:388px;width:13px;height:9px;background:#993366;color:#4a1030">5</div><div class="c" style="left:361px;top:388px;width:12px;height:9px;background:#993366;color:#4a1030">5</div><div class="c" style="left:373px;top:388px;width:11px;height:9px;background:#f68e8e;color:#500404">6</div><div class="c" style="left:384px;top:388px;width:13px;height:9px;background:#993366;color:#4a1030">5</div><div class="c" style="left:397px;top:388px;width:13px;height:9px;background:#9ccf14;color:#102000">4</div><div class="c" style="left:410px;top:388px;width:11px;height:9px;background:#9ccf14;color:#102000">4</div><div class="c" style="left:421px;top:388px;width:13px;height:9px;background:#9ccf14;color:#102000">4</div><div class="c" style="left:434px;top:388px;width:11px;height:9px;background:#c89af5;color:#180634">3</div><div class="c" style="left:445px;top:388px;width:13px;height:9px;background:#c89af5;color:#180634">3</div><div class="c" style="left:458px;top:388px;width:14px;height:9px;background:#c89af5;color:#180634">3</div><div class="c" style="left:472px;top:388px;width:13px;height:9px;background:#c89af5;color:#180634">3</div><div class="c" style="left:485px;top:388px;width:14px;height:9px;background:#c89af5;color:#180634">3</div><div class="c" style="left:499px;top:388px;width:14px;height:9px;background:#cdfbfb;color:#082020">2</div><div class="c" style="left:513px;top:388px;width:11px;height:9px;background:#cdfbfb;color:#082020">2</div><div class="c" style="left:524px;top:388px;width:11px;height:9px;background:#cdfbfb;color:#082020">2</div><div class="c" style="left:535px;top:388px;width:14px;height:9px;background:#cdfbfb;color:#082020">2</div><div class="c" style="left:549px;top:388px;width:13px;height:9px;background:#cdfbfb;color:#082020">2</div><div class="c" style="left:562px;top:388px;width:13px;height:9px;background:#cdfbfb;color:#082020">2</div><div class="c" style="left:575px;top:388px;width:12px;height:9px;background:#cdfbfb;color:#082020">2</div><div class="c" style="left:587px;top:388px;width:14px;height:9px;background:#cdfbfb;color:#082020">2</div><div class="c" style="left:601px;top:388px;width:12px;height:9px;background:#cdfbfb;color:#082020">2</div><div class="c" style="left:613px;top:388px;width:11px;height:9px;background:#cdfbfb;color:#082020">2</div><div class="c" style="left:624px;top:388px;width:12px;height:9px;background:#c89af5;color:#180634">3</div><div class="c" style="left:90px;top:397px;width:11px;height:8px;background:#993366;color:#4a1030">5</div><div class="c" style="left:101px;top:397px;width:11px;height:8px;background:#993366;color:#4a1030">5</div><div class="c" style="left:112px;top:397px;width:11px;height:8px;background:#993366;color:#4a1030">5</div><div class="c" style="left:123px;top:397px;width:11px;height:8px;background:#993366;color:#4a1030">5</div><div class="c" style="left:134px;top:397px;width:12px;height:8px;background:#993366;color:#4a1030">5</div><div class="c" style="left:146px;top:397px;width:12px;height:8px;background:#9ccf14;color:#102000">4</div><div class="c" style="left:158px;top:397px;width:13px;height:8px;background:#9ccf14;color:#102000">4</div><div class="c" style="left:171px;top:397px;width:12px;height:8px;background:#9ccf14;color:#102000">4</div><div class="c" style="left:183px;top:397px;width:14px;height:8px;background:#9ccf14;color:#102000">4</div><div class="c" style="left:197px;top:397px;width:16px;height:8px;background:#c89af5;color:#180634">3</div><div class="c" style="left:213px;top:397px;width:15px;height:8px;background:#c89af5;color:#180634">3</div><div class="c" style="left:228px;top:397px;width:15px;height:8px;background:#c89af5;color:#180634">3</div><div class="c" style="left:243px;top:397px;width:14px;height:8px;background:#9ccf14;color:#102000">4</div><div class="c" style="left:257px;top:397px;width:13px;height:8px;background:#9ccf14;color:#102000">4</div><div class="c" style="left:270px;top:397px;width:14px;height:8px;background:#9ccf14;color:#102000">4</div><div class="c" style="left:284px;top:397px;width:14px;height:8px;background:#9ccf14;color:#102000">4</div><div class="c" style="left:298px;top:397px;width:12px;height:8px;background:#9ccf14;color:#102000">4</div><div class="c" style="left:310px;top:397px;width:12px;height:8px;background:#993366;color:#4a1030">5</div><div class="c" style="left:322px;top:397px;width:13px;height:8px;background:#993366;color:#4a1030">5</div><div class="c" style="left:335px;top:397px;width:13px;height:8px;background:#993366;color:#4a1030">5</div><div class="c" style="left:348px;top:397px;width:13px;height:8px;background:#993366;color:#4a1030">5</div><div class="c" style="left:361px;top:397px;width:12px;height:8px;background:#993366;color:#4a1030">5</div><div class="c" style="left:373px;top:397px;width:11px;height:8px;background:#f68e8e;color:#500404">6</div><div class="c" style="left:384px;top:397px;width:13px;height:8px;background:#993366;color:#4a1030">5</div><div class="c" style="left:397px;top:397px;width:13px;height:8px;background:#993366;color:#4a1030">5</div><div class="c" style="left:410px;top:397px;width:11px;height:8px;background:#9ccf14;color:#102000">4</div><div class="c" style="left:421px;top:397px;width:13px;height:8px;background:#9ccf14;color:#102000">4</div><div class="c" style="left:434px;top:397px;width:11px;height:8px;background:#9ccf14;color:#102000">4</div><div class="c" style="left:445px;top:397px;width:13px;height:8px;background:#9ccf14;color:#102000">4</div><div class="c" style="left:458px;top:397px;width:14px;height:8px;background:#c89af5;color:#180634">3</div><div class="c" style="left:472px;top:397px;width:13px;height:8px;background:#c89af5;color:#180634">3</div><div class="c" style="left:485px;top:397px;width:14px;height:8px;background:#c89af5;color:#180634">3</div><div class="c" style="left:499px;top:397px;width:14px;height:8px;background:#c89af5;color:#180634">3</div><div class="c" style="left:513px;top:397px;width:11px;height:8px;background:#c89af5;color:#180634">3</div><div class="c" style="left:524px;top:397px;width:11px;height:8px;background:#cdfbfb;color:#082020">2</div><div class="c" style="left:535px;top:397px;width:14px;height:8px;background:#cdfbfb;color:#082020">2</div><div class="c" style="left:549px;top:397px;width:13px;height:8px;background:#cdfbfb;color:#082020">2</div><div class="c" style="left:562px;top:397px;width:13px;height:8px;background:#cdfbfb;color:#082020">2</div><div class="c" style="left:575px;top:397px;width:12px;height:8px;background:#cdfbfb;color:#082020">2</div><div class="c" style="left:587px;top:397px;width:14px;height:8px;background:#cdfbfb;color:#082020">2</div><div class="c" style="left:601px;top:397px;width:12px;height:8px;background:#cdfbfb;color:#082020">2</div><div class="c" style="left:613px;top:397px;width:11px;height:8px;background:#cdfbfb;color:#082020">2</div><div class="c" style="left:624px;top:397px;width:12px;height:8px;background:#cdfbfb;color:#082020">2</div><div class="c" style="left:90px;top:405px;width:11px;height:8px;background:#993366;color:#4a1030">5</div><div class="c" style="left:101px;top:405px;width:11px;height:8px;background:#993366;color:#4a1030">5</div><div class="c" style="left:112px;top:405px;width:11px;height:8px;background:#993366;color:#4a1030">5</div><div class="c" style="left:123px;top:405px;width:11px;height:8px;background:#993366;color:#4a1030">5</div><div class="c" style="left:134px;top:405px;width:12px;height:8px;background:#993366;color:#4a1030">5</div><div class="c" style="left:146px;top:405px;width:12px;height:8px;background:#993366;color:#4a1030">5</div><div class="c" style="left:158px;top:405px;width:13px;height:8px;background:#9ccf14;color:#102000">4</div><div class="c" style="left:171px;top:405px;width:12px;height:8px;background:#9ccf14;color:#102000">4</div><div class="c" style="left:183px;top:405px;width:14px;height:8px;background:#9ccf14;color:#102000">4</div><div class="c" style="left:197px;top:405px;width:16px;height:8px;background:#9ccf14;color:#102000">4</div><div class="c" style="left:213px;top:405px;width:15px;height:8px;background:#9ccf14;color:#102000">4</div><div class="c" style="left:228px;top:405px;width:15px;height:8px;background:#9ccf14;color:#102000">4</div><div class="c" style="left:243px;top:405px;width:14px;height:8px;background:#9ccf14;color:#102000">4</div><div class="c" style="left:257px;top:405px;width:13px;height:8px;background:#9ccf14;color:#102000">4</div><div class="c" style="left:270px;top:405px;width:14px;height:8px;background:#9ccf14;color:#102000">4</div><div class="c" style="left:284px;top:405px;width:14px;height:8px;background:#9ccf14;color:#102000">4</div><div class="c" style="left:298px;top:405px;width:12px;height:8px;background:#993366;color:#4a1030">5</div><div class="c" style="left:310px;top:405px;width:12px;height:8px;background:#993366;color:#4a1030">5</div><div class="c" style="left:322px;top:405px;width:13px;height:8px;background:#993366;color:#4a1030">5</div><div class="c" style="left:335px;top:405px;width:13px;height:8px;background:#993366;color:#4a1030">5</div><div class="c" style="left:348px;top:405px;width:13px;height:8px;background:#f68e8e;color:#500404">6</div><div class="c" style="left:361px;top:405px;width:12px;height:8px;background:#f68e8e;color:#500404">6</div><div class="c" style="left:373px;top:405px;width:11px;height:8px;background:#f68e8e;color:#500404">6</div><div class="c" style="left:384px;top:405px;width:13px;height:8px;background:#993366;color:#4a1030">5</div><div class="c" style="left:397px;top:405px;width:13px;height:8px;background:#993366;color:#4a1030">5</div><div class="c" style="left:410px;top:405px;width:11px;height:8px;background:#9ccf14;color:#102000">4</div><div class="c" style="left:421px;top:405px;width:13px;height:8px;background:#9ccf14;color:#102000">4</div><div class="c" style="left:434px;top:405px;width:11px;height:8px;background:#9ccf14;color:#102000">4</div><div class="c" style="left:445px;top:405px;width:13px;height:8px;background:#9ccf14;color:#102000">4</div><div class="c" style="left:458px;top:405px;width:14px;height:8px;background:#9ccf14;color:#102000">4</div><div class="c" style="left:472px;top:405px;width:13px;height:8px;background:#c89af5;color:#180634">3</div><div class="c" style="left:485px;top:405px;width:14px;height:8px;background:#c89af5;color:#180634">3</div><div class="c" style="left:499px;top:405px;width:14px;height:8px;background:#c89af5;color:#180634">3</div><div class="c" style="left:513px;top:405px;width:11px;height:8px;background:#c89af5;color:#180634">3</div><div class="c" style="left:524px;top:405px;width:11px;height:8px;background:#c89af5;color:#180634">3</div><div class="c" style="left:535px;top:405px;width:14px;height:8px;background:#c89af5;color:#180634">3</div><div class="c" style="left:549px;top:405px;width:13px;height:8px;background:#cdfbfb;color:#082020">2</div><div class="c" style="left:562px;top:405px;width:13px;height:8px;background:#cdfbfb;color:#082020">2</div><div class="c" style="left:575px;top:405px;width:12px;height:8px;background:#cdfbfb;color:#082020">2</div><div class="c" style="left:587px;top:405px;width:14px;height:8px;background:#cdfbfb;color:#082020">2</div><div class="c" style="left:601px;top:405px;width:12px;height:8px;background:#cdfbfb;color:#082020">2</div><div class="c" style="left:613px;top:405px;width:11px;height:8px;background:#cdfbfb;color:#082020">2</div><div class="c" style="left:624px;top:405px;width:12px;height:8px;background:#cdfbfb;color:#082020">2</div><div class="c" style="left:90px;top:413px;width:11px;height:9px;background:#f68e8e;color:#500404">6</div><div class="c" style="left:101px;top:413px;width:11px;height:9px;background:#993366;color:#4a1030">5</div><div class="c" style="left:112px;top:413px;width:11px;height:9px;background:#993366;color:#4a1030">5</div><div class="c" style="left:123px;top:413px;width:11px;height:9px;background:#993366;color:#4a1030">5</div><div class="c" style="left:134px;top:413px;width:12px;height:9px;background:#993366;color:#4a1030">5</div><div class="c" style="left:146px;top:413px;width:12px;height:9px;background:#993366;color:#4a1030">5</div><div class="c" style="left:158px;top:413px;width:13px;height:9px;background:#993366;color:#4a1030">5</div><div class="c" style="left:171px;top:413px;width:12px;height:9px;background:#9ccf14;color:#102000">4</div><div class="c" style="left:183px;top:413px;width:14px;height:9px;background:#9ccf14;color:#102000">4</div><div class="c" style="left:197px;top:413px;width:16px;height:9px;background:#9ccf14;color:#102000">4</div><div class="c" style="left:213px;top:413px;width:15px;height:9px;background:#9ccf14;color:#102000">4</div><div class="c" style="left:228px;top:413px;width:15px;height:9px;background:#9ccf14;color:#102000">4</div><div class="c" style="left:243px;top:413px;width:14px;height:9px;background:#9ccf14;color:#102000">4</div><div class="c" style="left:257px;top:413px;width:13px;height:9px;background:#9ccf14;color:#102000">4</div><div class="c" style="left:270px;top:413px;width:14px;height:9px;background:#993366;color:#4a1030">5</div><div class="c" style="left:284px;top:413px;width:14px;height:9px;background:#993366;color:#4a1030">5</div><div class="c" style="left:298px;top:413px;width:12px;height:9px;background:#993366;color:#4a1030">5</div><div class="c" style="left:310px;top:413px;width:12px;height:9px;background:#993366;color:#4a1030">5</div><div class="c" style="left:322px;top:413px;width:13px;height:9px;background:#993366;color:#4a1030">5</div><div class="c" style="left:335px;top:413px;width:13px;height:9px;background:#993366;color:#4a1030">5</div><div class="c" style="left:348px;top:413px;width:13px;height:9px;background:#f68e8e;color:#500404">6</div><div class="c" style="left:361px;top:413px;width:12px;height:9px;background:#f68e8e;color:#500404">6</div><div class="c" style="left:373px;top:413px;width:11px;height:9px;background:#f68e8e;color:#500404">6</div><div class="c" style="left:384px;top:413px;width:13px;height:9px;background:#993366;color:#4a1030">5</div><div class="c" style="left:397px;top:413px;width:13px;height:9px;background:#993366;color:#4a1030">5</div><div class="c" style="left:410px;top:413px;width:11px;height:9px;background:#993366;color:#4a1030">5</div><div class="c" style="left:421px;top:413px;width:13px;height:9px;background:#993366;color:#4a1030">5</div><div class="c" style="left:434px;top:413px;width:11px;height:9px;background:#9ccf14;color:#102000">4</div><div class="c" style="left:445px;top:413px;width:13px;height:9px;background:#9ccf14;color:#102000">4</div><div class="c" style="left:458px;top:413px;width:14px;height:9px;background:#9ccf14;color:#102000">4</div><div class="c" style="left:472px;top:413px;width:13px;height:9px;background:#9ccf14;color:#102000">4</div><div class="c" style="left:485px;top:413px;width:14px;height:9px;background:#9ccf14;color:#102000">4</div><div class="c" style="left:499px;top:413px;width:14px;height:9px;background:#c89af5;color:#180634">3</div><div class="c" style="left:513px;top:413px;width:11px;height:9px;background:#c89af5;color:#180634">3</div><div class="c" style="left:524px;top:413px;width:11px;height:9px;background:#c89af5;color:#180634">3</div><div class="c" style="left:535px;top:413px;width:14px;height:9px;background:#c89af5;color:#180634">3</div><div class="c" style="left:549px;top:413px;width:13px;height:9px;background:#cdfbfb;color:#082020">2</div><div class="c" style="left:562px;top:413px;width:13px;height:9px;background:#cdfbfb;color:#082020">2</div><div class="c" style="left:575px;top:413px;width:12px;height:9px;background:#cdfbfb;color:#082020">2</div><div class="c" style="left:587px;top:413px;width:14px;height:9px;background:#cdfbfb;color:#082020">2</div><div class="c" style="left:601px;top:413px;width:12px;height:9px;background:#cdfbfb;color:#082020">2</div><div class="c" style="left:613px;top:413px;width:11px;height:9px;background:#cdfbfb;color:#082020">2</div><div class="c" style="left:624px;top:413px;width:12px;height:9px;background:#cdfbfb;color:#082020">2</div><div class="c" style="left:90px;top:422px;width:11px;height:8px;background:#f68e8e;color:#500404">6</div><div class="c" style="left:101px;top:422px;width:11px;height:8px;background:#f68e8e;color:#500404">6</div><div class="c" style="left:112px;top:422px;width:11px;height:8px;background:#993366;color:#4a1030">5</div><div class="c" style="left:123px;top:422px;width:11px;height:8px;background:#993366;color:#4a1030">5</div><div class="c" style="left:134px;top:422px;width:12px;height:8px;background:#993366;color:#4a1030">5</div><div class="c" style="left:146px;top:422px;width:12px;height:8px;background:#993366;color:#4a1030">5</div><div class="c" style="left:158px;top:422px;width:13px;height:8px;background:#993366;color:#4a1030">5</div><div class="c" style="left:171px;top:422px;width:12px;height:8px;background:#993366;color:#4a1030">5</div><div class="c" style="left:183px;top:422px;width:14px;height:8px;background:#9ccf14;color:#102000">4</div><div class="c" style="left:197px;top:422px;width:16px;height:8px;background:#9ccf14;color:#102000">4</div><div class="c" style="left:213px;top:422px;width:15px;height:8px;background:#9ccf14;color:#102000">4</div><div class="c" style="left:228px;top:422px;width:15px;height:8px;background:#9ccf14;color:#102000">4</div><div class="c" style="left:243px;top:422px;width:14px;height:8px;background:#9ccf14;color:#102000">4</div><div class="c" style="left:257px;top:422px;width:13px;height:8px;background:#993366;color:#4a1030">5</div><div class="c" style="left:270px;top:422px;width:14px;height:8px;background:#993366;color:#4a1030">5</div><div class="c" style="left:284px;top:422px;width:14px;height:8px;background:#993366;color:#4a1030">5</div><div class="c" style="left:298px;top:422px;width:12px;height:8px;background:#993366;color:#4a1030">5</div><div class="c" style="left:310px;top:422px;width:12px;height:8px;background:#993366;color:#4a1030">5</div><div class="c" style="left:322px;top:422px;width:13px;height:8px;background:#993366;color:#4a1030">5</div><div class="c" style="left:335px;top:422px;width:13px;height:8px;background:#f68e8e;color:#500404">6</div><div class="c" style="left:348px;top:422px;width:13px;height:8px;background:#f68e8e;color:#500404">6</div><div class="c" style="left:361px;top:422px;width:12px;height:8px;background:#f68e8e;color:#500404">6</div><div class="c" style="left:373px;top:422px;width:11px;height:8px;background:#f68e8e;color:#500404">6</div><div class="c" style="left:384px;top:422px;width:13px;height:8px;background:#993366;color:#4a1030">5</div><div class="c" style="left:397px;top:422px;width:13px;height:8px;background:#993366;color:#4a1030">5</div><div class="c" style="left:410px;top:422px;width:11px;height:8px;background:#993366;color:#4a1030">5</div><div class="c" style="left:421px;top:422px;width:13px;height:8px;background:#993366;color:#4a1030">5</div><div class="c" style="left:434px;top:422px;width:11px;height:8px;background:#993366;color:#4a1030">5</div><div class="c" style="left:445px;top:422px;width:13px;height:8px;background:#9ccf14;color:#102000">4</div><div class="c" style="left:458px;top:422px;width:14px;height:8px;background:#9ccf14;color:#102000">4</div><div class="c" style="left:472px;top:422px;width:13px;height:8px;background:#9ccf14;color:#102000">4</div><div class="c" style="left:485px;top:422px;width:14px;height:8px;background:#9ccf14;color:#102000">4</div><div class="c" style="left:499px;top:422px;width:14px;height:8px;background:#9ccf14;color:#102000">4</div><div class="c" style="left:513px;top:422px;width:11px;height:8px;background:#c89af5;color:#180634">3</div><div class="c" style="left:524px;top:422px;width:11px;height:8px;background:#c89af5;color:#180634">3</div><div class="c" style="left:535px;top:422px;width:14px;height:8px;background:#c89af5;color:#180634">3</div><div class="c" style="left:549px;top:422px;width:13px;height:8px;background:#c89af5;color:#180634">3</div><div class="c" style="left:562px;top:422px;width:13px;height:8px;background:#cdfbfb;color:#082020">2</div><div class="c" style="left:575px;top:422px;width:12px;height:8px;background:#cdfbfb;color:#082020">2</div><div class="c" style="left:587px;top:422px;width:14px;height:8px;background:#cdfbfb;color:#082020">2</div><div class="c" style="left:601px;top:422px;width:12px;height:8px;background:#cdfbfb;color:#082020">2</div><div class="c" style="left:613px;top:422px;width:11px;height:8px;background:#cdfbfb;color:#082020">2</div><div class="c" style="left:624px;top:422px;width:12px;height:8px;background:#cdfbfb;color:#082020">2</div><div class="c" style="left:90px;top:430px;width:11px;height:9px;background:#f68e8e;color:#500404">6</div><div class="c" style="left:101px;top:430px;width:11px;height:9px;background:#f68e8e;color:#500404">6</div><div class="c" style="left:112px;top:430px;width:11px;height:9px;background:#f68e8e;color:#500404">6</div><div class="c" style="left:123px;top:430px;width:11px;height:9px;background:#993366;color:#4a1030">5</div><div class="c" style="left:134px;top:430px;width:12px;height:9px;background:#993366;color:#4a1030">5</div><div class="c" style="left:146px;top:430px;width:12px;height:9px;background:#993366;color:#4a1030">5</div><div class="c" style="left:158px;top:430px;width:13px;height:9px;background:#993366;color:#4a1030">5</div><div class="c" style="left:171px;top:430px;width:12px;height:9px;background:#993366;color:#4a1030">5</div><div class="c" style="left:183px;top:430px;width:14px;height:9px;background:#993366;color:#4a1030">5</div><div class="c" style="left:197px;top:430px;width:16px;height:9px;background:#993366;color:#4a1030">5</div><div class="c" style="left:213px;top:430px;width:15px;height:9px;background:#9ccf14;color:#102000">4</div><div class="c" style="left:228px;top:430px;width:15px;height:9px;background:#993366;color:#4a1030">5</div><div class="c" style="left:243px;top:430px;width:14px;height:9px;background:#993366;color:#4a1030">5</div><div class="c" style="left:257px;top:430px;width:13px;height:9px;background:#993366;color:#4a1030">5</div><div class="c" style="left:270px;top:430px;width:14px;height:9px;background:#993366;color:#4a1030">5</div><div class="c" style="left:284px;top:430px;width:14px;height:9px;background:#993366;color:#4a1030">5</div><div class="c" style="left:298px;top:430px;width:12px;height:9px;background:#993366;color:#4a1030">5</div><div class="c" style="left:310px;top:430px;width:12px;height:9px;background:#993366;color:#4a1030">5</div><div class="c" style="left:322px;top:430px;width:13px;height:9px;background:#f68e8e;color:#500404">6</div><div class="c" style="left:335px;top:430px;width:13px;height:9px;background:#f68e8e;color:#500404">6</div><div class="c" style="left:348px;top:430px;width:13px;height:9px;background:#f68e8e;color:#500404">6</div><div class="c" style="left:361px;top:430px;width:12px;height:9px;background:#f68e8e;color:#500404">6</div><div class="c" style="left:373px;top:430px;width:11px;height:9px;background:#33c4e0;color:#001850">7</div><div class="c" style="left:384px;top:430px;width:13px;height:9px;background:#f68e8e;color:#500404">6</div><div class="c" style="left:397px;top:430px;width:13px;height:9px;background:#993366;color:#4a1030">5</div><div class="c" style="left:410px;top:430px;width:11px;height:9px;background:#993366;color:#4a1030">5</div><div class="c" style="left:421px;top:430px;width:13px;height:9px;background:#993366;color:#4a1030">5</div><div class="c" style="left:434px;top:430px;width:11px;height:9px;background:#993366;color:#4a1030">5</div><div class="c" style="left:445px;top:430px;width:13px;height:9px;background:#993366;color:#4a1030">5</div><div class="c" style="left:458px;top:430px;width:14px;height:9px;background:#9ccf14;color:#102000">4</div><div class="c" style="left:472px;top:430px;width:13px;height:9px;background:#9ccf14;color:#102000">4</div><div class="c" style="left:485px;top:430px;width:14px;height:9px;background:#9ccf14;color:#102000">4</div><div class="c" style="left:499px;top:430px;width:14px;height:9px;background:#9ccf14;color:#102000">4</div><div class="c" style="left:513px;top:430px;width:11px;height:9px;background:#9ccf14;color:#102000">4</div><div class="c" style="left:524px;top:430px;width:11px;height:9px;background:#9ccf14;color:#102000">4</div><div class="c" style="left:535px;top:430px;width:14px;height:9px;background:#c89af5;color:#180634">3</div><div class="c" style="left:549px;top:430px;width:13px;height:9px;background:#c89af5;color:#180634">3</div><div class="c" style="left:562px;top:430px;width:13px;height:9px;background:#c89af5;color:#180634">3</div><div class="c" style="left:575px;top:430px;width:12px;height:9px;background:#cdfbfb;color:#082020">2</div><div class="c" style="left:587px;top:430px;width:14px;height:9px;background:#cdfbfb;color:#082020">2</div><div class="c" style="left:601px;top:430px;width:12px;height:9px;background:#cdfbfb;color:#082020">2</div><div class="c" style="left:613px;top:430px;width:11px;height:9px;background:#cdfbfb;color:#082020">2</div><div class="c" style="left:624px;top:430px;width:12px;height:9px;background:#cdfbfb;color:#082020">2</div><div class="n" style="left:90.25px;top:1.5px;width:294.0px;font-size:6.8px;line-height:8px;font-weight:bold;color:#111;font-family:'Liberation Serif','Noto Serif CJK SC',serif;">2号线</div><div class="n" style="left:384.25px;top:1.5px;width:251.95px;font-size:6.8px;line-height:8px;font-weight:bold;color:#111;font-family:'Liberation Serif','Noto Serif CJK SC',serif;">1号线</div><div class="n" style="left:90.25px;top:9.9px;width:10.85px;height:9px;line-height:9px;font-size:6.8px;color:#111;font-weight:bold;">1</div><div class="n" style="left:101.1px;top:9.9px;width:11.5px;height:9px;line-height:9px;font-size:6.8px;color:#111;font-weight:bold;">2</div><div class="n" style="left:112.6px;top:9.9px;width:11.0px;height:9px;line-height:9px;font-size:6.8px;color:#111;font-weight:bold;">3</div><div class="n" style="left:123.6px;top:9.9px;width:11.3px;height:9px;line-height:9px;font-size:6.8px;color:#111;font-weight:bold;">4</div><div class="n" style="left:134.9px;top:9.9px;width:11.2px;height:9px;line-height:9px;font-size:6.8px;color:#111;font-weight:bold;">5</div><div class="n" style="left:146.1px;top:9.9px;width:12.4px;height:9px;line-height:9px;font-size:6.8px;color:#111;font-weight:bold;">6</div><div class="n" style="left:158.5px;top:9.9px;width:12.75px;height:9px;line-height:9px;font-size:6.8px;color:#111;font-weight:bold;">7</div><div class="n" style="left:171.25px;top:9.9px;width:12.5px;height:9px;line-height:9px;font-size:6.8px;color:#111;font-weight:bold;">8</div><div class="n" style="left:183.75px;top:9.9px;width:13.75px;height:9px;line-height:9px;font-size:6.8px;color:#111;font-weight:bold;">9</div><div class="n" style="left:197.5px;top:9.9px;width:15.6px;height:9px;line-height:9px;font-size:6.8px;color:#111;font-weight:bold;">10</div><div class="n" style="left:213.1px;top:9.9px;width:15.65px;height:9px;line-height:9px;font-size:6.8px;color:#111;font-weight:bold;">11</div><div class="n" style="left:228.75px;top:9.9px;width:15.0px;height:9px;line-height:9px;font-size:6.8px;color:#111;font-weight:bold;">12</div><div class="n" style="left:243.75px;top:9.9px;width:13.75px;height:9px;line-height:9px;font-size:6.8px;color:#111;font-weight:bold;">13</div><div class="n" style="left:257.5px;top:9.9px;width:13.4px;height:9px;line-height:9px;font-size:6.8px;color:#111;font-weight:bold;">14</div><div class="n" style="left:270.9px;top:9.9px;width:13.7px;height:9px;line-height:9px;font-size:6.8px;color:#111;font-weight:bold;">15</div><div class="n" style="left:284.6px;top:9.9px;width:14.3px;height:9px;line-height:9px;font-size:6.8px;color:#111;font-weight:bold;">16</div><div class="n" style="left:298.9px;top:9.9px;width:11.85px;height:9px;line-height:9px;font-size:6.8px;color:#111;font-weight:bold;">17</div><div class="n" style="left:310.75px;top:9.9px;width:12.15px;height:9px;line-height:9px;font-size:6.8px;color:#111;font-weight:bold;">18</div><div class="n" style="left:322.9px;top:9.9px;width:12.85px;height:9px;line-height:9px;font-size:6.8px;color:#111;font-weight:bold;">19</div><div class="n" style="left:335.75px;top:9.9px;width:12.75px;height:9px;line-height:9px;font-size:6.8px;color:#111;font-weight:bold;">20</div><div class="n" style="left:348.5px;top:9.9px;width:13.1px;height:9px;line-height:9px;font-size:6.8px;color:#111;font-weight:bold;">21</div><div class="n" style="left:361.6px;top:9.9px;width:11.8px;height:9px;line-height:9px;font-size:6.8px;color:#111;font-weight:bold;">22</div><div class="n" style="left:373.4px;top:9.9px;width:10.85px;height:9px;line-height:9px;font-size:6.8px;color:#111;font-weight:bold;">23</div><div class="n" style="left:384.25px;top:9.9px;width:13.15px;height:9px;line-height:9px;font-size:6.8px;color:#111;font-weight:bold;">1</div><div class="n" style="left:397.4px;top:9.9px;width:12.85px;height:9px;line-height:9px;font-size:6.8px;color:#111;font-weight:bold;">2</div><div class="n" style="left:410.25px;top:9.9px;width:11.5px;height:9px;line-height:9px;font-size:6.8px;color:#111;font-weight:bold;">3</div><div class="n" style="left:421.75px;top:9.9px;width:12.5px;height:9px;line-height:9px;font-size:6.8px;color:#111;font-weight:bold;">4</div><div class="n" style="left:434.25px;top:9.9px;width:11.15px;height:9px;line-height:9px;font-size:6.8px;color:#111;font-weight:bold;">5</div><div class="n" style="left:445.4px;top:9.9px;width:13.1px;height:9px;line-height:9px;font-size:6.8px;color:#111;font-weight:bold;">6</div><div class="n" style="left:458.5px;top:9.9px;width:13.75px;height:9px;line-height:9px;font-size:6.8px;color:#111;font-weight:bold;">7</div><div class="n" style="left:472.25px;top:9.9px;width:13.0px;height:9px;line-height:9px;font-size:6.8px;color:#111;font-weight:bold;">8</div><div class="n" style="left:485.25px;top:9.9px;width:14.15px;height:9px;line-height:9px;font-size:6.8px;color:#111;font-weight:bold;">9</div><div class="n" style="left:499.4px;top:9.9px;width:13.6px;height:9px;line-height:9px;font-size:6.8px;color:#111;font-weight:bold;">10</div><div class="n" style="left:513.0px;top:9.9px;width:11.75px;height:9px;line-height:9px;font-size:6.8px;color:#111;font-weight:bold;">11</div><div class="n" style="left:524.75px;top:9.9px;width:10.85px;height:9px;line-height:9px;font-size:6.8px;color:#111;font-weight:bold;">12</div><div class="n" style="left:535.6px;top:9.9px;width:14.15px;height:9px;line-height:9px;font-size:6.8px;color:#111;font-weight:bold;">13</div><div class="n" style="left:549.75px;top:9.9px;width:12.75px;height:9px;line-height:9px;font-size:6.8px;color:#111;font-weight:bold;">14</div><div class="n" style="left:562.5px;top:9.9px;width:13.1px;height:9px;line-height:9px;font-size:6.8px;color:#111;font-weight:bold;">15</div><div class="n" style="left:575.6px;top:9.9px;width:11.8px;height:9px;line-height:9px;font-size:6.8px;color:#111;font-weight:bold;">16</div><div class="n" style="left:587.4px;top:9.9px;width:14.2px;height:9px;line-height:9px;font-size:6.8px;color:#111;font-weight:bold;">17</div><div class="n" style="left:601.6px;top:9.9px;width:11.7px;height:9px;line-height:9px;font-size:6.8px;color:#111;font-weight:bold;">18</div><div class="n" style="left:613.3px;top:9.9px;width:11.4px;height:9px;line-height:9px;font-size:6.8px;color:#111;font-weight:bold;">19</div><div class="n" style="left:624.7px;top:9.9px;width:11.5px;height:9px;line-height:9px;font-size:6.8px;color:#111;font-weight:bold;">20</div><div class="t" style="left:90.25px;top:19.3px;width:10.85px;height:60.9px;"><span>梅</span><span>溪</span><span>湖</span><span>西</span><span>站</span></div><div class="t" style="left:101.1px;top:19.3px;width:11.5px;height:60.9px;"><span>麓</span><span>云</span><span>路</span><span>站</span></div><div class="t" style="left:112.6px;top:19.3px;width:11.0px;height:60.9px;"><span>文</span><span>化</span><span>艺</span><span>术</span><span>中</span><span>心</span><span>站</span></div><div class="t" style="left:123.6px;top:19.3px;width:11.3px;height:60.9px;"><span>梅</span><span>溪</span><span>湖</span><span>东</span><span>站</span></div><div class="t" style="left:134.9px;top:19.3px;width:11.2px;height:60.9px;"><span>望</span><span>城</span><span>坡</span><span>站</span></div><div class="t" style="left:146.1px;top:19.3px;width:12.4px;height:60.9px;"><span>金</span><span>星</span><span>路</span><span>站</span></div><div class="t" style="left:158.5px;top:19.3px;width:12.75px;height:60.9px;"><span>西</span><span>湖</span><span>公</span><span>园</span><span>站</span></div><div class="t" style="left:171.25px;top:19.3px;width:12.5px;height:60.9px;"><span>溁</span><span>湾</span><span>镇</span><span>站</span></div><div class="t" style="left:183.75px;top:19.3px;width:13.75px;height:60.9px;"><span>橘</span><span>子</span><span>洲</span><span>站</span></div><div class="t" style="left:197.5px;top:19.3px;width:15.6px;height:60.9px;"><span>湘</span><span>江</span><span>中</span><span>路</span><span>站</span></div><div class="t" style="left:213.1px;top:19.3px;width:15.65px;height:60.9px;"><span>五</span><span>一</span><span>广</span><span>场</span><span>站</span><span>2#</span></div><div class="t" style="left:228.75px;top:19.3px;width:15.0px;height:60.9px;"><span>芙</span><span>蓉</span><span>广</span><span>场</span><span>站</span></div><div class="t" style="left:243.75px;top:19.3px;width:13.75px;height:60.9px;"><span>迎</span><span>宾</span><span>路</span><span>口</span><span>站</span></div><div class="t" style="left:257.5px;top:19.3px;width:13.4px;height:60.9px;"><span>袁</span><span>家</span><span>岭</span><span>站</span></div><div class="t" style="left:270.9px;top:19.3px;width:13.7px;height:60.9px;"><span>长</span><span>沙</span><span>火</span><span>车</span><span>站</span></div><div class="t" style="left:284.6px;top:19.3px;width:14.3px;height:60.9px;"><span>锦</span><span>泰</span><span>广</span><span>场</span><span>站</span></div><div class="t" style="left:298.9px;top:19.3px;width:11.85px;height:60.9px;"><span>万</span><span>家</span><span>丽</span><span>广</span><span>场</span><span>站</span></div><div class="t" style="left:310.75px;top:19.3px;width:12.15px;height:60.9px;"><span>人</span><span>民</span><span>东</span><span>路</span><span>站</span></div><div class="t" style="left:322.9px;top:19.3px;width:12.85px;height:60.9px;"><span>长</span><span>沙</span><span>大</span><span>道</span><span>站</span></div><div class="t" style="left:335.75px;top:19.3px;width:12.75px;height:60.9px;"><span>沙</span><span>湾</span><span>公</span><span>园</span><span>站</span></div><div class="t" style="left:348.5px;top:19.3px;width:13.1px;height:60.9px;"><span>杜</span><span>花</span><span>路</span><span>站</span></div><div class="t" style="left:361.6px;top:19.3px;width:11.8px;height:60.9px;"><span>长</span><span>沙</span><span>火</span><span>车</span><span>南</span><span>站</span></div><div class="t" style="left:373.4px;top:19.3px;width:10.85px;height:60.9px;"><span>光</span><span>达</span><span>站</span></div><div class="t" style="left:384.25px;top:19.3px;width:13.15px;height:60.9px;"><span>开</span><span>福</span><span>区</span><span>政</span><span>府</span><span>站</span></div><div class="t" style="left:397.4px;top:19.3px;width:12.85px;height:60.9px;"><span>马</span><span>厂</span><span>站</span></div><div class="t" style="left:410.25px;top:19.3px;width:11.5px;height:60.9px;"><span>北</span><span>辰</span><span>三</span><span>角</span><span>洲</span><span>站</span></div><div class="t" style="left:421.75px;top:19.3px;width:12.5px;height:60.9px;"><span>开</span><span>福</span><span>寺</span><span>站</span></div><div class="t" style="left:434.25px;top:19.3px;width:11.15px;height:60.9px;"><span>文</span><span>昌</span><span>阁</span><span>站</span></div><div class="t" style="left:445.4px;top:19.3px;width:13.1px;height:60.9px;"><span>培</span><span>元</span><span>桥</span><span>站</span></div><div class="t" style="left:458.5px;top:19.3px;width:13.75px;height:60.9px;"><span>五</span><span>一</span><span>广</span><span>场</span><span>站</span><span>1#</span></div><div class="t" style="left:472.25px;top:19.3px;width:13.0px;height:60.9px;"><span>黄</span><span>兴</span><span>广</span><span>场</span><span>站</span></div><div class="t" style="left:485.25px;top:19.3px;width:14.15px;height:60.9px;"><span>南</span><span>门</span><span>口</span><span>站</span></div><div class="t" style="left:499.4px;top:19.3px;width:13.6px;height:60.9px;"><span>侯</span><span>家</span><span>塘</span><span>站</span></div><div class="t" style="left:513.0px;top:19.3px;width:11.75px;height:60.9px;"><span>南</span><span>湖</span><span>路</span><span>站</span></div><div class="t" style="left:524.75px;top:19.3px;width:10.85px;height:60.9px;"><span>黄</span><span>土</span><span>岭</span><span>站</span></div><div class="t" style="left:535.6px;top:19.3px;width:14.15px;height:60.9px;"><span>涂</span><span>家</span><span>冲</span><span>站</span></div><div class="t" style="left:549.75px;top:19.3px;width:12.75px;height:60.9px;"><span>铁</span><span>道</span><span>学</span><span>院</span><span>站</span></div><div class="t" style="left:562.5px;top:19.3px;width:13.1px;height:60.9px;"><span>友</span><span>谊</span><span>路</span><span>站</span></div><div class="t" style="left:575.6px;top:19.3px;width:11.8px;height:60.9px;"><span>省</span><span>政</span><span>府</span><span>站</span></div><div class="t" style="left:587.4px;top:19.3px;width:14.2px;height:60.9px;"><span>桂</span><span>花</span><span>坪</span><span>站</span></div><div class="t" style="left:601.6px;top:19.3px;width:11.7px;height:60.9px;"><span>大</span><span>托</span><span>站</span></div><div class="t" style="left:613.3px;top:19.3px;width:11.4px;height:60.9px;"><span>中</span><span>信</span><span>广</span><span>场</span><span>站</span></div><div class="t" style="left:624.7px;top:19.3px;width:11.5px;height:60.9px;"><span>尚</span><span>双</span><span>塘</span><span>站</span></div><div class="n" style="left:28.4px;top:80.9px;width:14.3px;height:8.36px;line-height:8.36px;font-size:7.2px;color:#222;-webkit-text-stroke:0.12px #222;">1</div><div class="s" style="left:42.7px;top:80.9px;width:47.5px;height:8.36px;line-height:8.36px;">梅溪湖西站</div><div class="n" style="left:28.4px;top:89.26px;width:14.3px;height:8.36px;line-height:8.36px;font-size:7.2px;color:#222;-webkit-text-stroke:0.12px #222;">2</div><div class="s" style="left:42.7px;top:89.26px;width:47.5px;height:8.36px;line-height:8.36px;">麓云路站</div><div class="n" style="left:28.4px;top:97.61px;width:14.3px;height:8.36px;line-height:8.36px;font-size:7.2px;color:#222;-webkit-text-stroke:0.12px #222;">3</div><div class="s" style="left:42.7px;top:97.61px;width:47.5px;height:8.36px;line-height:8.36px;">文化艺术中心站</div><div class="n" style="left:28.4px;top:105.97px;width:14.3px;height:8.36px;line-height:8.36px;font-size:7.2px;color:#222;-webkit-text-stroke:0.12px #222;">4</div><div class="s" style="left:42.7px;top:105.97px;width:47.5px;height:8.36px;line-height:8.36px;">梅溪湖东站</div><div class="n" style="left:28.4px;top:114.32px;width:14.3px;height:8.36px;line-height:8.36px;font-size:7.2px;color:#222;-webkit-text-stroke:0.12px #222;">5</div><div class="s" style="left:42.7px;top:114.32px;width:47.5px;height:8.36px;line-height:8.36px;">望城坡站</div><div class="n" style="left:28.4px;top:122.68px;width:14.3px;height:8.36px;line-height:8.36px;font-size:7.2px;color:#222;-webkit-text-stroke:0.12px #222;">6</div><div class="s" style="left:42.7px;top:122.68px;width:47.5px;height:8.36px;line-height:8.36px;">金星路站</div><div class="n" style="left:28.4px;top:131.03px;width:14.3px;height:8.36px;line-height:8.36px;font-size:7.2px;color:#222;-webkit-text-stroke:0.12px #222;">7</div><div class="s" style="left:42.7px;top:131.03px;width:47.5px;height:8.36px;line-height:8.36px;">西湖公园站</div><div class="n" style="left:28.4px;top:139.39px;width:14.3px;height:8.36px;line-height:8.36px;font-size:7.2px;color:#222;-webkit-text-stroke:0.12px #222;">8</div><div class="s" style="left:42.7px;top:139.39px;width:47.5px;height:8.36px;line-height:8.36px;">溁湾镇站</div><div class="n" style="left:28.4px;top:147.75px;width:14.3px;height:8.36px;line-height:8.36px;font-size:7.2px;color:#222;-webkit-text-stroke:0.12px #222;">9</div><div class="s" style="left:42.7px;top:147.75px;width:47.5px;height:8.36px;line-height:8.36px;">橘子洲站</div><div class="n" style="left:28.4px;top:156.1px;width:14.3px;height:8.36px;line-height:8.36px;font-size:7.2px;color:#222;-webkit-text-stroke:0.12px #222;">10</div><div class="s" style="left:42.7px;top:156.1px;width:47.5px;height:8.36px;line-height:8.36px;">湘江中路站</div><div class="n" style="left:28.4px;top:164.46px;width:14.3px;height:8.36px;line-height:8.36px;font-size:7.2px;color:#222;-webkit-text-stroke:0.12px #222;">11</div><div class="s" style="left:42.7px;top:164.46px;width:47.5px;height:8.36px;line-height:8.36px;">五一广场站2#</div><div class="n" style="left:28.4px;top:172.81px;width:14.3px;height:8.36px;line-height:8.36px;font-size:7.2px;color:#222;-webkit-text-stroke:0.12px #222;">12</div><div class="s" style="left:42.7px;top:172.81px;width:47.5px;height:8.36px;line-height:8.36px;">芙蓉广场站</div><div class="n" style="left:28.4px;top:181.17px;width:14.3px;height:8.36px;line-height:8.36px;font-size:7.2px;color:#222;-webkit-text-stroke:0.12px #222;">13</div><div class="s" style="left:42.7px;top:181.17px;width:47.5px;height:8.36px;line-height:8.36px;">迎宾路口站</div><div class="n" style="left:28.4px;top:189.53px;width:14.3px;height:8.36px;line-height:8.36px;font-size:7.2px;color:#222;-webkit-text-stroke:0.12px #222;">14</div><div class="s" style="left:42.7px;top:189.53px;width:47.5px;height:8.36px;line-height:8.36px;">袁家岭站</div><div class="n" style="left:28.4px;top:197.88px;width:14.3px;height:8.36px;line-height:8.36px;font-size:7.2px;color:#222;-webkit-text-stroke:0.12px #222;">15</div><div class="s" style="left:42.7px;top:197.88px;width:47.5px;height:8.36px;line-height:8.36px;">长沙火车站</div><div class="n" style="left:28.4px;top:206.24px;width:14.3px;height:8.36px;line-height:8.36px;font-size:7.2px;color:#222;-webkit-text-stroke:0.12px #222;">16</div><div class="s" style="left:42.7px;top:206.24px;width:47.5px;height:8.36px;line-height:8.36px;">锦泰广场站</div><div class="n" style="left:28.4px;top:214.59px;width:14.3px;height:8.36px;line-height:8.36px;font-size:7.2px;color:#222;-webkit-text-stroke:0.12px #222;">17</div><div class="s" style="left:42.7px;top:214.59px;width:47.5px;height:8.36px;line-height:8.36px;">万家丽广场站</div><div class="n" style="left:28.4px;top:222.95px;width:14.3px;height:8.36px;line-height:8.36px;font-size:7.2px;color:#222;-webkit-text-stroke:0.12px #222;">18</div><div class="s" style="left:42.7px;top:222.95px;width:47.5px;height:8.36px;line-height:8.36px;">人民东路站</div><div class="n" style="left:28.4px;top:231.3px;width:14.3px;height:8.36px;line-height:8.36px;font-size:7.2px;color:#222;-webkit-text-stroke:0.12px #222;">19</div><div class="s" style="left:42.7px;top:231.3px;width:47.5px;height:8.36px;line-height:8.36px;">长沙大道站</div><div class="n" style="left:28.4px;top:239.66px;width:14.3px;height:8.36px;line-height:8.36px;font-size:7.2px;color:#222;-webkit-text-stroke:0.12px #222;">20</div><div class="s" style="left:42.7px;top:239.66px;width:47.5px;height:8.36px;line-height:8.36px;">沙湾公园站</div><div class="n" style="left:28.4px;top:248.02px;width:14.3px;height:8.36px;line-height:8.36px;font-size:7.2px;color:#222;-webkit-text-stroke:0.12px #222;">21</div><div class="s" style="left:42.7px;top:248.02px;width:47.5px;height:8.36px;line-height:8.36px;">杜花路站</div><div class="n" style="left:28.4px;top:256.37px;width:14.3px;height:8.36px;line-height:8.36px;font-size:7.2px;color:#222;-webkit-text-stroke:0.12px #222;">22</div><div class="s" style="left:42.7px;top:256.37px;width:47.5px;height:8.36px;line-height:8.36px;">长沙火车南站</div><div class="n" style="left:28.4px;top:264.73px;width:14.3px;height:8.36px;line-height:8.36px;font-size:7.2px;color:#222;-webkit-text-stroke:0.12px #222;">23</div><div class="s" style="left:42.7px;top:264.73px;width:47.5px;height:8.36px;line-height:8.36px;">光达站</div><div class="n" style="left:28.4px;top:273.08px;width:14.3px;height:8.36px;line-height:8.36px;font-size:7.2px;color:#222;-webkit-text-stroke:0.12px #222;">1</div><div class="s" style="left:42.7px;top:273.08px;width:47.5px;height:8.36px;line-height:8.36px;">开福区政府站</div><div class="n" style="left:28.4px;top:281.44px;width:14.3px;height:8.36px;line-height:8.36px;font-size:7.2px;color:#222;-webkit-text-stroke:0.12px #222;">2</div><div class="s" style="left:42.7px;top:281.44px;width:47.5px;height:8.36px;line-height:8.36px;">马厂站</div><div class="n" style="left:28.4px;top:289.8px;width:14.3px;height:8.36px;line-height:8.36px;font-size:7.2px;color:#222;-webkit-text-stroke:0.12px #222;">3</div><div class="s" style="left:42.7px;top:289.8px;width:47.5px;height:8.36px;line-height:8.36px;">北辰三角洲站</div><div class="n" style="left:28.4px;top:298.15px;width:14.3px;height:8.36px;line-height:8.36px;font-size:7.2px;color:#222;-webkit-text-stroke:0.12px #222;">4</div><div class="s" style="left:42.7px;top:298.15px;width:47.5px;height:8.36px;line-height:8.36px;">开福寺站</div><div class="n" style="left:28.4px;top:306.51px;width:14.3px;height:8.36px;line-height:8.36px;font-size:7.2px;color:#222;-webkit-text-stroke:0.12px #222;">5</div><div class="s" style="left:42.7px;top:306.51px;width:47.5px;height:8.36px;line-height:8.36px;">文昌阁站</div><div class="n" style="left:28.4px;top:314.86px;width:14.3px;height:8.36px;line-height:8.36px;font-size:7.2px;color:#222;-webkit-text-stroke:0.12px #222;">6</div><div class="s" style="left:42.7px;top:314.86px;width:47.5px;height:8.36px;line-height:8.36px;">培元桥站</div><div class="n" style="left:28.4px;top:323.22px;width:14.3px;height:8.36px;line-height:8.36px;font-size:7.2px;color:#222;-webkit-text-stroke:0.12px #222;">7</div><div class="s" style="left:42.7px;top:323.22px;width:47.5px;height:8.36px;line-height:8.36px;">五一广场站1#</div><div class="n" style="left:28.4px;top:331.57px;width:14.3px;height:8.36px;line-height:8.36px;font-size:7.2px;color:#222;-webkit-text-stroke:0.12px #222;">8</div><div class="s" style="left:42.7px;top:331.57px;width:47.5px;height:8.36px;line-height:8.36px;">黄兴广场站</div><div class="n" style="left:28.4px;top:339.93px;width:14.3px;height:8.36px;line-height:8.36px;font-size:7.2px;color:#222;-webkit-text-stroke:0.12px #222;">9</div><div class="s" style="left:42.7px;top:339.93px;width:47.5px;height:8.36px;line-height:8.36px;">南门口站</div><div class="n" style="left:28.4px;top:348.29px;width:14.3px;height:8.36px;line-height:8.36px;font-size:7.2px;color:#222;-webkit-text-stroke:0.12px #222;">10</div><div class="s" style="left:42.7px;top:348.29px;width:47.5px;height:8.36px;line-height:8.36px;">侯家塘站</div><div class="n" style="left:28.4px;top:356.64px;width:14.3px;height:8.36px;line-height:8.36px;font-size:7.2px;color:#222;-webkit-text-stroke:0.12px #222;">11</div><div class="s" style="left:42.7px;top:356.64px;width:47.5px;height:8.36px;line-height:8.36px;">南湖路站</div><div class="n" style="left:28.4px;top:365.0px;width:14.3px;height:8.36px;line-height:8.36px;font-size:7.2px;color:#222;-webkit-text-stroke:0.12px #222;">12</div><div class="s" style="left:42.7px;top:365.0px;width:47.5px;height:8.36px;line-height:8.36px;">黄土岭站</div><div class="n" style="left:28.4px;top:373.35px;width:14.3px;height:8.36px;line-height:8.36px;font-size:7.2px;color:#222;-webkit-text-stroke:0.12px #222;">13</div><div class="s" style="left:42.7px;top:373.35px;width:47.5px;height:8.36px;line-height:8.36px;">涂家冲站</div><div class="n" style="left:28.4px;top:381.71px;width:14.3px;height:8.36px;line-height:8.36px;font-size:7.2px;color:#222;-webkit-text-stroke:0.12px #222;">14</div><div class="s" style="left:42.7px;top:381.71px;width:47.5px;height:8.36px;line-height:8.36px;">铁道学院站</div><div class="n" style="left:28.4px;top:390.07px;width:14.3px;height:8.36px;line-height:8.36px;font-size:7.2px;color:#222;-webkit-text-stroke:0.12px #222;">15</div><div class="s" style="left:42.7px;top:390.07px;width:47.5px;height:8.36px;line-height:8.36px;">友谊路站</div><div class="n" style="left:28.4px;top:398.42px;width:14.3px;height:8.36px;line-height:8.36px;font-size:7.2px;color:#222;-webkit-text-stroke:0.12px #222;">16</div><div class="s" style="left:42.7px;top:398.42px;width:47.5px;height:8.36px;line-height:8.36px;">省政府站</div><div class="n" style="left:28.4px;top:406.78px;width:14.3px;height:8.36px;line-height:8.36px;font-size:7.2px;color:#222;-webkit-text-stroke:0.12px #222;">17</div><div class="s" style="left:42.7px;top:406.78px;width:47.5px;height:8.36px;line-height:8.36px;">桂花坪站</div><div class="n" style="left:28.4px;top:415.13px;width:14.3px;height:8.36px;line-height:8.36px;font-size:7.2px;color:#222;-webkit-text-stroke:0.12px #222;">18</div><div class="s" style="left:42.7px;top:415.13px;width:47.5px;height:8.36px;line-height:8.36px;">大托站</div><div class="n" style="left:28.4px;top:423.49px;width:14.3px;height:8.36px;line-height:8.36px;font-size:7.2px;color:#222;-webkit-text-stroke:0.12px #222;">19</div><div class="s" style="left:42.7px;top:423.49px;width:47.5px;height:8.36px;line-height:8.36px;">中信广场站</div><div class="n" style="left:28.4px;top:431.84px;width:14.3px;height:8.36px;line-height:8.36px;font-size:7.2px;color:#222;-webkit-text-stroke:0.12px #222;">20</div><div class="s" style="left:42.7px;top:431.84px;width:47.5px;height:8.36px;line-height:8.36px;">尚双塘站</div><div class="n" style="left:0;top:79.7px;width:28.4px;height:192.18px;line-height:192.18px;font-size:6.2px;font-weight:bold;color:#111;font-family:'Liberation Serif','Noto Serif CJK SC',serif;">2号线</div><div class="n" style="left:0;top:271.88px;width:28.4px;height:167.12px;line-height:167.12px;font-size:6.2px;font-weight:bold;color:#111;font-family:'Liberation Serif','Noto Serif CJK SC',serif;">1号线</div><div class="v" style="left:89.75px;top:0.0px;height:79.7px;background:rgba(0,0,0,0.5)"></div><div class="v" style="left:89.75px;top:79.7px;height:359.8px"></div><div class="v" style="left:100.6px;top:9.0px;height:70.7px;background:rgba(0,0,0,0.32)"></div><div class="v" style="left:100.6px;top:79.7px;height:359.8px"></div><div class="v" style="left:112.1px;top:9.0px;height:70.7px;background:rgba(0,0,0,0.5)"></div><div class="v" style="left:112.1px;top:79.7px;height:359.8px"></div><div class="v" style="left:123.1px;top:9.0px;height:70.7px;background:rgba(0,0,0,0.32)"></div><div class="v" style="left:123.1px;top:79.7px;height:359.8px"></div><div class="v" style="left:134.4px;top:9.0px;height:70.7px;background:rgba(0,0,0,0.32)"></div><div class="v" style="left:134.4px;top:79.7px;height:359.8px"></div><div class="v" style="left:145.6px;top:9.0px;height:70.7px;background:rgba(0,0,0,0.32)"></div><div class="v" style="left:145.6px;top:79.7px;height:359.8px"></div><div class="v" style="left:158.0px;top:9.0px;height:70.7px;background:rgba(0,0,0,0.32)"></div><div class="v" style="left:158.0px;top:79.7px;height:359.8px"></div><div class="v" style="left:170.75px;top:9.0px;height:70.7px;background:rgba(0,0,0,0.32)"></div><div class="v" style="left:170.75px;top:79.7px;height:359.8px"></div><div class="v" style="left:183.25px;top:9.0px;height:70.7px;background:rgba(0,0,0,0.32)"></div><div class="v" style="left:183.25px;top:79.7px;height:359.8px"></div><div class="v" style="left:197.0px;top:9.0px;height:70.7px;background:rgba(0,0,0,0.32)"></div><div class="v" style="left:197.0px;top:79.7px;height:359.8px"></div><div class="v" style="left:212.6px;top:9.0px;height:70.7px;background:rgba(0,0,0,0.32)"></div><div class="v" style="left:212.6px;top:79.7px;height:359.8px"></div><div class="v" style="left:228.25px;top:9.0px;height:70.7px;background:rgba(0,0,0,0.32)"></div><div class="v" style="left:228.25px;top:79.7px;height:359.8px"></div><div class="v" style="left:243.25px;top:9.0px;height:70.7px;background:rgba(0,0,0,0.32)"></div><div class="v" style="left:243.25px;top:79.7px;height:359.8px"></div><div class="v" style="left:257.0px;top:9.0px;height:70.7px;background:rgba(0,0,0,0.32)"></div><div class="v" style="left:257.0px;top:79.7px;height:359.8px"></div><div class="v" style="left:270.4px;top:9.0px;height:70.7px;background:rgba(0,0,0,0.32)"></div><div class="v" style="left:270.4px;top:79.7px;height:359.8px"></div><div class="v" style="left:284.1px;top:9.0px;height:70.7px;background:rgba(0,0,0,0.32)"></div><div class="v" style="left:284.1px;top:79.7px;height:359.8px"></div><div class="v" style="left:298.4px;top:9.0px;height:70.7px;background:rgba(0,0,0,0.32)"></div><div class="v" style="left:298.4px;top:79.7px;height:359.8px"></div><div class="v" style="left:310.25px;top:9.0px;height:70.7px;background:rgba(0,0,0,0.32)"></div><div class="v" style="left:310.25px;top:79.7px;height:359.8px"></div><div class="v" style="left:322.4px;top:9.0px;height:70.7px;background:rgba(0,0,0,0.32)"></div><div class="v" style="left:322.4px;top:79.7px;height:359.8px"></div><div class="v" style="left:335.25px;top:9.0px;height:70.7px;background:rgba(0,0,0,0.32)"></div><div class="v" style="left:335.25px;top:79.7px;height:359.8px"></div><div class="v" style="left:348.0px;top:9.0px;height:70.7px;background:rgba(0,0,0,0.32)"></div><div class="v" style="left:348.0px;top:79.7px;height:359.8px"></div><div class="v" style="left:361.1px;top:9.0px;height:70.7px;background:rgba(0,0,0,0.32)"></div><div class="v" style="left:361.1px;top:79.7px;height:359.8px"></div><div class="v" style="left:372.9px;top:9.0px;height:70.7px;background:rgba(0,0,0,0.32)"></div><div class="v" style="left:372.9px;top:79.7px;height:359.8px"></div><div class="v" style="left:383.75px;top:0.0px;height:79.7px;background:rgba(0,0,0,0.5)"></div><div class="v" style="left:383.75px;top:79.7px;height:359.8px"></div><div class="v" style="left:396.9px;top:9.0px;height:70.7px;background:rgba(0,0,0,0.32)"></div><div class="v" style="left:396.9px;top:79.7px;height:359.8px"></div><div class="v" style="left:409.75px;top:9.0px;height:70.7px;background:rgba(0,0,0,0.32)"></div><div class="v" style="left:409.75px;top:79.7px;height:359.8px"></div><div class="v" style="left:421.25px;top:9.0px;height:70.7px;background:rgba(0,0,0,0.32)"></div><div class="v" style="left:421.25px;top:79.7px;height:359.8px"></div><div class="v" style="left:433.75px;top:9.0px;height:70.7px;background:rgba(0,0,0,0.32)"></div><div class="v" style="left:433.75px;top:79.7px;height:359.8px"></div><div class="v" style="left:444.9px;top:9.0px;height:70.7px;background:rgba(0,0,0,0.32)"></div><div class="v" style="left:444.9px;top:79.7px;height:359.8px"></div><div class="v" style="left:458.0px;top:9.0px;height:70.7px;background:rgba(0,0,0,0.32)"></div><div class="v" style="left:458.0px;top:79.7px;height:359.8px"></div><div class="v" style="left:471.75px;top:9.0px;height:70.7px;background:rgba(0,0,0,0.32)"></div><div class="v" style="left:471.75px;top:79.7px;height:359.8px"></div><div class="v" style="left:484.75px;top:9.0px;height:70.7px;background:rgba(0,0,0,0.32)"></div><div class="v" style="left:484.75px;top:79.7px;height:359.8px"></div><div class="v" style="left:498.9px;top:9.0px;height:70.7px;background:rgba(0,0,0,0.32)"></div><div class="v" style="left:498.9px;top:79.7px;height:359.8px"></div><div class="v" style="left:512.5px;top:9.0px;height:70.7px;background:rgba(0,0,0,0.32)"></div><div class="v" style="left:512.5px;top:79.7px;height:359.8px"></div><div class="v" style="left:524.25px;top:9.0px;height:70.7px;background:rgba(0,0,0,0.32)"></div><div class="v" style="left:524.25px;top:79.7px;height:359.8px"></div><div class="v" style="left:535.1px;top:9.0px;height:70.7px;background:rgba(0,0,0,0.32)"></div><div class="v" style="left:535.1px;top:79.7px;height:359.8px"></div><div class="v" style="left:549.25px;top:9.0px;height:70.7px;background:rgba(0,0,0,0.32)"></div><div class="v" style="left:549.25px;top:79.7px;height:359.8px"></div><div class="v" style="left:562.0px;top:9.0px;height:70.7px;background:rgba(0,0,0,0.32)"></div><div class="v" style="left:562.0px;top:79.7px;height:359.8px"></div><div class="v" style="left:575.1px;top:9.0px;height:70.7px;background:rgba(0,0,0,0.32)"></div><div class="v" style="left:575.1px;top:79.7px;height:359.8px"></div><div class="v" style="left:586.9px;top:9.0px;height:70.7px;background:rgba(0,0,0,0.32)"></div><div class="v" style="left:586.9px;top:79.7px;height:359.8px"></div><div class="v" style="left:601.1px;top:9.0px;height:70.7px;background:rgba(0,0,0,0.32)"></div><div class="v" style="left:601.1px;top:79.7px;height:359.8px"></div><div class="v" style="left:612.8px;top:9.0px;height:70.7px;background:rgba(0,0,0,0.32)"></div><div class="v" style="left:612.8px;top:79.7px;height:359.8px"></div><div class="v" style="left:624.2px;top:9.0px;height:70.7px;background:rgba(0,0,0,0.32)"></div><div class="v" style="left:624.2px;top:79.7px;height:359.8px"></div><div class="v" style="left:635.7px;top:0.0px;height:79.7px;background:rgba(0,0,0,0.5)"></div><div class="v" style="left:635.7px;top:79.7px;height:359.8px"></div><div class="v" style="left:27.6px;top:79.7px;height:359.3px;background:rgba(0,0,0,0.12)"></div><div class="v" style="left:42.2px;top:79.7px;height:359.3px"></div><div class="hl" style="left:27px;top:79.2px;width:609.2px"></div><div class="hl" style="left:0;top:79.2px;width:27px;background:rgba(0,0,0,0.45)"></div><div class="hl" style="left:27px;top:87.56px;width:609.2px"></div><div class="hl" style="left:27px;top:95.91px;width:609.2px"></div><div class="hl" style="left:27px;top:104.27px;width:609.2px"></div><div class="hl" style="left:27px;top:112.62px;width:609.2px"></div><div class="hl" style="left:27px;top:120.98px;width:609.2px"></div><div class="hl" style="left:27px;top:129.33px;width:609.2px"></div><div class="hl" style="left:27px;top:137.69px;width:609.2px"></div><div class="hl" style="left:27px;top:146.05px;width:609.2px"></div><div class="hl" style="left:27px;top:154.4px;width:609.2px"></div><div class="hl" style="left:27px;top:162.76px;width:609.2px"></div><div class="hl" style="left:27px;top:171.11px;width:609.2px"></div><div class="hl" style="left:27px;top:179.47px;width:609.2px"></div><div class="hl" style="left:27px;top:187.83px;width:609.2px"></div><div class="hl" style="left:27px;top:196.18px;width:609.2px"></div><div class="hl" style="left:27px;top:204.54px;width:609.2px"></div><div class="hl" style="left:27px;top:212.89px;width:609.2px"></div><div class="hl" style="left:27px;top:221.25px;width:609.2px"></div><div class="hl" style="left:27px;top:229.6px;width:609.2px"></div><div class="hl" style="left:27px;top:237.96px;width:609.2px"></div><div class="hl" style="left:27px;top:246.32px;width:609.2px"></div><div class="hl" style="left:27px;top:254.67px;width:609.2px"></div><div class="hl" style="left:27px;top:263.03px;width:609.2px"></div><div class="hl" style="left:27px;top:271.38px;width:609.2px"></div><div class="hl" style="left:1px;top:271.38px;width:26px;background:rgba(0,0,0,0.3)"></div><div class="hl" style="left:27px;top:279.74px;width:609.2px"></div><div class="hl" style="left:27px;top:288.1px;width:609.2px"></div><div class="hl" style="left:27px;top:296.45px;width:609.2px"></div><div class="hl" style="left:27px;top:304.81px;width:609.2px"></div><div class="hl" style="left:27px;top:313.16px;width:609.2px"></div><div class="hl" style="left:27px;top:321.52px;width:609.2px"></div><div class="hl" style="left:27px;top:329.87px;width:609.2px"></div><div class="hl" style="left:27px;top:338.23px;width:609.2px"></div><div class="hl" style="left:27px;top:346.59px;width:609.2px"></div><div class="hl" style="left:27px;top:354.94px;width:609.2px"></div><div class="hl" style="left:27px;top:363.3px;width:609.2px"></div><div class="hl" style="left:27px;top:371.65px;width:609.2px"></div><div class="hl" style="left:27px;top:380.01px;width:609.2px"></div><div class="hl" style="left:27px;top:388.37px;width:609.2px"></div><div class="hl" style="left:27px;top:396.72px;width:609.2px"></div><div class="hl" style="left:27px;top:405.08px;width:609.2px"></div><div class="hl" style="left:27px;top:413.43px;width:609.2px"></div><div class="hl" style="left:27px;top:421.79px;width:609.2px"></div><div class="hl" style="left:27px;top:430.14px;width:609.2px"></div><div class="hl" style="left:27px;top:438.5px;width:609.2px"></div><div class="hl" style="left:0;top:438.5px;width:27px;background:rgba(0,0,0,0.45)"></div><div class="hl" style="left:90.25px;top:8.5px;width:545.95px"></div><div class="hl" style="left:90.25px;top:17.8px;width:545.95px"></div><div class="hl" style="left:0;top:0;width:90px;background:#e4e4e4"></div><div class="hl" style="left:90px;top:0;width:550px;background:#c4c4c4"></div></div></body></html>
